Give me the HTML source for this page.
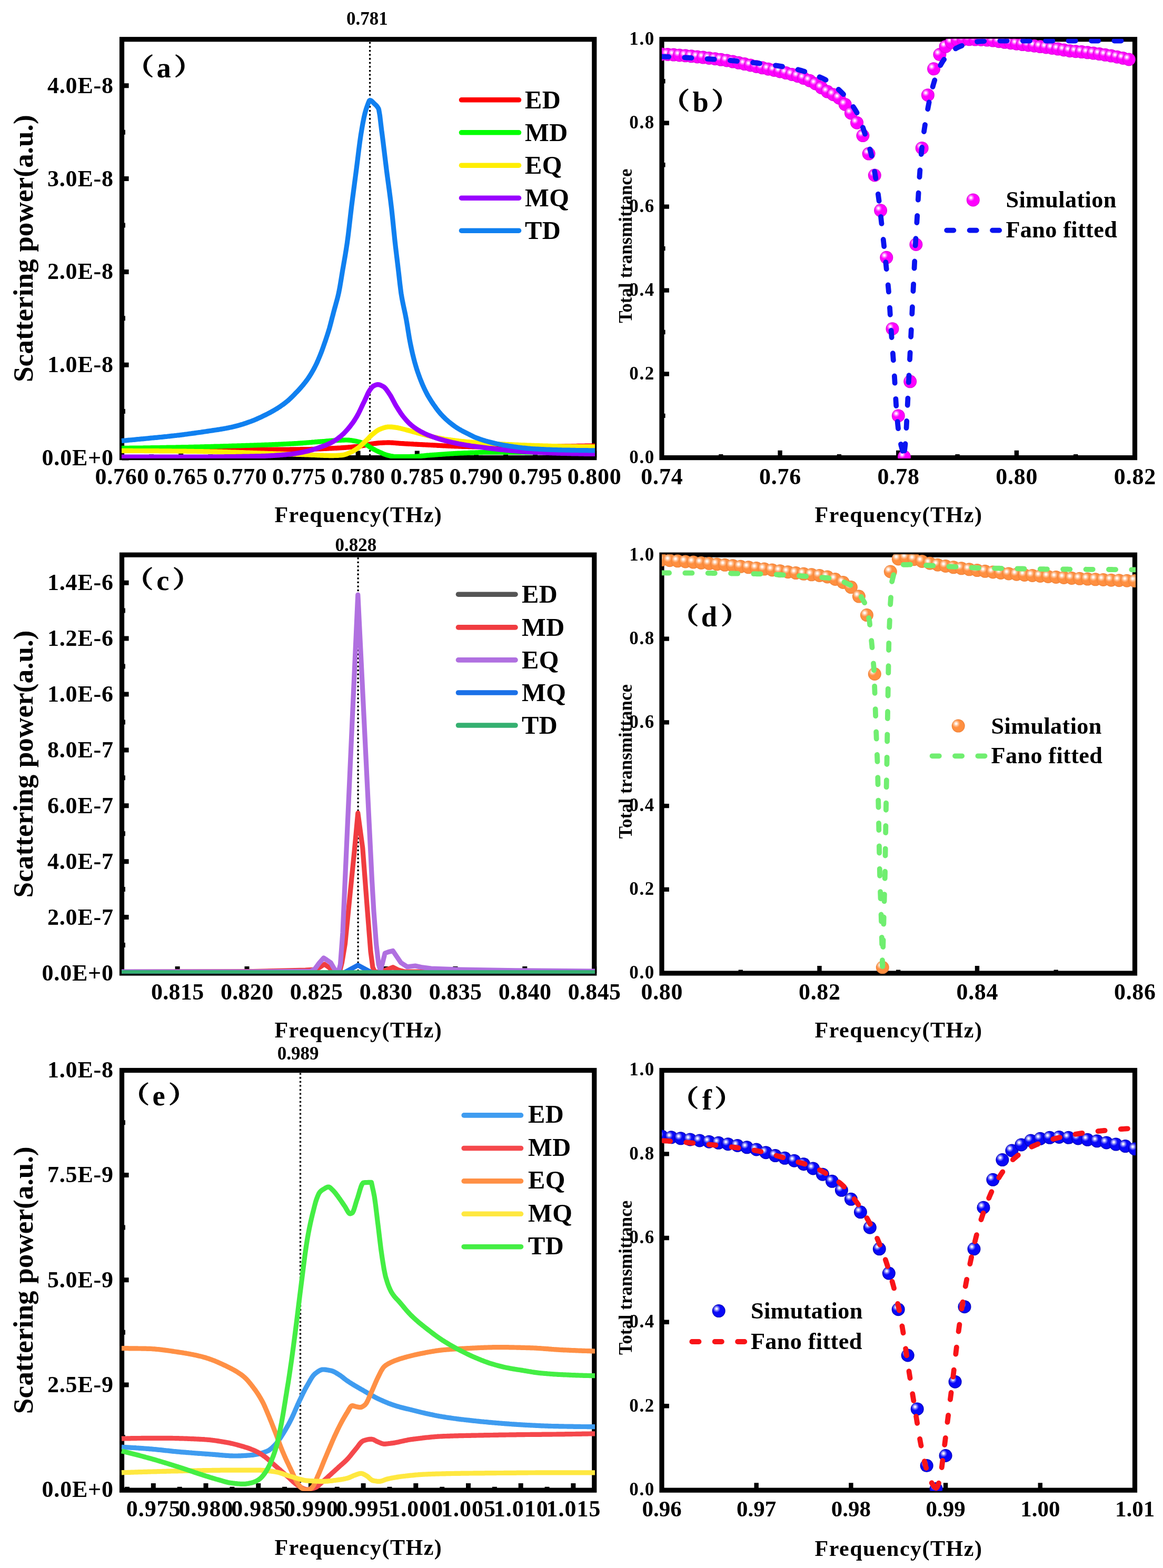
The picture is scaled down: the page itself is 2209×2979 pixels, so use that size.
<!DOCTYPE html>
<html lang="en"><head><meta charset="utf-8"><title>Scattering power and total transmittance</title>
<style>html,body{margin:0;padding:0;background:#fff}body{width:2209px;height:2979px;overflow:hidden}svg{display:block}</style>
</head><body>
<svg width="2209" height="2979" viewBox="0 0 2209 2979" font-family='"Liberation Serif", "Noto Serif CJK SC", serif' font-weight="bold" fill="#000">
<defs><clipPath id="c1"><rect x="230" y="73.2" width="900.3" height="797.9"/></clipPath><clipPath id="c2"><rect x="1257" y="73.8" width="900" height="797.3"/></clipPath><radialGradient id="gbb"><stop offset="0" stop-color="#ff00ff"/><stop offset="0.82" stop-color="#ff00ff"/><stop offset="1" stop-color="#d808d8"/></radialGradient><radialGradient id="gbh"><stop offset="0" stop-color="#fff" stop-opacity="1"/><stop offset="0.22" stop-color="#fff" stop-opacity="0.92"/><stop offset="0.55" stop-color="#fff" stop-opacity="0.45"/><stop offset="1" stop-color="#fff" stop-opacity="0"/></radialGradient><g id="gb"><circle r="12.5" fill="url(#gbb)"/><circle cx="-4.1" cy="-4.2" r="6.8" fill="url(#gbh)"/></g><clipPath id="c3"><rect x="230" y="1052.7" width="900.3" height="797"/></clipPath><clipPath id="c4"><rect x="1257" y="1053.3" width="900" height="797.2"/></clipPath><radialGradient id="gdb"><stop offset="0" stop-color="#ff8f40"/><stop offset="0.82" stop-color="#ff8f40"/><stop offset="1" stop-color="#ec8038"/></radialGradient><radialGradient id="gdh"><stop offset="0" stop-color="#fff" stop-opacity="1"/><stop offset="0.22" stop-color="#fff" stop-opacity="0.92"/><stop offset="0.55" stop-color="#fff" stop-opacity="0.45"/><stop offset="1" stop-color="#fff" stop-opacity="0"/></radialGradient><g id="gd"><circle r="12.5" fill="url(#gdb)"/><circle cx="-4.1" cy="-4.2" r="7.4" fill="url(#gdh)"/></g><clipPath id="c5"><rect x="230" y="2032" width="900.3" height="800.7"/></clipPath><clipPath id="c6"><rect x="1257" y="2032.6" width="900" height="800.1"/></clipPath><radialGradient id="gfb"><stop offset="0" stop-color="#0808f8"/><stop offset="0.82" stop-color="#0808f8"/><stop offset="1" stop-color="#0000b0"/></radialGradient><radialGradient id="gfh"><stop offset="0" stop-color="#fff" stop-opacity="1"/><stop offset="0.22" stop-color="#fff" stop-opacity="0.9"/><stop offset="0.55" stop-color="#fff" stop-opacity="0.45"/><stop offset="1" stop-color="#fff" stop-opacity="0"/></radialGradient><g id="gf"><circle r="12.5" fill="url(#gfb)"/><circle cx="-4.1" cy="-4.2" r="7.2" fill="url(#gfh)"/></g></defs>
<rect x="231.5" y="74.7" width="897.3" height="794.9" fill="none" stroke="#000" stroke-width="9.2"/>
<path d="M231.5 870h13.1M231.5 693.2h13.1M231.5 516.4h13.1M231.5 339.6h13.1M231.5 162.8h13.1" stroke="#000" stroke-width="9" fill="none"/>
<path d="M231.5 781.6h6.4M231.5 604.8h6.4M231.5 428h6.4M231.5 251.2h6.4" stroke="#000" stroke-width="9" fill="none"/>
<path d="M231.5 869.6v-13.1M343.7 869.6v-13.1M455.8 869.6v-13.1M568 869.6v-13.1M680.1 869.6v-13.1M792.3 869.6v-13.1M904.5 869.6v-13.1M1016.6 869.6v-13.1M1128.8 869.6v-13.1" stroke="#000" stroke-width="9" fill="none"/>
<path d="M287.6 869.6v-6.4M399.7 869.6v-6.4M511.9 869.6v-6.4M624.1 869.6v-6.4M736.2 869.6v-6.4M848.4 869.6v-6.4M960.6 869.6v-6.4M1072.7 869.6v-6.4" stroke="#000" stroke-width="9" fill="none"/>
<path d="M702.6 79.7V869.6" stroke="#000" stroke-width="3.3" stroke-dasharray="3.3 4.3" fill="none"/>
<g clip-path="url(#c1)">
<path d="M231 853.6 L233 853.6 L235 853.6 L237 853.6 L239 853.6 L241 853.6 L243 853.6 L245 853.6 L247 853.6 L249 853.6 L251 853.6 L253 853.6 L255 853.6 L257 853.6 L259 853.7 L261 853.7 L263 853.7 L265 853.7 L267 853.7 L269 853.7 L271 853.7 L273 853.7 L275 853.7 L277.1 853.7 L279.1 853.7 L281.1 853.7 L283.1 853.7 L285.1 853.7 L287.1 853.7 L289.1 853.7 L291.1 853.7 L293.1 853.7 L295.1 853.7 L297.1 853.7 L299.1 853.7 L301.1 853.7 L303.1 853.7 L305.1 853.7 L307.1 853.7 L309.1 853.8 L311.1 853.8 L313.1 853.8 L315.1 853.8 L317.1 853.8 L319.1 853.8 L321.1 853.8 L323.1 853.8 L325.1 853.8 L327.1 853.8 L329.1 853.8 L331 853.8 L331.1 853.8 L333.1 853.8 L335.1 853.8 L337.1 853.8 L339.1 853.8 L341.1 853.8 L343.1 853.8 L345.1 853.8 L347.1 853.8 L349.1 853.8 L351.1 853.8 L353.1 853.9 L355.1 853.9 L357.1 853.9 L359.1 853.9 L361.1 853.9 L363.1 853.9 L365.1 853.9 L367.2 853.9 L369.2 853.9 L371.2 853.9 L373.2 853.9 L375.2 853.9 L377.2 853.9 L379.2 853.9 L381.2 853.9 L383.2 853.9 L385.2 853.9 L387.2 853.9 L389.2 853.9 L391.2 853.9 L393.2 853.9 L395.2 854 L397.2 854 L399.2 854 L401.2 854 L403.2 854 L405.2 854 L407.2 854 L409.2 854 L411.2 854 L413.2 854 L415 854 L415.2 854 L417.2 854 L419.2 854 L421.2 854 L423.2 854 L425.2 854 L427.2 854 L429.2 854 L431.2 854 L433.2 854.1 L435.2 854.1 L437.2 854.1 L439.2 854.1 L441.2 854.1 L443.2 854.1 L445.2 854.1 L447.2 854.1 L449.2 854.1 L451.2 854.1 L453.2 854.1 L455.2 854.1 L457.3 854.1 L459.3 854.1 L461.3 854.1 L463.3 854.1 L465.3 854.1 L467.3 854.2 L469.3 854.2 L471.3 854.2 L473.3 854.2 L475.3 854.2 L477.3 854.2 L479.3 854.2 L481.3 854.2 L483.3 854.2 L485.3 854.2 L487.3 854.2 L489.3 854.2 L491.3 854.2 L493.3 854.2 L495.3 854.2 L497.3 854.2 L498.5 854.2 L499.3 854.2 L501.3 854.2 L503.3 854.2 L505.3 854.2 L507.3 854.2 L509.3 854.2 L511.3 854.2 L513.3 854.2 L515.3 854.2 L517.3 854.2 L519.3 854.2 L521.3 854.1 L523.3 854.1 L525.3 854.1 L527.3 854.1 L529.3 854.1 L531.3 854.1 L533.3 854.1 L535.3 854.1 L537.3 854.1 L539.3 854 L541.3 854 L543.3 854 L545.3 854 L547.4 854 L549.4 854 L551.4 853.9 L553.4 853.9 L555.4 853.9 L557.4 853.9 L559.4 853.9 L561.4 853.8 L563.4 853.8 L565.4 853.8 L567.4 853.8 L569.4 853.8 L571.4 853.7 L573.4 853.7 L575.4 853.7 L577.4 853.7 L579.4 853.6 L581.4 853.6 L582 853.6 L583.4 853.6 L585.4 853.5 L587.4 853.5 L589.4 853.5 L591.4 853.4 L593.4 853.4 L595.4 853.3 L597.4 853.3 L599.4 853.2 L601.4 853.1 L603.4 853 L605.4 853 L607.4 852.9 L609.4 852.8 L611.4 852.7 L613.4 852.6 L615.4 852.5 L617.4 852.4 L619.4 852.3 L621.4 852.2 L623.4 852.1 L625.4 852 L627.4 851.9 L629.4 851.8 L631.4 851.7 L633.4 851.6 L635.4 851.5 L637.5 851.4 L637.7 851.4 L639.5 851.3 L641.5 851.2 L643.5 851.1 L645.5 851 L647.5 850.8 L649.5 850.7 L651.5 850.6 L653.5 850.4 L655.5 850.3 L657.5 850.1 L659.5 850 L661.5 849.8 L663.5 849.6 L665.5 849.5 L667.5 849.3 L669.5 849.1 L671.5 848.9 L673.5 848.7 L675.5 848.5 L677.5 848.3 L679.5 848.1 L680 848 L681.5 847.8 L683.5 847.5 L685.5 847.2 L687.5 846.9 L689.5 846.6 L691.5 846.2 L693.5 845.9 L693.9 845.8 L695.5 845.5 L697.5 845.1 L699.5 844.6 L701.5 844.2 L703.5 843.7 L705.5 843.4 L707.5 843 L707.8 843 L709.5 842.8 L711.5 842.5 L713.5 842.3 L715.5 842.1 L717.5 841.9 L719.5 841.7 L721.5 841.5 L723.5 841.4 L725.6 841.3 L727.3 841.2 L727.6 841.2 L729.6 841.1 L731.6 841 L733.6 841 L735.6 840.9 L737.3 840.9 L737.6 840.9 L739.6 840.9 L741.6 841 L743.6 841.1 L745.6 841.2 L747.6 841.3 L749.6 841.5 L751.6 841.7 L753.6 841.8 L755.6 842 L757.6 842.2 L759.6 842.3 L761.6 842.5 L763.5 842.6 L763.6 842.6 L765.6 842.7 L767.6 842.8 L769.6 843 L771.6 843.1 L773.6 843.2 L775.6 843.3 L777.6 843.4 L779.6 843.5 L781.6 843.6 L783.6 843.7 L785.6 843.9 L787.6 844 L789.6 844.1 L791.6 844.2 L793.6 844.3 L795.6 844.4 L797.6 844.5 L799.6 844.6 L801.6 844.7 L803.6 844.8 L805.6 844.9 L807.6 845 L809.6 845.1 L811.6 845.2 L813.6 845.3 L815.7 845.4 L817.7 845.5 L819.2 845.6 L819.7 845.6 L821.7 845.7 L823.7 845.8 L825.7 845.9 L827.7 846 L829.7 846.1 L831.7 846.3 L833.7 846.4 L835.7 846.5 L837.7 846.6 L839.7 846.7 L841.7 846.8 L843.7 846.9 L845.7 847 L847.7 847.1 L849.7 847.2 L851.7 847.3 L853.7 847.4 L855.7 847.5 L857.7 847.6 L859.7 847.7 L861.7 847.7 L863.7 847.8 L865.7 847.9 L867.7 848 L869.7 848 L871.7 848.1 L873.7 848.2 L875 848.2 L875.7 848.2 L877.7 848.3 L879.7 848.3 L881.7 848.4 L883.7 848.4 L885.7 848.5 L887.7 848.5 L889.7 848.6 L891.7 848.6 L893.7 848.7 L895.7 848.7 L897.7 848.8 L899.7 848.8 L901.7 848.9 L903.7 848.9 L905.8 848.9 L907.8 849 L909.8 849 L911.8 849 L913.8 849.1 L915.8 849.1 L917.8 849.1 L919.8 849.1 L921.8 849.2 L923.8 849.2 L925.8 849.2 L927.8 849.2 L929.8 849.2 L930 849.2 L931.8 849.2 L933.8 849.2 L935.8 849.2 L937.8 849.2 L939.8 849.2 L941.8 849.2 L943.8 849.2 L945.8 849.2 L947.8 849.2 L949.8 849.2 L951.8 849.1 L953.8 849.1 L955.8 849.1 L957.8 849.1 L959.8 849.1 L961.8 849.1 L963.8 849.1 L965.8 849.1 L967.8 849 L969.8 849 L971.8 849 L973.8 849 L975.8 849 L977.8 849 L979.8 848.9 L981.8 848.9 L983.8 848.9 L985.8 848.9 L987.8 848.9 L989.8 848.8 L991.8 848.8 L993.8 848.8 L995.9 848.8 L997.9 848.8 L999.9 848.7 L1001.9 848.7 L1003.9 848.7 L1005.9 848.7 L1007.9 848.7 L1009.9 848.6 L1011.9 848.6 L1013.9 848.6 L1014 848.6 L1015.9 848.6 L1017.9 848.6 L1019.9 848.5 L1021.9 848.5 L1023.9 848.5 L1025.9 848.5 L1027.9 848.4 L1029.9 848.4 L1031.9 848.4 L1033.9 848.4 L1035.9 848.3 L1037.9 848.3 L1039.9 848.3 L1041.9 848.2 L1043.9 848.2 L1045.9 848.2 L1047.9 848.1 L1049.9 848.1 L1051.9 848.1 L1053.9 848 L1055.9 848 L1057.9 848 L1059.9 847.9 L1061.9 847.9 L1063.9 847.9 L1065.9 847.9 L1067.9 847.8 L1069.9 847.8 L1070 847.8 L1071.9 847.8 L1073.9 847.7 L1075.9 847.7 L1077.9 847.7 L1079.9 847.7 L1081.9 847.6 L1083.9 847.6 L1086 847.6 L1088 847.6 L1090 847.5 L1092 847.5 L1094 847.5 L1096 847.4 L1098 847.4 L1100 847.4 L1102 847.4 L1104 847.3 L1106 847.3 L1108 847.3 L1110 847.3 L1112 847.2 L1114 847.2 L1116 847.2 L1118 847.2 L1120 847.1 L1122 847.1 L1124 847.1 L1126 847.1 L1128 847 L1130 847" stroke="#ff0000" stroke-width="9.2" fill="none" stroke-linejoin="round"/>
<path d="M231 851.4 L233 851.4 L235 851.4 L237 851.3 L239 851.3 L241 851.3 L243 851.3 L245 851.3 L247 851.2 L249 851.2 L251 851.2 L253 851.2 L255 851.2 L257 851.1 L259 851.1 L261 851.1 L263 851.1 L265 851 L267 851 L269 851 L271 851 L273 850.9 L275 850.9 L277.1 850.9 L279.1 850.8 L281.1 850.8 L283.1 850.8 L285.1 850.8 L287.1 850.7 L289.1 850.7 L291.1 850.7 L293.1 850.6 L295.1 850.6 L297.1 850.6 L299.1 850.5 L301.1 850.5 L303.1 850.5 L305.1 850.4 L307.1 850.4 L309.1 850.4 L311.1 850.4 L313.1 850.3 L315.1 850.3 L317.1 850.2 L319.1 850.2 L321.1 850.2 L323.1 850.1 L325.1 850.1 L327.1 850.1 L329.1 850 L331.1 850 L331.4 850 L333.1 850 L335.1 849.9 L337.1 849.9 L339.1 849.9 L341.1 849.8 L343.1 849.8 L345.1 849.7 L347.1 849.7 L349.1 849.7 L351.1 849.6 L353.1 849.6 L355.1 849.5 L357.1 849.5 L359.1 849.4 L361.1 849.4 L363.1 849.4 L365.1 849.3 L367.2 849.3 L369.2 849.2 L371.2 849.2 L373.2 849.1 L375.2 849.1 L377.2 849 L379.2 849 L381.2 848.9 L383.2 848.9 L385.2 848.8 L387.2 848.8 L389.2 848.7 L391.2 848.7 L393.2 848.6 L395.2 848.6 L397.2 848.5 L399.2 848.5 L401.2 848.4 L403.2 848.3 L405.2 848.3 L407.2 848.2 L409.2 848.2 L411.2 848.1 L413.2 848.1 L415.2 848 L417.2 848 L419.2 847.9 L421.2 847.8 L423.2 847.8 L425.2 847.7 L427.2 847.7 L429.2 847.6 L431.2 847.5 L433.2 847.5 L435.2 847.4 L437.2 847.4 L439.2 847.3 L441.2 847.2 L442.8 847.2 L443.2 847.2 L445.2 847.1 L447.2 847.1 L449.2 847 L451.2 846.9 L453.2 846.9 L455.2 846.8 L457.3 846.8 L459.3 846.7 L461.3 846.6 L463.3 846.6 L465.3 846.5 L467.3 846.4 L469.3 846.4 L471.3 846.3 L473.3 846.3 L475.3 846.2 L477.3 846.1 L479.3 846.1 L481.3 846 L483.3 845.9 L485.3 845.9 L487.3 845.8 L489.3 845.7 L491.3 845.7 L493.3 845.6 L495.3 845.5 L497.3 845.4 L499.3 845.4 L501.3 845.3 L503.3 845.2 L505.3 845.1 L507.3 845.1 L509.3 845 L511.3 844.9 L513.3 844.8 L515.3 844.8 L517.3 844.7 L519.3 844.6 L521.3 844.5 L523.3 844.4 L525.3 844.4 L527.3 844.3 L529.3 844.2 L531.3 844.1 L533.3 844 L535.3 843.9 L537.3 843.8 L539.3 843.7 L541.3 843.6 L543.3 843.5 L545.3 843.4 L547.4 843.3 L549.4 843.2 L551.4 843.1 L553.4 843 L554.2 843 L555.4 842.9 L557.4 842.8 L559.4 842.7 L561.4 842.6 L563.4 842.5 L565.4 842.3 L567.4 842.2 L569.4 842.1 L571.4 841.9 L573.4 841.8 L575.4 841.6 L577.4 841.5 L579.4 841.3 L581.4 841.2 L583.4 841 L585.4 840.8 L587.4 840.7 L589.4 840.5 L591.4 840.4 L593.4 840.2 L595.4 840 L597.4 839.9 L599.4 839.7 L601.4 839.6 L603.4 839.4 L605.4 839.2 L607.4 839.1 L609.4 838.9 L609.9 838.9 L611.4 838.8 L613.4 838.6 L615.4 838.5 L617.4 838.3 L619.4 838.1 L621.4 837.9 L623.4 837.8 L625.4 837.6 L627.4 837.4 L629.4 837.3 L631.4 837.1 L633.4 837 L635.4 836.8 L637.5 836.7 L639.5 836.6 L640 836.6 L641.5 836.5 L643.5 836.4 L645.5 836.4 L647.5 836.3 L649.5 836.2 L651.5 836.1 L653.5 836.1 L655.5 836 L657.5 836 L658.6 836 L659.5 836 L661.5 836.1 L663.5 836.2 L665.5 836.5 L667.5 836.7 L669.5 837 L671.5 837.4 L673.5 837.7 L675.5 838.1 L676.7 838.3 L677.5 838.5 L679.5 838.9 L681.5 839.4 L683.5 839.9 L685.5 840.6 L687.5 841.2 L689.5 842 L691.5 842.7 L691.9 842.9 L693.5 843.6 L695.5 844.7 L697.5 845.9 L699.5 847.2 L701.5 848.6 L703.5 849.9 L705.5 851.2 L707 852 L707.5 852.3 L709.5 853.4 L711.5 854.4 L713.5 855.5 L715.5 856.5 L717.5 857.4 L719.5 858.4 L721.5 859.3 L722.1 859.5 L723.5 860.1 L725.6 861 L727.6 861.9 L729.6 862.7 L731.6 863.5 L733.6 864.2 L735.6 864.8 L737.3 865.2 L737.6 865.3 L739.6 865.7 L741.6 866.2 L743.6 866.6 L745.6 866.9 L747.6 867.3 L749.6 867.5 L751.6 867.6 L752.4 867.6 L753.6 867.6 L755.6 867.6 L757.6 867.6 L759.6 867.6 L761.6 867.6 L763.6 867.6 L765.6 867.6 L767.6 867.5 L769.6 867.5 L771.6 867.5 L773.6 867.5 L775.6 867.5 L777.6 867.5 L779.6 867.4 L781.6 867.4 L782.7 867.4 L783.6 867.4 L785.6 867.3 L787.6 867.3 L789.6 867.2 L791.6 867 L793.6 866.9 L795.6 866.7 L797.6 866.6 L799.6 866.4 L801.6 866.2 L803.6 866 L805.6 865.8 L807.6 865.6 L809.6 865.4 L811.6 865.2 L813.6 865 L815.7 864.9 L817.7 864.7 L819.2 864.6 L819.7 864.6 L821.7 864.4 L823.7 864.3 L825.7 864.1 L827.7 864 L829.7 863.8 L831.7 863.7 L833.7 863.5 L835.7 863.4 L837.7 863.3 L839.7 863.1 L841.7 863 L843.7 862.8 L845.7 862.7 L847.7 862.5 L849.7 862.4 L851.7 862.3 L853.7 862.1 L855.7 862 L857.7 861.9 L859.7 861.8 L861.7 861.6 L863.7 861.5 L865.7 861.4 L867.7 861.3 L869.7 861.2 L871.7 861.1 L873.7 861 L874.9 861 L875.7 861 L877.7 860.9 L879.7 860.8 L881.7 860.7 L883.7 860.6 L885.7 860.6 L887.7 860.5 L889.7 860.4 L891.7 860.3 L893.7 860.2 L895.7 860.2 L897.7 860.1 L899.7 860 L901.7 860 L903.7 859.9 L905.8 859.8 L907.8 859.8 L909.8 859.7 L911.8 859.7 L913.8 859.6 L915.8 859.6 L917.8 859.5 L919.8 859.5 L921.8 859.5 L923.8 859.4 L925.8 859.4 L927.8 859.4 L929.8 859.4 L930.6 859.4 L931.8 859.4 L933.8 859.4 L935.8 859.4 L937.8 859.4 L939.8 859.4 L941.8 859.4 L943.8 859.4 L945.8 859.4 L947.8 859.4 L949.8 859.4 L951.8 859.4 L953.8 859.4 L955.8 859.4 L957.8 859.4 L959.8 859.4 L961.8 859.4 L963.8 859.4 L965.8 859.5 L967.8 859.5 L969.8 859.5 L971.8 859.5 L973.8 859.5 L975.8 859.5 L977.8 859.5 L979.8 859.5 L981.8 859.5 L983.8 859.5 L985.8 859.5 L987.8 859.5 L989.8 859.5 L991.8 859.5 L993.8 859.5 L995.9 859.5 L997.9 859.6 L999.9 859.6 L1001.9 859.6 L1003.9 859.6 L1005.9 859.6 L1007.9 859.6 L1009.9 859.6 L1011.9 859.6 L1013.9 859.6 L1014 859.6 L1015.9 859.6 L1017.9 859.6 L1019.9 859.6 L1021.9 859.6 L1023.9 859.6 L1025.9 859.6 L1027.9 859.6 L1029.9 859.6 L1031.9 859.7 L1033.9 859.7 L1035.9 859.7 L1037.9 859.7 L1039.9 859.7 L1041.9 859.7 L1043.9 859.7 L1045.9 859.7 L1047.9 859.7 L1049.9 859.7 L1051.9 859.7 L1053.9 859.7 L1055.9 859.7 L1057.9 859.7 L1059.9 859.7 L1061.9 859.7 L1063.9 859.8 L1065.9 859.8 L1067.9 859.8 L1069.9 859.8 L1071.9 859.8 L1073.9 859.8 L1075.9 859.8 L1077.9 859.8 L1079.9 859.8 L1081.9 859.8 L1083.9 859.8 L1086 859.8 L1088 859.8 L1090 859.8 L1092 859.9 L1094 859.9 L1096 859.9 L1098 859.9 L1100 859.9 L1102 859.9 L1104 859.9 L1106 859.9 L1108 859.9 L1110 859.9 L1112 859.9 L1114 859.9 L1116 859.9 L1118 860 L1120 860 L1122 860 L1124 860 L1126 860 L1128 860 L1130 860" stroke="#00ff00" stroke-width="9.2" fill="none" stroke-linejoin="round"/>
<path d="M231 856.4 L233 856.4 L235 856.4 L237 856.4 L239 856.4 L241 856.4 L243 856.4 L245 856.4 L247 856.4 L249 856.4 L251 856.4 L253 856.5 L255 856.5 L257 856.5 L259 856.5 L261 856.5 L263 856.5 L265 856.5 L267 856.5 L269 856.5 L271 856.5 L273 856.5 L275 856.6 L277.1 856.6 L279.1 856.6 L281.1 856.6 L283.1 856.6 L285.1 856.6 L287.1 856.6 L289.1 856.7 L291.1 856.7 L293.1 856.7 L295.1 856.7 L297.1 856.7 L299.1 856.7 L301.1 856.7 L303.1 856.8 L305.1 856.8 L307.1 856.8 L309.1 856.8 L311.1 856.8 L313.1 856.8 L315.1 856.9 L317.1 856.9 L319.1 856.9 L321.1 856.9 L323.1 856.9 L325.1 856.9 L327.1 857 L329.1 857 L331.1 857 L331.4 857 L333.1 857 L335.1 857 L337.1 857.1 L339.1 857.1 L341.1 857.1 L343.1 857.1 L345.1 857.1 L347.1 857.2 L349.1 857.2 L351.1 857.2 L353.1 857.2 L355.1 857.3 L357.1 857.3 L359.1 857.3 L361.1 857.3 L363.1 857.4 L365.1 857.4 L367.2 857.4 L369.2 857.5 L371.2 857.5 L373.2 857.5 L375.2 857.6 L377.2 857.6 L379.2 857.6 L381.2 857.7 L383.2 857.7 L385.2 857.7 L387.2 857.8 L389.2 857.8 L391.2 857.8 L393.2 857.9 L395.2 857.9 L397.2 857.9 L399.2 858 L401.2 858 L403.2 858.1 L405.2 858.1 L407.2 858.1 L409.2 858.2 L411.2 858.2 L413.2 858.3 L415 858.3 L415.2 858.3 L417.2 858.3 L419.2 858.4 L421.2 858.4 L423.2 858.5 L425.2 858.5 L427.2 858.6 L429.2 858.7 L431.2 858.7 L433.2 858.8 L435.2 858.8 L437.2 858.9 L439.2 859 L441.2 859 L443.2 859.1 L445.2 859.2 L447.2 859.2 L449.2 859.3 L451.2 859.4 L453.2 859.4 L455.2 859.5 L457.3 859.6 L459.3 859.7 L461.3 859.7 L463.3 859.8 L465.3 859.9 L467.3 860 L469.3 860 L471.3 860.1 L473.3 860.2 L475.3 860.3 L477.3 860.3 L479.3 860.4 L481.3 860.5 L483.3 860.6 L485.3 860.6 L487.3 860.7 L489.3 860.8 L491.3 860.9 L493.3 860.9 L495.3 861 L497.3 861.1 L498.5 861.1 L499.3 861.1 L501.3 861.2 L503.3 861.3 L505.3 861.3 L507.3 861.4 L509.3 861.5 L511.3 861.5 L513.3 861.6 L515.3 861.7 L517.3 861.7 L519.3 861.8 L521.3 861.9 L523.3 861.9 L525.3 862 L527.3 862.1 L529.3 862.1 L531.3 862.2 L533.3 862.3 L535.3 862.3 L537.3 862.4 L539.3 862.5 L541.3 862.5 L543.3 862.6 L545.3 862.7 L547.4 862.7 L549.4 862.8 L551.4 862.9 L553.4 862.9 L555.4 863 L557.4 863.1 L559.4 863.1 L561.4 863.2 L563.4 863.3 L565.4 863.3 L567.4 863.4 L569.4 863.5 L571.4 863.5 L573.4 863.6 L575.4 863.7 L577.4 863.7 L579.4 863.8 L581.4 863.9 L582 863.9 L583.4 863.9 L585.4 864 L587.4 864.1 L589.4 864.2 L591.4 864.3 L593.4 864.4 L595.4 864.5 L597.4 864.5 L599.4 864.6 L601.4 864.7 L603.4 864.8 L605.4 864.9 L607.4 865 L609.4 865.1 L611.4 865.2 L613.4 865.2 L615.4 865.3 L617.4 865.4 L619.4 865.4 L621.4 865.5 L623.4 865.5 L625.4 865.6 L627.4 865.6 L629.4 865.6 L631.3 865.6 L631.4 865.6 L633.4 865.6 L635.4 865.5 L637.5 865.5 L639.5 865.4 L641.5 865.3 L643.5 865.1 L645.5 865 L647.5 864.8 L649.5 864.6 L650 864.6 L651.5 864.4 L653.5 864 L655.5 863.5 L657.5 862.8 L659.5 862.1 L661.5 861.3 L663.5 860.5 L665.5 859.6 L665.6 859.6 L667.5 858.8 L669.5 857.7 L671.5 856.6 L673.5 855.4 L675.5 854.1 L677.5 852.8 L679.5 851.4 L680 851 L681.5 849.9 L683.5 848.2 L685.5 846.5 L687.5 844.6 L689.5 842.7 L691.5 840.8 L693.5 838.9 L693.9 838.5 L695.5 836.9 L697.5 834.9 L699.5 832.9 L701.5 830.8 L703.5 828.8 L705.5 827 L707.5 825.2 L707.8 825 L709.5 823.6 L711.5 822 L713.5 820.4 L715.5 818.9 L717.5 817.6 L719.5 816.4 L721.5 815.5 L721.8 815.4 L723.5 814.7 L725.6 814 L727.6 813.2 L729.6 812.6 L731.6 812 L733.6 811.5 L735.6 811.2 L737.6 811 L738.5 811 L739.6 811 L741.6 811.1 L743.6 811.2 L745.6 811.4 L747.6 811.6 L749.6 811.8 L751.6 812.1 L752.4 812.2 L753.6 812.4 L755.6 812.7 L757.6 813.2 L759.6 813.6 L761.6 814.1 L763.5 814.6 L763.6 814.6 L765.6 815.1 L767.6 815.6 L769.6 816.1 L771.6 816.7 L773.6 817.2 L775.6 817.7 L777.6 818.3 L779.6 818.9 L781.6 819.4 L783.6 820 L785.6 820.5 L787.6 821.1 L789.6 821.6 L791.4 822.1 L791.6 822.2 L793.6 822.7 L795.6 823.2 L797.6 823.8 L799.6 824.3 L801.6 824.8 L803.6 825.3 L805.6 825.9 L807.6 826.4 L809.6 826.9 L811.6 827.4 L813.6 827.9 L815.7 828.4 L817.7 828.9 L819.2 829.2 L819.7 829.3 L821.7 829.7 L823.7 830.2 L825.7 830.6 L827.7 831.1 L829.7 831.5 L831.7 831.9 L833.7 832.3 L835.7 832.7 L837.7 833.1 L839.7 833.5 L841.7 833.8 L843.7 834.2 L845.7 834.5 L847.1 834.7 L847.7 834.8 L849.7 835.1 L851.7 835.4 L853.7 835.6 L855.7 835.9 L857.7 836.2 L859.7 836.4 L861.7 836.7 L863.7 836.9 L865.7 837.2 L867.7 837.4 L869.7 837.6 L871.7 837.9 L873.7 838.1 L875.7 838.3 L877.7 838.5 L879.7 838.7 L881.7 838.9 L883.7 839.1 L885.7 839.3 L887.7 839.5 L889.7 839.7 L891.7 839.9 L893.7 840.1 L895.7 840.2 L897.7 840.4 L899.7 840.6 L901.7 840.7 L902.8 840.8 L903.7 840.9 L905.8 841 L907.8 841.2 L909.8 841.3 L911.8 841.5 L913.8 841.6 L915.8 841.7 L917.8 841.9 L919.8 842 L921.8 842.1 L923.8 842.2 L925.8 842.4 L927.8 842.5 L929.8 842.6 L931.8 842.7 L933.8 842.8 L935.8 842.9 L937.8 843 L939.8 843.2 L941.8 843.3 L943.8 843.4 L945.8 843.5 L947.8 843.6 L949.8 843.7 L951.8 843.8 L953.8 843.9 L955.8 844 L957.8 844.1 L958.5 844.1 L959.8 844.2 L961.8 844.3 L963.8 844.4 L965.8 844.4 L967.8 844.5 L969.8 844.6 L971.8 844.7 L973.8 844.8 L975.8 844.9 L977.8 845 L979.8 845.1 L981.8 845.2 L983.8 845.2 L985.8 845.3 L987.8 845.4 L989.8 845.5 L991.8 845.6 L993.8 845.7 L995.9 845.7 L997.9 845.8 L999.9 845.9 L1001.9 846 L1003.9 846 L1005.9 846.1 L1007.9 846.2 L1009.9 846.3 L1011.9 846.3 L1013.9 846.4 L1014.2 846.4 L1015.9 846.5 L1017.9 846.5 L1019.9 846.6 L1021.9 846.7 L1023.9 846.7 L1025.9 846.8 L1027.9 846.9 L1029.9 846.9 L1031.9 847 L1033.9 847.1 L1035.9 847.1 L1037.9 847.2 L1039.9 847.2 L1041.9 847.3 L1043.9 847.4 L1045.9 847.4 L1047.9 847.5 L1049.9 847.5 L1051.9 847.6 L1053.9 847.6 L1055.9 847.7 L1057.9 847.7 L1059.9 847.8 L1061.9 847.8 L1063.9 847.9 L1065.9 847.9 L1067.9 848 L1069.9 848 L1069.9 848 L1071.9 848 L1073.9 848.1 L1075.9 848.1 L1077.9 848.1 L1079.9 848.2 L1081.9 848.2 L1083.9 848.2 L1086 848.3 L1088 848.3 L1090 848.3 L1092 848.4 L1094 848.4 L1096 848.4 L1098 848.5 L1100 848.5 L1102 848.5 L1104 848.6 L1106 848.6 L1108 848.6 L1110 848.6 L1112 848.6 L1114 848.7 L1116 848.7 L1118 848.7 L1120 848.7 L1122 848.7 L1124 848.8 L1126 848.8 L1128 848.8 L1130 848.8" stroke="#ffee00" stroke-width="9.2" fill="none" stroke-linejoin="round"/>
<path d="M231 868.1 L233 868.1 L235 868.1 L237 868.1 L239 868.1 L241 868.1 L243 868.1 L245 868.1 L247 868.1 L249 868.1 L251 868.1 L253 868.1 L255 868.1 L257 868.1 L259 868.1 L261 868.1 L263 868.1 L265 868.1 L267 868.1 L269 868.1 L271 868.1 L273 868.1 L275 868.1 L277.1 868.1 L279.1 868.1 L281.1 868.1 L283.1 868.1 L285.1 868.1 L287.1 868.1 L289.1 868.1 L291.1 868.1 L293.1 868.1 L295.1 868.1 L297.1 868.1 L299.1 868.1 L301.1 868.1 L303.1 868.1 L305.1 868.1 L307.1 868.1 L309.1 868.1 L311.1 868.1 L313.1 868.1 L315.1 868.1 L317.1 868.1 L319.1 868.1 L321.1 868.1 L323.1 868.1 L325.1 868.1 L327.1 868.1 L329.1 868.1 L331.1 868.1 L333.1 868.1 L335.1 868.1 L337.1 868.1 L339.1 868.1 L341.1 868.1 L343.1 868 L345.1 868 L347.1 868 L349.1 868 L351.1 868 L353.1 868 L355.1 868 L357.1 868 L359.1 868 L361.1 868 L363.1 868 L365.1 868 L367.2 868 L369.2 868 L371.2 868 L373.2 868 L375.2 868 L377.2 868 L379.2 868 L381.2 868 L383.2 868 L385.2 868 L387 868 L387.2 868 L389.2 868 L391.2 868 L393.2 868 L395.2 868 L397.2 868 L399.2 868 L401.2 868 L403.2 867.9 L405.2 867.9 L407.2 867.9 L409.2 867.9 L411.2 867.9 L413.2 867.9 L415.2 867.9 L417.2 867.8 L419.2 867.8 L421.2 867.8 L423.2 867.8 L425.2 867.8 L427.2 867.7 L429.2 867.7 L431.2 867.7 L433.2 867.7 L435.2 867.6 L437.2 867.6 L439.2 867.6 L441.2 867.6 L443.2 867.5 L445.2 867.5 L447.2 867.5 L449.2 867.4 L451.2 867.4 L453.2 867.4 L455.2 867.3 L457.3 867.3 L459.3 867.3 L461.3 867.2 L463.3 867.2 L465.3 867.2 L467.3 867.1 L469.3 867.1 L471.3 867 L473.3 867 L475.3 866.9 L477.3 866.9 L479.3 866.9 L481.3 866.8 L483.3 866.8 L485.3 866.7 L487.3 866.7 L489.3 866.6 L491.3 866.6 L493.3 866.5 L495.3 866.5 L497.3 866.4 L498.5 866.4 L499.3 866.4 L501.3 866.3 L503.3 866.3 L505.3 866.2 L507.3 866.1 L509.3 866 L511.3 865.9 L513.3 865.8 L515.3 865.7 L517.3 865.6 L519.3 865.5 L521.3 865.4 L523.3 865.2 L525.3 865.1 L527.3 864.9 L529.3 864.8 L531.3 864.6 L533.3 864.5 L535.3 864.3 L537.3 864.1 L539.3 864 L541.3 863.8 L543.3 863.6 L545.3 863.4 L547.4 863.2 L549.4 863 L551.4 862.8 L553.4 862.6 L554.2 862.5 L555.4 862.4 L557.4 862.1 L559.4 861.9 L561.4 861.6 L563.4 861.2 L565.4 860.9 L567.4 860.6 L569.4 860.2 L571.4 859.8 L573.4 859.4 L575.4 859 L577.4 858.5 L579.4 858.1 L581.4 857.6 L582 857.5 L583.4 857.2 L585.4 856.7 L587.4 856.2 L589.4 855.6 L591.4 855.1 L593.4 854.5 L595.4 853.9 L597.4 853.3 L599.4 852.6 L601.4 852 L603.4 851.3 L605.4 850.6 L607.4 849.9 L609.4 849.2 L609.9 849 L611.4 848.4 L613.4 847.7 L615.4 847 L617.4 846.2 L619.4 845.4 L621.4 844.5 L623.4 843.6 L625.4 842.7 L627.4 841.8 L629.4 840.8 L631.3 839.8 L631.4 839.7 L633.4 838.6 L635.4 837.4 L637.5 836.1 L639.5 834.7 L641.5 833.3 L643.5 831.7 L645.5 830.1 L646.5 829.3 L647.5 828.5 L649.5 826.7 L651.5 824.9 L653.5 822.9 L655.5 820.8 L657.5 818.7 L659.5 816.5 L661.5 814.1 L661.6 814 L663.5 811.7 L665.5 809.3 L667.5 806.6 L669.5 803.9 L671.5 801.1 L673.5 798.1 L675.5 794.9 L676.7 793 L677.5 791.7 L679.5 788.1 L681.5 784.3 L683.5 780.2 L685.5 776.1 L687.5 771.8 L689.5 767.6 L691.5 763.5 L691.9 762.7 L693.5 759.3 L695.5 754.8 L697.5 750.3 L699.5 746.1 L701.5 742.5 L702.5 741 L703.5 739.6 L705.5 737 L707.5 734.8 L709.5 733.3 L710 733 L711.5 732.3 L713.5 731.4 L715.5 730.8 L717.5 730.6 L717.6 730.6 L719.5 730.8 L721.5 731.3 L723.5 732.1 L725.6 733.1 L727.6 734.1 L728.2 734.5 L729.6 735.4 L731.6 737.3 L733.6 739.7 L735.6 742.5 L737.6 745.4 L739.6 748.4 L740 749 L741.6 751.4 L743.6 754.9 L745.6 758.6 L747.6 762.4 L749.6 766.2 L751.6 769.8 L752.6 771.5 L753.6 773.1 L755.6 776.3 L757.6 779.5 L759.6 782.6 L761.6 785.6 L763.6 788.4 L765.2 790.5 L765.6 791 L767.6 793.5 L769.6 795.9 L771.6 798.2 L773.6 800.4 L775.6 802.5 L777.6 804.5 L779.3 806 L779.6 806.3 L781.6 808 L783.6 809.6 L785.6 811.1 L787.6 812.6 L789.6 814 L791.6 815.3 L793.6 816.6 L795.1 817.5 L795.6 817.8 L797.6 819 L799.6 820.1 L801.6 821.2 L803.6 822.2 L805.6 823.2 L807.6 824.1 L809.6 825 L810.8 825.5 L811.6 825.9 L813.6 826.7 L815.7 827.5 L817.7 828.3 L819.7 829 L821.7 829.8 L823.7 830.5 L825.7 831.2 L827.7 831.9 L829.7 832.5 L831.7 833.2 L833.7 833.8 L834.4 834 L835.7 834.4 L837.7 835 L839.7 835.5 L841.7 836.1 L843.7 836.7 L845.7 837.2 L847.7 837.7 L849.7 838.3 L851.7 838.8 L853.7 839.2 L855.7 839.7 L857.7 840.2 L859.7 840.7 L861.7 841.1 L863.7 841.5 L865.7 842 L865.9 842 L867.7 842.4 L869.7 842.8 L871.7 843.2 L873.7 843.5 L875.7 843.9 L877.7 844.3 L879.7 844.6 L881.7 845 L883.7 845.3 L885.7 845.7 L887.7 846 L889.7 846.3 L891.7 846.6 L893.7 847 L895.7 847.3 L897.4 847.5 L897.7 847.6 L899.7 847.8 L901.7 848.1 L903.7 848.4 L905.8 848.7 L907.8 848.9 L909.8 849.2 L911.8 849.4 L913.8 849.7 L915.8 849.9 L917.8 850.2 L919.8 850.4 L921.8 850.6 L923.8 850.9 L925.8 851.1 L927.8 851.4 L928.9 851.5 L929.8 851.6 L931.8 851.9 L933.8 852.1 L935.8 852.4 L937.8 852.6 L939.8 852.9 L941.8 853.1 L943.8 853.4 L945.8 853.6 L947.8 853.8 L949.8 854.1 L951.8 854.3 L953.8 854.5 L955.8 854.7 L957.8 854.9 L958.5 855 L959.8 855.1 L961.8 855.3 L963.8 855.5 L965.8 855.7 L967.8 855.9 L969.8 856 L971.8 856.2 L973.8 856.4 L975.8 856.5 L977.8 856.7 L979.8 856.9 L981.8 857 L983.8 857.2 L985.8 857.4 L987.8 857.5 L989.8 857.7 L991.8 857.8 L993.8 857.9 L995.9 858.1 L997.9 858.2 L999.9 858.4 L1001.9 858.5 L1003.9 858.6 L1005.9 858.7 L1007.9 858.9 L1009.9 859 L1011.9 859.1 L1013.9 859.2 L1014.2 859.2 L1015.9 859.3 L1017.9 859.4 L1019.9 859.5 L1021.9 859.6 L1023.9 859.7 L1025.9 859.8 L1027.9 859.9 L1029.9 860 L1031.9 860.1 L1033.9 860.1 L1035.9 860.2 L1037.9 860.3 L1039.9 860.4 L1041.9 860.5 L1043.9 860.6 L1045.9 860.6 L1047.9 860.7 L1049.9 860.8 L1051.9 860.9 L1053.9 860.9 L1055.9 861 L1057.9 861.1 L1059.9 861.1 L1061.9 861.2 L1063.9 861.2 L1065.9 861.3 L1067.9 861.3 L1069.9 861.4 L1069.9 861.4 L1071.9 861.5 L1073.9 861.5 L1075.9 861.5 L1077.9 861.6 L1079.9 861.6 L1081.9 861.7 L1083.9 861.7 L1086 861.8 L1088 861.8 L1090 861.9 L1092 861.9 L1094 862 L1096 862 L1098 862 L1100 862.1 L1102 862.1 L1104 862.2 L1106 862.2 L1108 862.2 L1110 862.3 L1112 862.3 L1114 862.3 L1116 862.4 L1118 862.4 L1120 862.4 L1122 862.4 L1124 862.4 L1126 862.5 L1128 862.5 L1130 862.5" stroke="#9900ff" stroke-width="9.2" fill="none" stroke-linejoin="round"/>
<path d="M231 837.5 L233 837.3 L235 837.1 L237 837 L239 836.8 L241 836.6 L243 836.4 L245 836.2 L247 836 L249 835.8 L251 835.7 L253 835.5 L255 835.3 L257 835.1 L259 834.9 L261 834.7 L263 834.5 L265 834.3 L267 834.1 L269 833.9 L271 833.8 L273 833.6 L275 833.4 L275.7 833.3 L277.1 833.2 L279.1 833 L281.1 832.8 L283.1 832.6 L285.1 832.4 L287.1 832.2 L289.1 832 L291.1 831.8 L293.1 831.6 L295.1 831.4 L297.1 831.3 L299.1 831.1 L301.1 830.9 L303.1 830.7 L305.1 830.5 L307.1 830.3 L309.1 830.1 L311.1 829.9 L313.1 829.7 L315.1 829.5 L317.1 829.3 L319.1 829 L321.1 828.8 L323.1 828.6 L325.1 828.4 L327.1 828.2 L329.1 828 L331.1 827.7 L331.4 827.7 L333.1 827.5 L335.1 827.3 L337.1 827 L339.1 826.8 L341.1 826.6 L343.1 826.3 L345.1 826.1 L347.1 825.8 L349.1 825.6 L351.1 825.3 L353.1 825 L355.1 824.8 L357.1 824.5 L359.1 824.2 L361.1 824 L363.1 823.7 L365.1 823.4 L367.2 823.2 L369.2 822.9 L371.2 822.6 L373.2 822.3 L375.2 822 L377.2 821.7 L379.2 821.5 L381.2 821.2 L383.2 820.9 L385.2 820.6 L387.1 820.3 L387.2 820.3 L389.2 820 L391.2 819.7 L393.2 819.4 L395.2 819.1 L397.2 818.8 L399.2 818.5 L401.2 818.2 L403.2 817.9 L405.2 817.6 L407.2 817.3 L409.2 817 L411.2 816.7 L413.2 816.4 L415.2 816.1 L417.2 815.8 L419.2 815.4 L421.2 815.1 L423.2 814.8 L425.2 814.4 L427.2 814 L429.2 813.7 L431.2 813.3 L433.2 812.9 L435.2 812.5 L437.2 812.1 L439.2 811.7 L440 811.5 L441.2 811.2 L443.2 810.8 L445.2 810.3 L447.2 809.8 L449.2 809.3 L451.2 808.7 L453.2 808.2 L455.2 807.6 L457.3 807 L459.3 806.4 L461.3 805.8 L463.3 805.1 L465.3 804.5 L467.3 803.8 L469.3 803.1 L471.3 802.4 L473.3 801.7 L473.9 801.5 L475.3 801 L477.3 800.3 L479.3 799.5 L481.3 798.7 L483.3 797.9 L485.3 797.1 L487.3 796.2 L489.3 795.3 L491.3 794.4 L493.3 793.5 L495.3 792.6 L497.3 791.7 L499.3 790.7 L501.3 789.7 L503.3 788.7 L505.3 787.8 L507.3 786.7 L507.8 786.5 L509.3 785.7 L511.3 784.7 L513.3 783.6 L515.3 782.5 L517.3 781.4 L519.3 780.3 L521.3 779.1 L523.3 777.9 L525.3 776.7 L527.3 775.5 L529.3 774.2 L529.6 774 L531.3 772.9 L533.3 771.5 L535.3 770.1 L537.3 768.7 L539.3 767.2 L541.3 765.7 L543.3 764.1 L545.3 762.5 L545.3 762.5 L547.4 760.8 L549.4 759 L551.4 757.1 L553.4 755.2 L555.4 753.2 L557.4 751.2 L559.4 749.2 L561 747.5 L561.4 747.1 L563.4 745.1 L565.4 743 L567.4 740.8 L569.4 738.6 L571.4 736.4 L573.4 734.1 L575.4 731.7 L576.8 730 L577.4 729.3 L579.4 726.7 L581.4 724.1 L583.4 721.4 L585.4 718.6 L587.4 715.6 L589.4 712.5 L589.4 712.5 L591.4 709.3 L593.4 705.8 L595.4 702.2 L597.4 698.5 L599.4 694.5 L600.4 692.5 L601.4 690.4 L603.4 686 L605.4 681.3 L607.4 676.5 L609.4 671.5 L609.8 670.5 L611.4 666.3 L613.4 660.8 L615.4 655.1 L617.4 649.3 L617.7 648.5 L619.4 643.4 L621.4 637.4 L623.4 631.2 L625.4 624.6 L625.6 624 L627.4 617.3 L629.4 609.5 L631.4 601.7 L631.9 600 L633.4 594.2 L635.4 586.8 L637.5 579.3 L638.2 576.5 L639.5 571.9 L641.5 564.5 L643 558 L643.5 555.9 L645.5 545.4 L647.5 533.5 L649.5 521.3 L651 512 L651.5 509.3 L653.5 497.8 L655.5 486.2 L657.5 474.1 L659.5 460.9 L659.6 460 L661.5 445.6 L663.5 428.5 L665.5 410.9 L667.5 393.9 L667.6 393 L669.5 378.1 L671.5 362.8 L673.5 347.6 L675.5 332.5 L676.7 323.3 L677.5 317.1 L679.5 301 L681.5 284.8 L683.5 269.3 L685.5 255.5 L685.8 253.7 L687.5 243.5 L689.5 232.3 L691.5 222.4 L693.4 214.4 L693.5 214 L695.5 207 L697.5 201.2 L698 200 L699.5 195.8 L701.5 191.2 L702.5 190.5 L703.5 190.7 L705.5 191.7 L707.5 193.5 L709.5 195.5 L711 197 L711.5 197.5 L713.5 199.2 L715.5 201.2 L717.5 203.9 L719.1 206.8 L719.5 208.1 L721.5 219.7 L723.5 236.8 L725.2 250.7 L725.6 253.4 L727.6 269.1 L729.6 285.5 L731.6 302 L733.6 318.2 L734.2 323.3 L735.6 333.8 L737.6 348.6 L739.6 363.4 L741.6 378.8 L743.3 393 L743.6 395.3 L745.6 414 L747.6 433.9 L749.6 453.4 L750.3 460 L751.6 471.2 L753.6 487.9 L755.6 504.4 L756.5 512 L757.6 521.4 L759.6 539.3 L761.6 555.2 L762 558 L763.6 567.5 L765.6 577.7 L767.6 587 L769.6 596.3 L771.5 606 L771.6 606.6 L773.6 618.3 L775.6 630.8 L777.6 642.9 L779.3 652 L779.6 653.5 L781.6 663 L783.6 671.9 L785.6 680.2 L787.6 687.8 L788.8 692 L789.6 694.8 L791.6 701.3 L793.6 707.4 L795.6 713.1 L797.6 718.5 L799.6 723.6 L799.8 724 L801.6 728.5 L803.6 733.2 L805.6 737.6 L807.6 741.8 L809.6 745.8 L810.8 748 L811.6 749.6 L813.6 753.1 L815.7 756.5 L817.7 759.8 L819.7 762.9 L821.7 765.9 L823.4 768.5 L823.7 768.9 L825.7 771.7 L827.7 774.5 L829.7 777.3 L831.7 779.9 L833.7 782.4 L835.7 784.8 L837.6 787 L837.7 787.1 L839.7 789.2 L841.7 791.3 L843.7 793.3 L845.7 795.3 L847.7 797.1 L849.7 798.9 L851.7 800.7 L853.3 802 L853.7 802.3 L855.7 803.9 L857.7 805.5 L859.7 807 L861.7 808.5 L863.7 810 L865.7 811.3 L867.7 812.7 L869.7 813.9 L870.6 814.5 L871.7 815.2 L873.7 816.3 L875.7 817.5 L877.7 818.5 L879.7 819.6 L881.7 820.6 L883.7 821.6 L885.7 822.6 L887.7 823.6 L889.5 824.5 L889.7 824.6 L891.7 825.6 L893.7 826.7 L895.7 827.7 L897.7 828.7 L899.7 829.7 L901.7 830.6 L902.8 831 L903.7 831.4 L905.8 832.2 L907.8 832.9 L909.8 833.6 L911.8 834.3 L913.8 835 L915.8 835.7 L917.8 836.3 L919.8 836.9 L921.8 837.6 L923.8 838.1 L925.8 838.7 L927.8 839.3 L929.8 839.8 L930.6 840 L931.8 840.3 L933.8 840.8 L935.8 841.3 L937.8 841.8 L939.8 842.3 L941.8 842.7 L943.8 843.2 L945.8 843.6 L947.8 844 L949.8 844.4 L951.8 844.8 L953.8 845.2 L955.8 845.6 L957.8 845.9 L958.5 846 L959.8 846.2 L961.8 846.5 L963.8 846.8 L965.8 847.2 L967.8 847.5 L969.8 847.8 L971.8 848.1 L973.8 848.4 L975.8 848.7 L977.8 849 L979.8 849.2 L981.8 849.5 L983.8 849.8 L985.8 850 L987.8 850.3 L989.8 850.5 L991.8 850.8 L993.8 851 L995.9 851.2 L997.9 851.4 L999.9 851.6 L1001.9 851.8 L1003.9 852 L1005.9 852.2 L1007.9 852.4 L1009.9 852.5 L1011.9 852.7 L1013.9 852.8 L1014.2 852.8 L1015.9 852.9 L1017.9 853 L1019.9 853.1 L1021.9 853.2 L1023.9 853.3 L1025.9 853.4 L1027.9 853.5 L1029.9 853.6 L1031.9 853.7 L1033.9 853.8 L1035.9 853.9 L1037.9 854 L1039.9 854.1 L1041.9 854.2 L1043.9 854.2 L1045.9 854.3 L1047.9 854.4 L1049.9 854.5 L1051.9 854.5 L1053.9 854.6 L1055.9 854.7 L1057.9 854.7 L1059.9 854.8 L1061.9 854.8 L1063.9 854.9 L1065.9 854.9 L1067.9 855 L1069.9 855 L1069.9 855 L1071.9 855 L1073.9 855.1 L1075.9 855.1 L1077.9 855.2 L1079.9 855.2 L1081.9 855.2 L1083.9 855.3 L1086 855.3 L1088 855.4 L1090 855.4 L1092 855.4 L1094 855.5 L1096 855.5 L1098 855.5 L1100 855.6 L1102 855.6 L1104 855.6 L1106 855.6 L1108 855.7 L1110 855.7 L1112 855.7 L1114 855.7 L1116 855.7 L1118 855.8 L1120 855.8 L1122 855.8 L1124 855.8 L1126 855.8 L1128 855.8 L1130 855.8" stroke="#1080f0" stroke-width="9.2" fill="none" stroke-linejoin="round"/>
</g>
<path d="M876.5 189.8H985.5" stroke="#ff0000" stroke-width="9.6" stroke-linecap="round" fill="none"/>
<text font-size="48.5" text-anchor="start" letter-spacing="0.5" x="997" y="205.6">ED</text>
<path d="M876.5 251.8H985.5" stroke="#00ff00" stroke-width="9.6" stroke-linecap="round" fill="none"/>
<text font-size="48.5" text-anchor="start" letter-spacing="0.5" x="997" y="267.6">MD</text>
<path d="M876.5 314.2H985.5" stroke="#ffee00" stroke-width="9.6" stroke-linecap="round" fill="none"/>
<text font-size="48.5" text-anchor="start" letter-spacing="0.5" x="997" y="330">EQ</text>
<path d="M876.5 376.2H985.5" stroke="#9900ff" stroke-width="9.6" stroke-linecap="round" fill="none"/>
<text font-size="48.5" text-anchor="start" letter-spacing="0.5" x="997" y="392">MQ</text>
<path d="M876.5 438.2H985.5" stroke="#1080f0" stroke-width="9.6" stroke-linecap="round" fill="none"/>
<text font-size="48.5" text-anchor="start" letter-spacing="0.5" x="997" y="454">TD</text>
<text font-size="44" text-anchor="end" letter-spacing="0.8" x="215.8" y="884">0.0E+0</text>
<text font-size="44" text-anchor="end" letter-spacing="0.8" x="215.8" y="707.2">1.0E-8</text>
<text font-size="44" text-anchor="end" letter-spacing="0.8" x="215.8" y="530.4">2.0E-8</text>
<text font-size="44" text-anchor="end" letter-spacing="0.8" x="215.8" y="353.6">3.0E-8</text>
<text font-size="44" text-anchor="end" letter-spacing="0.8" x="215.8" y="176.8">4.0E-8</text>
<text font-size="44" text-anchor="middle" letter-spacing="0.7" x="231.8" y="920.2">0.760</text>
<text font-size="44" text-anchor="middle" letter-spacing="0.7" x="344" y="920.2">0.765</text>
<text font-size="44" text-anchor="middle" letter-spacing="0.7" x="456.2" y="920.2">0.770</text>
<text font-size="44" text-anchor="middle" letter-spacing="0.7" x="568.3" y="920.2">0.775</text>
<text font-size="44" text-anchor="middle" letter-spacing="0.7" x="680.5" y="920.2">0.780</text>
<text font-size="44" text-anchor="middle" letter-spacing="0.7" x="792.7" y="920.2">0.785</text>
<text font-size="44" text-anchor="middle" letter-spacing="0.7" x="904.8" y="920.2">0.790</text>
<text font-size="44" text-anchor="middle" letter-spacing="0.7" x="1017" y="920.2">0.795</text>
<text font-size="44" text-anchor="middle" letter-spacing="0.7" x="1129.1" y="920.2">0.800</text>
<text font-size="42" text-anchor="middle" letter-spacing="1.5" x="680.9" y="992.1">Frequency(THz)</text>
<text font-size="53.3" text-anchor="middle" transform="translate(61.5 472.2) rotate(-90)">Scattering power(a.u.)</text>
<text font-size="35" text-anchor="middle" x="697.4" y="47.2">0.781</text>
<text transform="translate(238.1 142.8) scale(1.15 0.95)" font-size="47.4" stroke="#000" stroke-width="1.1" text-anchor="start">（</text>
<text transform="translate(330.6 142.8) scale(1.15 0.95)" font-size="47.4" stroke="#000" stroke-width="1.1" text-anchor="start">）</text>
<text font-size="54.5" text-anchor="start" x="297.6" y="147">a</text>
<rect x="1257" y="74.7" width="898.5" height="794.9" fill="none" stroke="#000" stroke-width="9.2"/>
<path d="M1257 710.5h13.9M1257 551.6h13.9M1257 392.6h13.9M1257 233.7h13.9" stroke="#000" stroke-width="8.4" fill="none"/>
<path d="M1257 789.9h6.6M1257 631h6.6M1257 472.1h6.6M1257 313.2h6.6M1257 154.3h6.6" stroke="#000" stroke-width="8.4" fill="none"/>
<path d="M1481.6 869.6v-13.9M1706.3 869.6v-13.9M1930.9 869.6v-13.9" stroke="#000" stroke-width="8.4" fill="none"/>
<path d="M1369.3 869.6v-6.6M1593.9 869.6v-6.6M1818.6 869.6v-6.6M2043.2 869.6v-6.6" stroke="#000" stroke-width="8.4" fill="none"/>
<g clip-path="url(#c2)">
<use href="#gb" x="1257" y="103"/><use href="#gb" x="1268.2" y="103.5"/><use href="#gb" x="1279.5" y="104.1"/><use href="#gb" x="1290.7" y="104.9"/><use href="#gb" x="1301.9" y="105.8"/><use href="#gb" x="1313.2" y="106.8"/><use href="#gb" x="1324.4" y="107.9"/><use href="#gb" x="1335.6" y="109.1"/><use href="#gb" x="1346.9" y="110.4"/><use href="#gb" x="1358.1" y="111.7"/><use href="#gb" x="1369.3" y="113.3"/><use href="#gb" x="1380.5" y="115"/><use href="#gb" x="1391.8" y="117.1"/><use href="#gb" x="1403" y="119.3"/><use href="#gb" x="1414.2" y="121.6"/><use href="#gb" x="1425.5" y="124"/><use href="#gb" x="1436.7" y="126.4"/><use href="#gb" x="1447.9" y="128.8"/><use href="#gb" x="1459.2" y="131.2"/><use href="#gb" x="1470.4" y="133.5"/><use href="#gb" x="1481.6" y="136"/><use href="#gb" x="1492.9" y="138.6"/><use href="#gb" x="1504.1" y="141.5"/><use href="#gb" x="1515.3" y="144.7"/><use href="#gb" x="1526.6" y="148.6"/><use href="#gb" x="1537.8" y="153.2"/><use href="#gb" x="1549" y="159"/><use href="#gb" x="1560.2" y="166.6"/><use href="#gb" x="1571.5" y="174.1"/><use href="#gb" x="1582.7" y="179.7"/><use href="#gb" x="1593.9" y="186.2"/><use href="#gb" x="1605.2" y="198.4"/><use href="#gb" x="1616.4" y="215"/><use href="#gb" x="1627.6" y="233.2"/><use href="#gb" x="1638.9" y="257.6"/><use href="#gb" x="1650.1" y="292.1"/><use href="#gb" x="1661.3" y="333"/><use href="#gb" x="1672.6" y="399.8"/><use href="#gb" x="1683.8" y="489.3"/><use href="#gb" x="1695" y="624.7"/><use href="#gb" x="1706.3" y="789.9"/><use href="#gb" x="1717.5" y="867.8"/><use href="#gb" x="1728.7" y="724.8"/><use href="#gb" x="1739.9" y="464.5"/><use href="#gb" x="1751.2" y="281.4"/><use href="#gb" x="1762.4" y="180.7"/><use href="#gb" x="1773.6" y="130.8"/><use href="#gb" x="1784.9" y="103.6"/><use href="#gb" x="1796.1" y="88.4"/><use href="#gb" x="1807.3" y="80.4"/><use href="#gb" x="1818.6" y="76.4"/><use href="#gb" x="1829.8" y="75"/><use href="#gb" x="1841" y="74.8"/><use href="#gb" x="1852.3" y="75.1"/><use href="#gb" x="1863.5" y="75.5"/><use href="#gb" x="1874.7" y="76.1"/><use href="#gb" x="1886" y="77.1"/><use href="#gb" x="1897.2" y="78.7"/><use href="#gb" x="1908.4" y="80.3"/><use href="#gb" x="1919.6" y="81.7"/><use href="#gb" x="1930.9" y="83.2"/><use href="#gb" x="1942.1" y="84.6"/><use href="#gb" x="1953.3" y="85.9"/><use href="#gb" x="1964.6" y="87.2"/><use href="#gb" x="1975.8" y="88.6"/><use href="#gb" x="1987" y="90"/><use href="#gb" x="1998.3" y="91.5"/><use href="#gb" x="2009.5" y="93.1"/><use href="#gb" x="2020.7" y="95"/><use href="#gb" x="2032" y="96.7"/><use href="#gb" x="2043.2" y="97.7"/><use href="#gb" x="2054.4" y="98.6"/><use href="#gb" x="2065.7" y="99.8"/><use href="#gb" x="2076.9" y="101.1"/><use href="#gb" x="2088.1" y="102.6"/><use href="#gb" x="2099.3" y="104.3"/><use href="#gb" x="2110.6" y="106.1"/><use href="#gb" x="2121.8" y="108.2"/><use href="#gb" x="2133" y="110.5"/><use href="#gb" x="2144.3" y="112.9"/>
<path d="M1257 107.5 L1258 107.5 L1259 107.6 L1260 107.6 L1261 107.6 L1262 107.7 L1263 107.7 L1264 107.7 L1265 107.8 L1266 107.8 L1267 107.8 L1268 107.9 L1269 107.9 L1270 108 L1271 108 L1272 108 L1273 108.1 L1274 108.1 L1275 108.1 L1276 108.2 L1277 108.2 L1278 108.3 L1279 108.3 L1280 108.4 L1281 108.4 L1282 108.4 L1283 108.5 L1284 108.5 L1285 108.6 L1286 108.6 L1287 108.7 L1288 108.7 L1289 108.8 L1290 108.8 L1291 108.9 L1292 108.9 L1293 108.9 L1294 109 L1295 109 L1296 109.1 L1297 109.1 L1298 109.2 L1299 109.2 L1300 109.3 L1301 109.3 L1302 109.4 L1303 109.5 L1304 109.5 L1305 109.6 L1306 109.6 L1307 109.7 L1308 109.7 L1309 109.8 L1310 109.8 L1311 109.9 L1312 109.9 L1313 110 L1314 110.1 L1315 110.1 L1316 110.2 L1317 110.2 L1318 110.3 L1319 110.3 L1320 110.4 L1321 110.5 L1322 110.5 L1323 110.6 L1324 110.6 L1325 110.7 L1326 110.7 L1327 110.8 L1328 110.9 L1329 110.9 L1330 111 L1331 111.1 L1332 111.1 L1333 111.2 L1334 111.2 L1335 111.3 L1336 111.4 L1337 111.4 L1338 111.5 L1339 111.6 L1340 111.6 L1341 111.7 L1342 111.7 L1343 111.8 L1344 111.9 L1345 111.9 L1346 112 L1347.1 112.1 L1348.1 112.1 L1349.1 112.2 L1350.1 112.3 L1351.1 112.3 L1352.1 112.4 L1353.1 112.5 L1354.1 112.5 L1355.1 112.6 L1356.1 112.7 L1357.1 112.7 L1358.1 112.8 L1359.1 112.9 L1360.1 112.9 L1361 113 L1361.1 113 L1362.1 113.1 L1363.1 113.1 L1364.1 113.2 L1365.1 113.3 L1366.1 113.4 L1367.1 113.4 L1368.1 113.5 L1369.1 113.6 L1370.1 113.6 L1371.1 113.7 L1372.1 113.8 L1373.1 113.9 L1374.1 113.9 L1375.1 114 L1376.1 114.1 L1377.1 114.2 L1378.1 114.2 L1379.1 114.3 L1380.1 114.4 L1381.1 114.5 L1382.1 114.5 L1383.1 114.6 L1384.1 114.7 L1385.1 114.8 L1386.1 114.9 L1387.1 114.9 L1388.1 115 L1389.1 115.1 L1390.1 115.2 L1391.1 115.3 L1392.1 115.4 L1393.1 115.4 L1394.1 115.5 L1395.1 115.6 L1396.1 115.7 L1397.1 115.8 L1398.1 115.9 L1399.1 116 L1400.1 116.1 L1401.1 116.1 L1402.1 116.2 L1403.1 116.3 L1404.1 116.4 L1405.1 116.5 L1406.1 116.6 L1407.1 116.7 L1408.1 116.8 L1409.1 116.9 L1410.1 117 L1411.1 117.1 L1412.1 117.2 L1413.1 117.3 L1414.1 117.4 L1415.1 117.5 L1416.1 117.6 L1417.1 117.7 L1418.1 117.8 L1419.1 117.9 L1420.1 118 L1421.1 118.1 L1422.1 118.2 L1423.1 118.3 L1424.1 118.4 L1425.1 118.5 L1426.1 118.6 L1427.1 118.7 L1428.1 118.8 L1429.1 118.9 L1430.1 119 L1431.1 119.1 L1432.1 119.2 L1433.1 119.3 L1434.1 119.4 L1435.1 119.5 L1436.1 119.7 L1437.1 119.8 L1438.1 119.9 L1439.1 120 L1440.1 120.1 L1441.1 120.2 L1442.1 120.3 L1443.1 120.5 L1444.1 120.6 L1445.1 120.7 L1446.1 120.8 L1447.1 120.9 L1448.1 121 L1449.1 121.2 L1450.1 121.3 L1451.1 121.4 L1451.9 121.5 L1452.1 121.5 L1453.1 121.6 L1454.1 121.8 L1455.1 121.9 L1456.1 122 L1457.1 122.1 L1458.1 122.3 L1459.1 122.4 L1460.1 122.5 L1461.1 122.7 L1462.1 122.8 L1463.1 122.9 L1464.1 123.1 L1465.1 123.2 L1466.1 123.3 L1467.1 123.5 L1468.1 123.6 L1469.1 123.8 L1470.1 123.9 L1471.1 124 L1472.1 124.2 L1473.1 124.3 L1474.1 124.5 L1475.1 124.6 L1476.1 124.8 L1477.1 124.9 L1478.1 125.1 L1479.1 125.3 L1480.1 125.4 L1481.1 125.6 L1482.1 125.7 L1483.1 125.9 L1484.1 126.1 L1485.1 126.2 L1486.1 126.4 L1487.1 126.6 L1488.1 126.7 L1489.1 126.9 L1490.1 127.1 L1491.1 127.3 L1492.1 127.4 L1493.1 127.6 L1494.1 127.8 L1495.1 128 L1496.1 128.2 L1497.1 128.4 L1498.1 128.6 L1499.1 128.7 L1500.1 128.9 L1501.1 129.1 L1502.1 129.3 L1503.1 129.5 L1504.1 129.7 L1505.1 129.9 L1506.1 130.2 L1507.1 130.4 L1508.1 130.6 L1509.1 130.8 L1510.1 131 L1511.1 131.2 L1512.1 131.4 L1512.4 131.5 L1513.1 131.7 L1514.1 131.9 L1515.1 132.1 L1516.1 132.4 L1517.1 132.6 L1518.1 132.9 L1519.1 133.2 L1520.1 133.4 L1521.1 133.7 L1522.1 134 L1523.1 134.3 L1524.1 134.6 L1525.1 134.9 L1526.1 135.2 L1527.2 135.5 L1528.2 135.8 L1529.2 136.1 L1530.2 136.4 L1531.2 136.8 L1532.2 137.1 L1533.2 137.4 L1534.2 137.8 L1535.2 138.1 L1536.2 138.5 L1537.2 138.8 L1538.2 139.2 L1539.2 139.5 L1540.2 139.9 L1541.2 140.2 L1542.2 140.6 L1542.7 140.8 L1543.2 141 L1544.2 141.3 L1545.2 141.7 L1546.2 142.1 L1547.2 142.5 L1548.2 142.8 L1549.2 143.2 L1550.2 143.6 L1551.2 144 L1552.2 144.4 L1553.2 144.8 L1554.2 145.2 L1555.2 145.6 L1556.2 146 L1557.2 146.5 L1558.2 146.9 L1559.2 147.3 L1560.2 147.8 L1561.2 148.2 L1562.2 148.7 L1563.2 149.2 L1564.2 149.7 L1565.2 150.2 L1566.2 150.7 L1567.2 151.2 L1568.2 151.7 L1569.2 152.2 L1570.2 152.8 L1571.2 153.4 L1572.2 153.9 L1573 154.4 L1573.2 154.5 L1574.2 155.1 L1575.2 155.7 L1576.2 156.4 L1577.2 157.1 L1578.2 157.8 L1579.2 158.5 L1580.2 159.2 L1581.2 160 L1582.2 160.8 L1583.2 161.6 L1584.2 162.4 L1585.2 163.2 L1586.2 164.1 L1587.2 164.9 L1588.2 165.8 L1589.2 166.7 L1590.2 167.6 L1591.2 168.5 L1592.2 169.4 L1593.2 170.4 L1594.2 171.3 L1595.2 172.3 L1596.2 173.2 L1597.1 174.1 L1597.2 174.2 L1598.2 175.2 L1599.2 176.2 L1600.2 177.2 L1601.2 178.2 L1602.2 179.3 L1603.2 180.4 L1604.2 181.5 L1605.2 182.7 L1606.2 183.8 L1607.2 185 L1608.2 186.2 L1609.2 187.4 L1610.2 188.6 L1611.2 189.9 L1612.2 191.2 L1613.2 192.5 L1614.2 193.8 L1615.2 195.2 L1615.3 195.3 L1616.2 196.5 L1617.2 197.9 L1618.2 199.3 L1619.2 200.7 L1620.2 202.1 L1621.2 203.6 L1622.2 205.1 L1623.2 206.7 L1624.2 208.2 L1625.2 209.9 L1626.2 211.6 L1627.2 213.4 L1628.2 215.2 L1629.2 217.1 L1630.2 219.1 L1630.4 219.5 L1631.2 221.2 L1632.2 223.5 L1633.2 225.9 L1634.2 228.5 L1635.2 231.2 L1636.2 234.1 L1637.2 236.9 L1638.2 239.9 L1639.2 242.9 L1640.2 245.9 L1641.2 248.9 L1642.2 251.9 L1642.5 252.8 L1643.2 254.9 L1644.2 257.9 L1645.2 260.8 L1646.2 263.7 L1647.2 266.7 L1648.2 269.8 L1649.2 272.9 L1650.2 276.1 L1651.2 279.5 L1652.2 283 L1653.2 286.7 L1654.2 290.6 L1654.6 292.1 L1655.2 294.7 L1656.2 299.2 L1657.2 304 L1658.2 309.1 L1659.2 314.5 L1660.2 320 L1661.2 325.8 L1662.2 331.7 L1663.2 337.7 L1663.7 340.6 L1664.2 343.8 L1665.2 350.2 L1666.2 356.9 L1667.2 363.8 L1668.2 371 L1669.2 378.6 L1669.8 383 L1670.2 386.5 L1671.2 395 L1672.2 404 L1673.2 413.3 L1674.2 422.6 L1674.5 425 L1675.2 431.7 L1676.2 440.8 L1677.2 449.9 L1678.2 459.2 L1679.2 468.4 L1680.2 477.8 L1681.2 487.3 L1681.6 490.8 L1682.2 496.8 L1683.2 506.1 L1684.2 515.3 L1685.2 524.9 L1686.2 535 L1687.2 545.9 L1687.7 551.3 L1688.2 558.1 L1689.2 572.2 L1690.2 587.7 L1691.2 603.8 L1692.2 620 L1693.2 635.4 L1693.7 642.1 L1694.2 649.7 L1695.2 662.9 L1696.2 675.9 L1697.2 689.2 L1698.2 702.7 L1698.2 703.4 L1699.2 719.6 L1700.2 737.3 L1701.2 754.9 L1702.2 770.8 L1702.8 778.3 L1703.2 783.8 L1704.2 795.5 L1705.2 806.2 L1706.2 815.6 L1707.3 823.4 L1707.3 823.7 L1708.3 829.9 L1709.3 835.6 L1710.3 840.7 L1711.3 845.1 L1712 848 L1712.3 848.9 L1713.3 852.8 L1714.3 856.4 L1715.3 859.3 L1716.3 860.9 L1716.6 861" stroke="#0a14f0" stroke-width="9.8" fill="none" stroke-linejoin="round" stroke-linecap="round" stroke-dasharray="13.2 30.2" stroke-dashoffset="0"/>
<path d="M2129.6 77.5 L2129.5 77.5 L2128.5 77.5 L2127.5 77.5 L2126.5 77.5 L2125.5 77.5 L2124.5 77.5 L2123.5 77.5 L2122.5 77.5 L2121.5 77.5 L2120.5 77.5 L2119.5 77.5 L2118.5 77.5 L2117.5 77.5 L2116.5 77.5 L2115.5 77.5 L2114.5 77.5 L2113.5 77.5 L2112.5 77.5 L2111.5 77.5 L2110.5 77.5 L2109.5 77.5 L2108.5 77.5 L2107.5 77.5 L2106.5 77.5 L2105.5 77.5 L2104.5 77.5 L2103.5 77.5 L2102.5 77.5 L2101.5 77.5 L2100.5 77.5 L2099.5 77.5 L2098.5 77.5 L2097.5 77.5 L2096.5 77.5 L2095.5 77.5 L2094.5 77.5 L2093.5 77.5 L2092.5 77.5 L2091.5 77.5 L2090.5 77.5 L2089.5 77.5 L2088.5 77.5 L2087.5 77.5 L2086.5 77.5 L2085.5 77.5 L2084.5 77.5 L2083.5 77.5 L2082.5 77.5 L2081.5 77.5 L2080.5 77.5 L2079.5 77.5 L2078.5 77.5 L2077.5 77.5 L2076.5 77.5 L2075.5 77.5 L2074.5 77.5 L2073.5 77.5 L2072.5 77.5 L2071.5 77.5 L2070.5 77.5 L2069.5 77.5 L2068.5 77.5 L2067.5 77.5 L2066.5 77.5 L2065.4 77.5 L2064.4 77.5 L2063.4 77.5 L2062.4 77.5 L2061.4 77.5 L2060.4 77.5 L2059.4 77.5 L2058.4 77.5 L2057.4 77.5 L2056.4 77.5 L2055.4 77.5 L2054.4 77.5 L2053.4 77.5 L2052.4 77.5 L2051.4 77.5 L2050.4 77.5 L2049.4 77.5 L2048.4 77.5 L2047.4 77.5 L2046.4 77.5 L2045.4 77.5 L2044.4 77.5 L2043.4 77.5 L2042.4 77.5 L2041.4 77.5 L2040.4 77.5 L2039.4 77.5 L2038.4 77.5 L2037.4 77.5 L2036.4 77.5 L2035.4 77.5 L2034.4 77.5 L2033.4 77.5 L2032.4 77.5 L2031.4 77.5 L2030.4 77.5 L2029.4 77.5 L2028.4 77.5 L2027.4 77.5 L2026.4 77.5 L2025.4 77.5 L2024.4 77.5 L2023.4 77.5 L2022.4 77.5 L2021.4 77.5 L2020.4 77.5 L2019.4 77.5 L2018.4 77.5 L2017.4 77.5 L2016.4 77.5 L2015.4 77.5 L2014.4 77.5 L2013.4 77.5 L2012.4 77.5 L2011.4 77.5 L2010.4 77.5 L2009.4 77.5 L2008.4 77.5 L2007.4 77.5 L2006.4 77.5 L2005.4 77.5 L2004.4 77.5 L2003.4 77.5 L2002.4 77.5 L2001.4 77.5 L2000.4 77.5 L1999.4 77.5 L1998.4 77.5 L1997.4 77.5 L1996.4 77.5 L1995.4 77.5 L1994.4 77.5 L1993.4 77.5 L1992.4 77.5 L1991.4 77.5 L1990.4 77.5 L1989.4 77.5 L1988.4 77.5 L1987.4 77.5 L1986.4 77.5 L1985.4 77.5 L1984.4 77.5 L1983.4 77.5 L1982.4 77.5 L1981.4 77.5 L1980.4 77.5 L1979.4 77.5 L1978.4 77.5 L1977.4 77.5 L1976.4 77.5 L1975.4 77.5 L1974.4 77.5 L1973.4 77.5 L1972.4 77.5 L1971.4 77.5 L1970.4 77.5 L1969.4 77.5 L1968.4 77.5 L1967.4 77.5 L1966.4 77.5 L1965.4 77.5 L1964.4 77.5 L1963.4 77.5 L1962.4 77.5 L1961.4 77.5 L1960.4 77.6 L1959.4 77.6 L1958.4 77.6 L1957.4 77.6 L1956.4 77.6 L1955.4 77.6 L1954.4 77.6 L1953.4 77.6 L1952.4 77.6 L1951.4 77.6 L1950.4 77.6 L1949.4 77.6 L1948.4 77.6 L1947.4 77.6 L1946.4 77.6 L1945.4 77.6 L1944.4 77.6 L1943.4 77.6 L1942.4 77.6 L1941.4 77.6 L1940.4 77.6 L1939.4 77.6 L1938.4 77.6 L1937.4 77.6 L1936.4 77.6 L1935.4 77.6 L1934.4 77.6 L1933.4 77.6 L1932.4 77.6 L1931.4 77.6 L1930.4 77.6 L1929.4 77.6 L1928.4 77.6 L1927.4 77.6 L1926.4 77.6 L1925.4 77.6 L1924.4 77.6 L1923.4 77.6 L1922.4 77.6 L1921.4 77.6 L1920.4 77.6 L1919.4 77.6 L1918.4 77.6 L1917.4 77.6 L1916.4 77.6 L1915.4 77.6 L1914.4 77.6 L1913.4 77.6 L1912.4 77.6 L1911.4 77.6 L1910.4 77.6 L1909.4 77.6 L1908.4 77.6 L1907.4 77.6 L1906.4 77.6 L1905.4 77.6 L1904.4 77.6 L1903.4 77.6 L1902.4 77.6 L1901.4 77.6 L1900.4 77.6 L1900 77.6 L1899.4 77.6 L1898.4 77.6 L1897.4 77.6 L1896.4 77.6 L1895.4 77.6 L1894.4 77.6 L1893.4 77.6 L1892.4 77.6 L1891.4 77.7 L1890.4 77.7 L1889.4 77.7 L1888.4 77.7 L1887.4 77.7 L1886.4 77.7 L1885.3 77.8 L1884.3 77.8 L1883.3 77.8 L1882.3 77.8 L1881.3 77.9 L1880.3 77.9 L1879.3 77.9 L1878.3 77.9 L1877.3 78 L1876.3 78 L1875.3 78 L1874.3 78.1 L1873.3 78.1 L1872.3 78.1 L1871.3 78.2 L1870.3 78.2 L1869.3 78.2 L1868.3 78.3 L1867.3 78.3 L1866.3 78.3 L1865.3 78.4 L1865 78.4 L1864.3 78.4 L1863.3 78.5 L1862.3 78.5 L1861.3 78.6 L1860.3 78.7 L1859.3 78.8 L1858.3 78.9 L1857.3 79 L1856.3 79.1 L1855.3 79.2 L1854.3 79.4 L1853.3 79.5 L1852.3 79.7 L1851.3 79.8 L1850.3 79.9 L1850 80 L1849.3 80.1 L1848.3 80.3 L1847.3 80.5 L1846.3 80.7 L1845.3 80.9 L1844.3 81.2 L1843.3 81.5 L1842.3 81.7 L1841.3 82 L1840.3 82.3 L1839.3 82.6 L1838.3 82.9 L1837.3 83.3 L1836.3 83.6 L1835.3 83.9 L1835 84 L1834.3 84.2 L1833.3 84.5 L1832.3 84.9 L1831.3 85.2 L1830.3 85.6 L1829.3 85.9 L1828.3 86.3 L1827.3 86.7 L1826.3 87.1 L1825.3 87.5 L1824.3 87.9 L1823.3 88.3 L1822.3 88.8 L1821.3 89.2 L1820.3 89.7 L1819.3 90.2 L1818.6 90.5 L1818.3 90.6 L1817.3 91.2 L1816.3 91.7 L1815.3 92.3 L1814.3 92.9 L1813.3 93.5 L1812.3 94.1 L1811.3 94.8 L1810.3 95.5 L1809.3 96.2 L1808.3 97 L1807.6 97.5 L1807.3 97.7 L1806.3 98.5 L1805.3 99.4 L1804.3 100.3 L1803.3 101.2 L1802.3 102.2 L1801.3 103.2 L1800.3 104.3 L1799.3 105.4 L1798.3 106.5 L1797.3 107.6 L1797 108 L1796.3 108.8 L1795.3 110.1 L1794.3 111.4 L1793.3 112.7 L1792.3 114.1 L1791.3 115.6 L1790.3 117.1 L1789.3 118.7 L1788.3 120.4 L1787.6 121.6 L1787.3 122.1 L1786.3 124 L1785.3 126 L1784.3 128.1 L1783.3 130.4 L1782.3 132.7 L1781.3 135.1 L1780.3 137.6 L1779.3 140.2 L1779 141 L1778.3 142.9 L1777.3 145.9 L1776.3 148.9 L1775.3 152.2 L1774.3 155.5 L1773.3 158.9 L1772.3 162.4 L1772.3 162.4 L1771.3 166 L1770.3 169.7 L1769.3 173.5 L1768.3 177.6 L1767.3 181.8 L1767 183 L1766.3 186.2 L1765.3 191 L1764.3 196.1 L1763.3 201.3 L1762.5 205.5 L1762.3 206.7 L1761.3 212.1 L1760.3 217.6 L1759.3 223.2 L1758.3 229 L1757.3 235.1 L1756.3 241.4 L1755.3 248.1 L1755 250 L1754.3 255.1 L1753.3 262.5 L1752.3 270.3 L1751.3 278.8 L1750.3 288.2 L1749.9 292 L1749.3 298.8 L1748.3 311.1 L1747.3 324.7 L1746.3 339.4 L1745.4 352.7 L1745.3 354.7 L1744.3 371.8 L1743.3 390.3 L1742.3 408.4 L1742 413 L1741.3 424.7 L1740.3 439.9 L1739.3 455.8 L1739 460.5 L1738.3 474.2 L1737.3 494.7 L1736.3 515.6 L1736 521 L1735.3 535.8 L1734.3 556 L1733.3 576.3 L1733 581.6 L1732.3 596.4 L1731.3 616.5 L1730.3 636.7 L1730 642 L1729.3 656.9 L1728.3 677.1 L1727.3 697.4 L1726.3 717.6 L1725.5 733 L1725.3 737.9 L1724.3 758.4 L1723.3 778.7 L1722.5 793.5 L1722.3 798.2 L1721.3 818.4 L1720.3 835 L1720 838 L1719.3 845.4 L1718.3 854.1 L1717.3 859.8 L1716.6 861" stroke="#0a14f0" stroke-width="9.8" fill="none" stroke-linejoin="round" stroke-linecap="round" stroke-dasharray="13.2 30.2" stroke-dashoffset="0"/>
</g>
<use href="#gb" x="1848.3" y="379.9"/>
<path d="M1798.2 437.6H1898.5" stroke="#0a14f0" stroke-width="9.8" stroke-dasharray="13.2 30.2" stroke-linecap="round" fill="none"/>
<text font-size="44.3" text-anchor="start" letter-spacing="0.35" x="1910.4" y="393.5">Simulation</text>
<text font-size="44.3" text-anchor="start" letter-spacing="0.35" x="1910.4" y="451">Fano fitted</text>
<text font-size="35" text-anchor="end" letter-spacing="1.6" x="1243.9" y="879.6">0.0</text>
<text font-size="35" text-anchor="end" letter-spacing="1.6" x="1243.9" y="720.7">0.2</text>
<text font-size="35" text-anchor="end" letter-spacing="1.6" x="1243.9" y="561.8">0.4</text>
<text font-size="35" text-anchor="end" letter-spacing="1.6" x="1243.9" y="402.8">0.6</text>
<text font-size="35" text-anchor="end" letter-spacing="1.6" x="1243.9" y="243.9">0.8</text>
<text font-size="35" text-anchor="end" letter-spacing="1.6" x="1243.9" y="85">1.0</text>
<text font-size="44" text-anchor="middle" letter-spacing="0.8" x="1257.4" y="920.2">0.74</text>
<text font-size="44" text-anchor="middle" letter-spacing="0.8" x="1482" y="920.2">0.76</text>
<text font-size="44" text-anchor="middle" letter-spacing="0.8" x="1706.7" y="920.2">0.78</text>
<text font-size="44" text-anchor="middle" letter-spacing="0.8" x="1931.3" y="920.2">0.80</text>
<text font-size="44" text-anchor="middle" letter-spacing="0.8" x="2155.9" y="920.2">0.82</text>
<text font-size="42" text-anchor="middle" letter-spacing="1.5" x="1707" y="992.1">Frequency(THz)</text>
<text font-size="35" text-anchor="middle" transform="translate(1199.8 467.2) rotate(-90)">Total transmittance</text>
<text transform="translate(1255.8 207.8) scale(1.15 0.95)" font-size="47.4" stroke="#000" stroke-width="1.1" text-anchor="start">（</text>
<text transform="translate(1351.1 207.8) scale(1.15 0.95)" font-size="47.4" stroke="#000" stroke-width="1.1" text-anchor="start">）</text>
<text font-size="54.5" text-anchor="start" x="1315.5" y="212">b</text>
<rect x="231.5" y="1054.2" width="897.3" height="794.8" fill="none" stroke="#000" stroke-width="9.2"/>
<path d="M231.5 1742.6h13.1M231.5 1636.7h13.1M231.5 1530.8h13.1M231.5 1424.9h13.1M231.5 1319h13.1M231.5 1213.1h13.1M231.5 1107.2h13.1" stroke="#000" stroke-width="9" fill="none"/>
<path d="M231.5 1795.5h6.4M231.5 1689.6h6.4M231.5 1583.7h6.4M231.5 1477.8h6.4M231.5 1371.9h6.4M231.5 1266h6.4M231.5 1160.1h6.4" stroke="#000" stroke-width="9" fill="none"/>
<path d="M337.1 1849v-13.1M469 1849v-13.1M601 1849v-13.1M732.9 1849v-13.1M864.9 1849v-13.1M996.8 1849v-13.1M1128.8 1849v-13.1" stroke="#000" stroke-width="9" fill="none"/>
<path d="M271.1 1849v-6.4M403 1849v-6.4M535 1849v-6.4M667 1849v-6.4M798.9 1849v-6.4M930.9 1849v-6.4M1062.8 1849v-6.4" stroke="#000" stroke-width="9" fill="none"/>
<path d="M680.1 1059.2V1849" stroke="#000" stroke-width="3.3" stroke-dasharray="3.3 4.3" fill="none"/>
<g clip-path="url(#c3)">
<path d="M231 1848.5 L1130 1848.5" stroke="#555555" stroke-width="9.2" fill="none" stroke-linejoin="round"/>
<path d="M231 1846.5 L480 1845.5 L540 1844 L580 1843 L598 1842 L607 1838 L616.2 1832 L625 1838 L633 1845 L640 1846.5 L646 1843 L649.5 1829 L655.5 1793 L661.6 1732 L673.7 1611 L679.8 1544.7 L688.8 1611 L698 1732 L704 1808 L708 1838 L712 1846.5 L725 1846.5 L735 1842 L746.3 1837.7 L757 1843 L768 1846 L800 1846 L900 1846.5 L1130 1847" stroke="#f03c40" stroke-width="9.2" fill="none" stroke-linejoin="round"/>
<path d="M231 1846 L480 1846 L590 1845 L598 1841 L606 1830 L614.7 1820 L621 1824 L628.3 1829 L634 1839 L638.5 1845.5 L643 1846 L646.5 1832 L651 1772 L653.8 1708 L679.8 1130 L706.5 1672 L710 1732 L714.6 1793 L719.1 1832 L722.5 1843.5 L726 1832 L731.2 1811 L738 1808.5 L746.3 1806.5 L752 1815 L761.5 1829 L773.6 1836.8 L788.7 1835 L800 1837.5 L819 1840 L873.5 1842 L980 1843.8 L1130 1845" stroke="#b070e0" stroke-width="9.2" fill="none" stroke-linejoin="round"/>
<path d="M231 1848 L645 1848 L654.5 1847.5 L679.9 1833.7 L705.5 1847.5 L715 1848 L1130 1848" stroke="#1a70e8" stroke-width="9.2" fill="none" stroke-linejoin="round"/>
<path d="M231 1847.8 L1130 1847.8" stroke="#35b070" stroke-width="9.2" fill="none" stroke-linejoin="round"/>
</g>
<path d="M870.5 1129.2H979" stroke="#555555" stroke-width="9.6" stroke-linecap="round" fill="none"/>
<text font-size="48.5" text-anchor="start" letter-spacing="0.5" x="991" y="1145">ED</text>
<path d="M870.5 1191.9H979" stroke="#f03c40" stroke-width="9.6" stroke-linecap="round" fill="none"/>
<text font-size="48.5" text-anchor="start" letter-spacing="0.5" x="991" y="1207.7">MD</text>
<path d="M870.5 1253.9H979" stroke="#b070e0" stroke-width="9.6" stroke-linecap="round" fill="none"/>
<text font-size="48.5" text-anchor="start" letter-spacing="0.5" x="991" y="1269.7">EQ</text>
<path d="M870.5 1316H979" stroke="#1a70e8" stroke-width="9.6" stroke-linecap="round" fill="none"/>
<text font-size="48.5" text-anchor="start" letter-spacing="0.5" x="991" y="1331.8">MQ</text>
<path d="M870.5 1378H979" stroke="#35b070" stroke-width="9.6" stroke-linecap="round" fill="none"/>
<text font-size="48.5" text-anchor="start" letter-spacing="0.5" x="991" y="1393.8">TD</text>
<text font-size="44" text-anchor="end" letter-spacing="0.8" x="215.8" y="1862.5">0.0E+0</text>
<text font-size="44" text-anchor="end" letter-spacing="0.8" x="215.8" y="1756.6">2.0E-7</text>
<text font-size="44" text-anchor="end" letter-spacing="0.8" x="215.8" y="1650.7">4.0E-7</text>
<text font-size="44" text-anchor="end" letter-spacing="0.8" x="215.8" y="1544.8">6.0E-7</text>
<text font-size="44" text-anchor="end" letter-spacing="0.8" x="215.8" y="1438.9">8.0E-7</text>
<text font-size="44" text-anchor="end" letter-spacing="0.8" x="215.8" y="1333">1.0E-6</text>
<text font-size="44" text-anchor="end" letter-spacing="0.8" x="215.8" y="1227.1">1.2E-6</text>
<text font-size="44" text-anchor="end" letter-spacing="0.8" x="215.8" y="1121.2">1.4E-6</text>
<text font-size="44" text-anchor="middle" letter-spacing="0.3" x="337.2" y="1899.3">0.815</text>
<text font-size="44" text-anchor="middle" letter-spacing="0.3" x="469.2" y="1899.3">0.820</text>
<text font-size="44" text-anchor="middle" letter-spacing="0.3" x="601.1" y="1899.3">0.825</text>
<text font-size="44" text-anchor="middle" letter-spacing="0.3" x="733.1" y="1899.3">0.830</text>
<text font-size="44" text-anchor="middle" letter-spacing="0.3" x="865" y="1899.3">0.835</text>
<text font-size="44" text-anchor="middle" letter-spacing="0.3" x="997" y="1899.3">0.840</text>
<text font-size="44" text-anchor="middle" letter-spacing="0.3" x="1129" y="1899.3">0.845</text>
<text font-size="42" text-anchor="middle" letter-spacing="1.5" x="680.9" y="1971.4">Frequency(THz)</text>
<text font-size="53.3" text-anchor="middle" transform="translate(61.5 1451.6) rotate(-90)">Scattering power(a.u.)</text>
<text font-size="35" text-anchor="middle" x="675.8" y="1046.5">0.828</text>
<text transform="translate(237 1117.1) scale(1.15 0.95)" font-size="47.4" stroke="#000" stroke-width="1.1" text-anchor="start">（</text>
<text transform="translate(327.4 1117.1) scale(1.15 0.95)" font-size="47.4" stroke="#000" stroke-width="1.1" text-anchor="start">）</text>
<text font-size="54.5" text-anchor="start" x="297.2" y="1121.3">c</text>
<rect x="1257" y="1054.2" width="898.5" height="794.8" fill="none" stroke="#000" stroke-width="9.2"/>
<path d="M1257 1689.9h13.9M1257 1531.1h13.9M1257 1372.4h13.9M1257 1213.6h13.9" stroke="#000" stroke-width="8.4" fill="none"/>
<path d="M1556.5 1849v-13.9M1856 1849v-13.9" stroke="#000" stroke-width="8.4" fill="none"/>
<path d="M1406.8 1849v-6.6M1706.2 1849v-6.6M2005.7 1849v-6.6" stroke="#000" stroke-width="8.4" fill="none"/>
<g clip-path="url(#c4)">
<use href="#gd" x="1257" y="1063.6"/><use href="#gd" x="1272" y="1064.7"/><use href="#gd" x="1287" y="1065.8"/><use href="#gd" x="1301.9" y="1066.9"/><use href="#gd" x="1316.9" y="1068.1"/><use href="#gd" x="1331.9" y="1069.4"/><use href="#gd" x="1346.9" y="1070.6"/><use href="#gd" x="1361.8" y="1072"/><use href="#gd" x="1376.8" y="1073.3"/><use href="#gd" x="1391.8" y="1074.8"/><use href="#gd" x="1406.8" y="1076.3"/><use href="#gd" x="1421.7" y="1077.8"/><use href="#gd" x="1436.7" y="1079.4"/><use href="#gd" x="1451.7" y="1081.1"/><use href="#gd" x="1466.7" y="1082.9"/><use href="#gd" x="1481.6" y="1084.8"/><use href="#gd" x="1496.6" y="1086.7"/><use href="#gd" x="1511.6" y="1088.6"/><use href="#gd" x="1526.6" y="1090.3"/><use href="#gd" x="1541.5" y="1091.8"/><use href="#gd" x="1556.5" y="1093.5"/><use href="#gd" x="1571.5" y="1095.9"/><use href="#gd" x="1586.5" y="1100.5"/><use href="#gd" x="1601.4" y="1106.5"/><use href="#gd" x="1616.4" y="1115.6"/><use href="#gd" x="1631.4" y="1133.1"/><use href="#gd" x="1646.4" y="1168.6"/><use href="#gd" x="1661.3" y="1280.5"/><use href="#gd" x="1676.3" y="1838"/><use href="#gd" x="1691.3" y="1086"/><use href="#gd" x="1706.3" y="1061.9"/><use href="#gd" x="1721.2" y="1059.7"/><use href="#gd" x="1736.2" y="1062.7"/><use href="#gd" x="1751.2" y="1066.4"/><use href="#gd" x="1766.2" y="1070.2"/><use href="#gd" x="1781.1" y="1073.2"/><use href="#gd" x="1796.1" y="1075.5"/><use href="#gd" x="1811.1" y="1077.8"/><use href="#gd" x="1826.1" y="1079.8"/><use href="#gd" x="1841" y="1081.8"/><use href="#gd" x="1856" y="1083.6"/><use href="#gd" x="1871" y="1085.3"/><use href="#gd" x="1886" y="1087"/><use href="#gd" x="1900.9" y="1088.5"/><use href="#gd" x="1915.9" y="1090"/><use href="#gd" x="1930.9" y="1091.2"/><use href="#gd" x="1945.9" y="1092.4"/><use href="#gd" x="1960.8" y="1093.4"/><use href="#gd" x="1975.8" y="1094.4"/><use href="#gd" x="1990.8" y="1095.4"/><use href="#gd" x="2005.8" y="1096.4"/><use href="#gd" x="2020.7" y="1097.5"/><use href="#gd" x="2035.7" y="1098.5"/><use href="#gd" x="2050.7" y="1099.3"/><use href="#gd" x="2065.7" y="1100.1"/><use href="#gd" x="2080.6" y="1100.8"/><use href="#gd" x="2095.6" y="1101.5"/><use href="#gd" x="2110.6" y="1102.2"/><use href="#gd" x="2125.6" y="1102.7"/><use href="#gd" x="2140.5" y="1103.2"/><use href="#gd" x="2155.5" y="1103.6"/>
<path d="M1257 1088.4 L1258 1088.4 L1259 1088.4 L1260 1088.4 L1261 1088.4 L1262 1088.4 L1263 1088.4 L1264 1088.4 L1265 1088.4 L1266 1088.5 L1267 1088.5 L1268 1088.5 L1269 1088.5 L1270 1088.5 L1271 1088.5 L1272 1088.5 L1273 1088.5 L1274 1088.5 L1275 1088.5 L1276 1088.5 L1277 1088.5 L1278 1088.5 L1279 1088.5 L1280 1088.5 L1281 1088.5 L1282 1088.5 L1283 1088.6 L1284 1088.6 L1285 1088.6 L1286 1088.6 L1287 1088.6 L1288 1088.6 L1289 1088.6 L1290 1088.6 L1291 1088.6 L1292 1088.6 L1293 1088.6 L1294 1088.6 L1295 1088.6 L1296 1088.6 L1297 1088.6 L1298 1088.6 L1299 1088.6 L1300 1088.6 L1301 1088.7 L1302 1088.7 L1303 1088.7 L1304 1088.7 L1305 1088.7 L1306 1088.7 L1307 1088.7 L1308 1088.7 L1309 1088.7 L1310 1088.7 L1311 1088.7 L1312 1088.7 L1313 1088.7 L1314 1088.7 L1315 1088.7 L1316 1088.7 L1317 1088.7 L1318 1088.8 L1319 1088.8 L1320 1088.8 L1321 1088.8 L1322 1088.8 L1323 1088.8 L1324 1088.8 L1325 1088.8 L1326 1088.8 L1327 1088.8 L1328 1088.8 L1329 1088.8 L1330 1088.8 L1331 1088.8 L1332 1088.8 L1333 1088.8 L1334 1088.8 L1335 1088.9 L1336 1088.9 L1337 1088.9 L1338 1088.9 L1339 1088.9 L1340 1088.9 L1341 1088.9 L1342 1088.9 L1343 1088.9 L1344 1088.9 L1345 1088.9 L1346 1088.9 L1347.1 1088.9 L1348.1 1088.9 L1349.1 1088.9 L1350.1 1088.9 L1351.1 1088.9 L1352.1 1088.9 L1353.1 1089 L1354.1 1089 L1355.1 1089 L1356.1 1089 L1357.1 1089 L1358.1 1089 L1359.1 1089 L1360.1 1089 L1361 1089 L1361.1 1089 L1362.1 1089 L1363.1 1089 L1364.1 1089.1 L1365.1 1089.1 L1366.1 1089.1 L1367.1 1089.1 L1368.1 1089.1 L1369.1 1089.1 L1370.1 1089.1 L1371.1 1089.2 L1372.1 1089.2 L1373.1 1089.2 L1374.1 1089.2 L1375.1 1089.2 L1376.1 1089.2 L1377.1 1089.3 L1378.1 1089.3 L1379.1 1089.3 L1380.1 1089.3 L1381.1 1089.3 L1382.1 1089.3 L1383.1 1089.4 L1384.1 1089.4 L1385.1 1089.4 L1386.1 1089.4 L1387.1 1089.4 L1388.1 1089.4 L1389.1 1089.5 L1390.1 1089.5 L1391.1 1089.5 L1392.1 1089.5 L1393.1 1089.5 L1394.1 1089.5 L1395.1 1089.6 L1396.1 1089.6 L1397.1 1089.6 L1398.1 1089.6 L1399.1 1089.6 L1400.1 1089.6 L1401.1 1089.7 L1402.1 1089.7 L1403.1 1089.7 L1404.1 1089.7 L1405.1 1089.7 L1406.1 1089.7 L1407.1 1089.8 L1408.1 1089.8 L1409.1 1089.8 L1410.1 1089.8 L1411.1 1089.8 L1412.1 1089.8 L1413.1 1089.9 L1414.1 1089.9 L1415.1 1089.9 L1416.1 1089.9 L1417.1 1089.9 L1418.1 1089.9 L1419.1 1090 L1420.1 1090 L1421.1 1090 L1422.1 1090 L1423.1 1090 L1424.1 1090 L1425.1 1090.1 L1426.1 1090.1 L1427.1 1090.1 L1428.1 1090.1 L1429.1 1090.1 L1430.1 1090.1 L1431.1 1090.2 L1432.1 1090.2 L1433.1 1090.2 L1434.1 1090.2 L1435.1 1090.2 L1436.1 1090.2 L1437.1 1090.3 L1438.1 1090.3 L1439.1 1090.3 L1440.1 1090.3 L1441.1 1090.3 L1442.1 1090.3 L1443.1 1090.4 L1444.1 1090.4 L1445.1 1090.4 L1446.1 1090.4 L1447.1 1090.4 L1448.1 1090.4 L1449.1 1090.5 L1450.1 1090.5 L1451.1 1090.5 L1451.9 1090.5 L1452.1 1090.5 L1453.1 1090.6 L1454.1 1090.6 L1455.1 1090.7 L1456.1 1090.7 L1457.1 1090.8 L1458.1 1090.8 L1459.1 1090.9 L1460.1 1090.9 L1461.1 1091 L1462.1 1091 L1463.1 1091.1 L1464.1 1091.1 L1465.1 1091.2 L1466.1 1091.2 L1467.1 1091.3 L1468.1 1091.3 L1469.1 1091.4 L1470.1 1091.4 L1471.1 1091.5 L1472.1 1091.5 L1473.1 1091.6 L1474.1 1091.6 L1475.1 1091.7 L1476.1 1091.7 L1477.1 1091.8 L1478.1 1091.8 L1479.1 1091.9 L1480.1 1091.9 L1481.1 1092 L1482.1 1092 L1483.1 1092.1 L1484.1 1092.2 L1485.1 1092.2 L1486.1 1092.3 L1487.1 1092.3 L1488.1 1092.4 L1489.1 1092.4 L1490.1 1092.5 L1491.1 1092.5 L1492.1 1092.6 L1493.1 1092.6 L1494.1 1092.7 L1495.1 1092.7 L1496.1 1092.8 L1497.1 1092.8 L1498.1 1092.9 L1499.1 1092.9 L1500.1 1093 L1501.1 1093 L1502.1 1093.1 L1503.1 1093.1 L1504.1 1093.2 L1505.1 1093.2 L1506.1 1093.3 L1507.1 1093.3 L1508.1 1093.4 L1509.1 1093.4 L1510.1 1093.5 L1511.1 1093.5 L1512.1 1093.6 L1512.4 1093.6 L1513.1 1093.7 L1514.1 1093.7 L1515.1 1093.8 L1516.1 1093.9 L1517.1 1093.9 L1518.1 1094 L1519.1 1094.1 L1520.1 1094.2 L1521.1 1094.2 L1522.1 1094.3 L1523.1 1094.4 L1524.1 1094.5 L1525.1 1094.5 L1526.1 1094.6 L1527.2 1094.7 L1528.2 1094.7 L1529.2 1094.8 L1530.2 1094.9 L1531.2 1095 L1532.2 1095 L1533.2 1095.1 L1534.2 1095.2 L1535.2 1095.3 L1536.2 1095.3 L1537.2 1095.4 L1538.2 1095.5 L1539.2 1095.5 L1540.2 1095.6 L1541.2 1095.7 L1542.2 1095.8 L1543.2 1095.8 L1544.2 1095.9 L1545.2 1096 L1546.2 1096.1 L1547.2 1096.1 L1548.2 1096.2 L1549.2 1096.3 L1550.2 1096.3 L1551.2 1096.4 L1552.2 1096.5 L1553.2 1096.6 L1554.2 1096.6 L1555.2 1096.7 L1556.2 1096.8 L1557.2 1096.9 L1558.2 1096.9 L1559.2 1097 L1560.2 1097.1 L1561.2 1097.1 L1562.2 1097.2 L1563.2 1097.3 L1564.2 1097.4 L1565.2 1097.4 L1566.2 1097.5 L1567.2 1097.6 L1568.2 1097.6 L1569.2 1097.7 L1570.2 1097.8 L1571.2 1097.9 L1572.2 1097.9 L1573 1098 L1573.2 1098 L1574.2 1098.3 L1575.2 1098.6 L1576.2 1098.8 L1577.2 1099.1 L1578.2 1099.3 L1579.2 1099.6 L1580.2 1099.8 L1581.2 1100.1 L1582.2 1100.4 L1583.2 1100.6 L1584.2 1100.9 L1585.2 1101.1 L1586.2 1101.4 L1587.2 1101.6 L1588.2 1101.9 L1589.2 1102.2 L1590.2 1102.4 L1591.2 1102.7 L1592.2 1102.9 L1593.2 1103.2 L1594.2 1103.4 L1595.2 1103.7 L1596.2 1104 L1597.2 1104.2 L1598.2 1104.5 L1599.2 1104.7 L1600.2 1105 L1601.2 1105.2 L1602.2 1105.5 L1603 1105.7 L1603.2 1105.8 L1604.2 1106.3 L1605.2 1106.8 L1606.2 1107.3 L1607.2 1107.8 L1608.2 1108.2 L1609.2 1108.7 L1610.2 1109.2 L1611.2 1109.7 L1612.2 1110.2 L1613.2 1110.7 L1614.2 1111.2 L1615.2 1111.7 L1616.2 1112.2 L1617.2 1112.7 L1618.2 1113.2 L1618.3 1113.2 L1619.2 1114.2 L1620.2 1115.3 L1621.2 1116.4 L1622.2 1117.5 L1623.2 1118.6 L1624.2 1119.7 L1625.2 1120.8 L1626.2 1121.9 L1627.2 1123 L1628.2 1124.2 L1629.2 1125.3 L1630.2 1126.4 L1631.2 1127.5 L1632.2 1128.6 L1633.2 1129.7 L1633.4 1129.9 L1634.2 1131.3 L1635.2 1133 L1636.2 1134.8 L1637.2 1136.5 L1638.2 1138.2 L1639.2 1140 L1640.2 1141.7 L1641.2 1143.4 L1642.2 1145.1 L1643.2 1146.9 L1644.2 1148.6 L1645.2 1150.3 L1645.6 1151 L1646.2 1154.1 L1647.2 1159.2 L1648.2 1164.2 L1649.2 1169.3 L1650.2 1174.3 L1651.2 1179.4 L1651.6 1181.3 L1652.2 1187.4 L1653.2 1197.3 L1654.2 1207.2 L1655.2 1217 L1656.2 1226.7 L1656.2 1227 L1657.2 1238.9 L1658.2 1250.8 L1659.2 1262.7 L1660 1272 L1660.2 1278.2 L1661.2 1305.8 L1662.2 1332.7 L1662.2 1333.4 L1663.2 1362.3 L1664.2 1391.1 L1664.3 1393.2 L1665.2 1415.6 L1666.2 1439.9 L1666.8 1453.7 L1667.2 1473.7 L1668.2 1520.4 L1668.5 1533 L1669.2 1570.1 L1670.2 1620.9 L1671 1660 L1671.2 1666.8 L1672.2 1696.1 L1673.2 1725.5 L1674 1748 L1674.2 1756.9 L1675.2 1795.2 L1676.2 1833.4 L1676.3 1836" stroke="#70ee70" stroke-width="9.8" fill="none" stroke-linejoin="round" stroke-linecap="round" stroke-dasharray="13.2 30.2" stroke-dashoffset="-0.9"/>
<path d="M2155.5 1082.3 L2154.5 1082.3 L2153.5 1082.3 L2152.5 1082.3 L2151.5 1082.3 L2150.5 1082.3 L2149.5 1082.3 L2148.5 1082.3 L2147.5 1082.3 L2146.5 1082.2 L2145.5 1082.2 L2144.5 1082.2 L2143.5 1082.2 L2142.5 1082.2 L2141.5 1082.2 L2140.5 1082.2 L2139.5 1082.2 L2138.5 1082.2 L2137.5 1082.2 L2136.5 1082.2 L2135.5 1082.2 L2134.5 1082.2 L2133.5 1082.2 L2132.5 1082.2 L2131.5 1082.2 L2130.5 1082.2 L2129.5 1082.1 L2128.5 1082.1 L2127.5 1082.1 L2126.5 1082.1 L2125.5 1082.1 L2124.5 1082.1 L2123.5 1082.1 L2122.5 1082.1 L2121.5 1082.1 L2120.5 1082.1 L2119.5 1082.1 L2118.5 1082.1 L2117.5 1082.1 L2116.5 1082.1 L2115.5 1082.1 L2114.5 1082.1 L2113.5 1082.1 L2112.5 1082 L2111.5 1082 L2110.5 1082 L2109.5 1082 L2108.5 1082 L2107.5 1082 L2106.5 1082 L2105.5 1082 L2104.5 1082 L2103.5 1082 L2102.5 1082 L2101.5 1082 L2100.5 1082 L2099.5 1082 L2098.5 1082 L2097.5 1082 L2096.5 1081.9 L2095.5 1081.9 L2094.5 1081.9 L2093.5 1081.9 L2092.5 1081.9 L2091.5 1081.9 L2090.5 1081.9 L2089.5 1081.9 L2088.5 1081.9 L2087.5 1081.9 L2086.5 1081.9 L2085.5 1081.9 L2084.5 1081.9 L2083.5 1081.9 L2082.5 1081.9 L2081.5 1081.9 L2080.5 1081.9 L2079.5 1081.8 L2078.5 1081.8 L2077.5 1081.8 L2076.5 1081.8 L2075.5 1081.8 L2074.5 1081.8 L2073.5 1081.8 L2072.5 1081.8 L2071.5 1081.8 L2070.5 1081.8 L2069.5 1081.8 L2068.5 1081.8 L2067.5 1081.8 L2066.5 1081.8 L2065.4 1081.8 L2064.4 1081.8 L2063.4 1081.8 L2062.4 1081.7 L2061.4 1081.7 L2060.4 1081.7 L2059.4 1081.7 L2058.4 1081.7 L2057.4 1081.7 L2056.4 1081.7 L2055.4 1081.7 L2054.4 1081.7 L2053.4 1081.7 L2052.4 1081.7 L2051.4 1081.7 L2050.4 1081.7 L2049.4 1081.7 L2048.4 1081.7 L2047.4 1081.7 L2046.4 1081.7 L2045.4 1081.6 L2044.4 1081.6 L2043.4 1081.6 L2042.4 1081.6 L2041.4 1081.6 L2040.4 1081.6 L2039.4 1081.6 L2038.4 1081.6 L2037.4 1081.6 L2036.4 1081.6 L2035.4 1081.6 L2034.4 1081.6 L2033.4 1081.6 L2032.4 1081.6 L2031.4 1081.6 L2030.4 1081.6 L2029.4 1081.6 L2028.4 1081.5 L2027.4 1081.5 L2026.4 1081.5 L2025.4 1081.5 L2024.4 1081.5 L2023.4 1081.5 L2022.4 1081.5 L2021.4 1081.5 L2020.4 1081.5 L2019.4 1081.5 L2018.4 1081.5 L2017.4 1081.5 L2016.4 1081.5 L2015.4 1081.5 L2014.4 1081.5 L2013.4 1081.5 L2012.4 1081.5 L2011.4 1081.4 L2010.4 1081.4 L2009.4 1081.4 L2008.4 1081.4 L2007.4 1081.4 L2006.4 1081.4 L2005.4 1081.4 L2004.4 1081.4 L2003.4 1081.4 L2002.4 1081.4 L2001.4 1081.4 L2000.4 1081.4 L1999.4 1081.4 L1998.4 1081.4 L1997.4 1081.4 L1996.4 1081.4 L1995.4 1081.3 L1994.4 1081.3 L1993.4 1081.3 L1992.4 1081.3 L1991.4 1081.3 L1990.4 1081.3 L1989.4 1081.3 L1988.4 1081.3 L1987.4 1081.3 L1987 1081.3 L1986.4 1081.3 L1985.4 1081.3 L1984.4 1081.3 L1983.4 1081.2 L1982.4 1081.2 L1981.4 1081.2 L1980.4 1081.2 L1979.4 1081.2 L1978.4 1081.1 L1977.4 1081.1 L1976.4 1081.1 L1975.4 1081.1 L1974.4 1081.1 L1973.4 1081.1 L1972.4 1081 L1971.4 1081 L1970.4 1081 L1969.4 1081 L1968.4 1081 L1967.4 1081 L1966.4 1080.9 L1965.4 1080.9 L1964.4 1080.9 L1963.4 1080.9 L1962.4 1080.9 L1961.4 1080.9 L1960.4 1080.8 L1959.4 1080.8 L1958.4 1080.8 L1957.4 1080.8 L1956.4 1080.8 L1955.4 1080.7 L1954.4 1080.7 L1953.4 1080.7 L1952.4 1080.7 L1951.4 1080.7 L1950.4 1080.7 L1949.4 1080.6 L1948.4 1080.6 L1947.4 1080.6 L1946.4 1080.6 L1945.4 1080.6 L1944.4 1080.6 L1943.4 1080.5 L1942.4 1080.5 L1941.4 1080.5 L1940.4 1080.5 L1939.4 1080.5 L1938.4 1080.4 L1937.4 1080.4 L1936.4 1080.4 L1935.4 1080.4 L1934.4 1080.4 L1933.4 1080.4 L1932.4 1080.3 L1931.4 1080.3 L1930.4 1080.3 L1929.4 1080.3 L1928.4 1080.3 L1927.4 1080.3 L1926.4 1080.2 L1925.4 1080.2 L1924.4 1080.2 L1923.4 1080.2 L1922.4 1080.2 L1921.4 1080.1 L1920.4 1080.1 L1919.4 1080.1 L1918.4 1080.1 L1917.4 1080.1 L1916.4 1080.1 L1915.4 1080 L1914.4 1080 L1913.4 1080 L1912.4 1080 L1911.4 1080 L1910.4 1080 L1909.4 1079.9 L1908.4 1079.9 L1907.4 1079.9 L1906.4 1079.9 L1905.4 1079.9 L1904.4 1079.8 L1903.4 1079.8 L1902.4 1079.8 L1901.4 1079.8 L1900.4 1079.8 L1899.4 1079.8 L1898.4 1079.7 L1897.4 1079.7 L1896.4 1079.7 L1895.4 1079.7 L1894.4 1079.7 L1893.4 1079.7 L1892.4 1079.6 L1891.4 1079.6 L1890.4 1079.6 L1889.4 1079.6 L1888.4 1079.6 L1887.4 1079.6 L1886.4 1079.5 L1885.3 1079.5 L1884.3 1079.5 L1883.3 1079.5 L1882.3 1079.5 L1881.3 1079.4 L1880.3 1079.4 L1879.3 1079.4 L1878.3 1079.4 L1877.3 1079.4 L1876.3 1079.4 L1875.3 1079.3 L1874.3 1079.3 L1873.3 1079.3 L1872.3 1079.3 L1871.3 1079.3 L1870.3 1079.3 L1869.3 1079.2 L1868.3 1079.2 L1867.3 1079.2 L1866.3 1079.2 L1865.3 1079.2 L1864.3 1079.1 L1863.3 1079.1 L1862.3 1079.1 L1861.3 1079.1 L1860.3 1079.1 L1859.3 1079.1 L1858.3 1079 L1857.3 1079 L1856.3 1079 L1856 1079 L1855.3 1079 L1854.3 1078.9 L1853.3 1078.9 L1852.3 1078.8 L1851.3 1078.8 L1850.3 1078.7 L1849.3 1078.7 L1848.3 1078.6 L1847.3 1078.6 L1846.3 1078.5 L1845.3 1078.5 L1844.3 1078.4 L1843.3 1078.4 L1842.3 1078.3 L1841.3 1078.3 L1840.3 1078.2 L1839.3 1078.1 L1838.3 1078.1 L1837.3 1078 L1836.3 1078 L1835.3 1077.9 L1834.3 1077.9 L1833.3 1077.8 L1832.3 1077.8 L1831.3 1077.7 L1830.3 1077.7 L1829.3 1077.6 L1828.3 1077.6 L1827.3 1077.5 L1826.3 1077.5 L1825.3 1077.4 L1824.3 1077.4 L1823.3 1077.3 L1822.3 1077.3 L1821.3 1077.2 L1820.3 1077.2 L1819.3 1077.1 L1818.3 1077.1 L1817.3 1077 L1816.3 1077 L1815.3 1076.9 L1814.3 1076.9 L1813.3 1076.8 L1812.3 1076.8 L1811.3 1076.7 L1810.3 1076.7 L1809.3 1076.6 L1808.3 1076.6 L1807.3 1076.5 L1806.3 1076.5 L1805.3 1076.4 L1804.3 1076.4 L1803.3 1076.3 L1802.3 1076.3 L1801.3 1076.2 L1800.3 1076.2 L1799.3 1076.1 L1798.3 1076.1 L1797.3 1076 L1796.3 1076 L1795.3 1075.9 L1794.3 1075.9 L1793.3 1075.8 L1792.3 1075.7 L1791.3 1075.7 L1790.3 1075.6 L1789.3 1075.6 L1788.3 1075.5 L1787.3 1075.5 L1786.3 1075.4 L1785.3 1075.4 L1784.3 1075.3 L1783.3 1075.3 L1782.3 1075.2 L1781.3 1075.2 L1780.3 1075.1 L1779.3 1075.1 L1778.3 1075 L1777.3 1075 L1776.3 1074.9 L1775.3 1074.9 L1774.3 1074.8 L1773.3 1074.8 L1772.3 1074.7 L1771.3 1074.7 L1770.3 1074.6 L1769.3 1074.6 L1768.3 1074.5 L1767.3 1074.5 L1766.3 1074.4 L1765.3 1074.4 L1764.3 1074.3 L1763.3 1074.3 L1762.3 1074.2 L1761.3 1074.2 L1760.3 1074.1 L1759.3 1074.1 L1758.3 1074 L1758 1074 L1757.3 1073.9 L1756.3 1073.9 L1755.3 1073.8 L1754.3 1073.7 L1753.3 1073.6 L1752.3 1073.5 L1751.3 1073.4 L1750.3 1073.4 L1749.3 1073.3 L1748.3 1073.2 L1747.3 1073.1 L1746.3 1073 L1745.3 1072.9 L1744.3 1072.9 L1743.3 1072.8 L1742.3 1072.7 L1741.3 1072.6 L1740.3 1072.5 L1740 1072.5 L1739.3 1072.5 L1738.3 1072.5 L1737.3 1072.5 L1736.3 1072.6 L1735.3 1072.6 L1734.3 1072.6 L1733.3 1072.6 L1732.3 1072.6 L1731.3 1072.6 L1730.3 1072.7 L1729.3 1072.7 L1728.3 1072.7 L1727.3 1072.7 L1726.3 1072.7 L1725.3 1072.7 L1724.3 1072.8 L1723.3 1072.8 L1722.3 1072.8 L1721.3 1072.8 L1720.3 1072.8 L1719.3 1072.8 L1718.3 1072.9 L1717.3 1072.9 L1716.3 1072.9 L1715.3 1072.9 L1714.3 1072.9 L1713.3 1072.9 L1712.3 1072.9 L1711.3 1073 L1710.3 1073 L1709.3 1073 L1709 1073 L1708.3 1073.7 L1707.3 1074.7 L1706.2 1075.6 L1705.2 1076.5 L1704.2 1077.5 L1703.2 1078.4 L1702.2 1079.4 L1701.2 1080.3 L1700.2 1081.3 L1700 1081.5 L1699.2 1084.5 L1698.2 1088.6 L1697.2 1092.6 L1696.2 1096.6 L1695.2 1100.7 L1694.2 1104.7 L1694 1105.7 L1693.2 1117.1 L1692.2 1132.2 L1691.2 1147.4 L1691 1151 L1690.2 1169.4 L1689.2 1193.6 L1688.5 1211.6 L1688.2 1226.6 L1687.2 1284.3 L1686.4 1332.7 L1686.2 1342.8 L1685.2 1405.4 L1684.6 1445.4 L1684.2 1465.2 L1683.2 1520 L1683 1533 L1682.2 1581.5 L1681.2 1645 L1681 1660 L1680.2 1688 L1679.2 1724.7 L1678.6 1748 L1678.2 1762 L1677.2 1800.3 L1676.3 1836" stroke="#70ee70" stroke-width="9.8" fill="none" stroke-linejoin="round" stroke-linecap="round" stroke-dasharray="13.2 30.2" stroke-dashoffset="7"/>
</g>
<use href="#gd" x="1820.2" y="1379.1"/>
<path d="M1770.6 1436.3H1871.5" stroke="#70ee70" stroke-width="9.8" stroke-dasharray="13.2 30.2" stroke-linecap="round" fill="none"/>
<text font-size="44.3" text-anchor="start" letter-spacing="0.35" x="1882.5" y="1393.5">Simulation</text>
<text font-size="44.3" text-anchor="start" letter-spacing="0.35" x="1882.5" y="1450">Fano fitted</text>
<text font-size="35" text-anchor="end" letter-spacing="1.6" x="1243.9" y="1858.8">0.0</text>
<text font-size="35" text-anchor="end" letter-spacing="1.6" x="1243.9" y="1700.1">0.2</text>
<text font-size="35" text-anchor="end" letter-spacing="1.6" x="1243.9" y="1541.3">0.4</text>
<text font-size="35" text-anchor="end" letter-spacing="1.6" x="1243.9" y="1382.6">0.6</text>
<text font-size="35" text-anchor="end" letter-spacing="1.6" x="1243.9" y="1223.8">0.8</text>
<text font-size="35" text-anchor="end" letter-spacing="1.6" x="1243.9" y="1065.1">1.0</text>
<text font-size="44" text-anchor="middle" letter-spacing="0.6" x="1257.3" y="1899.3">0.80</text>
<text font-size="44" text-anchor="middle" letter-spacing="0.6" x="1556.8" y="1899.3">0.82</text>
<text font-size="44" text-anchor="middle" letter-spacing="0.6" x="1856.3" y="1899.3">0.84</text>
<text font-size="44" text-anchor="middle" letter-spacing="0.6" x="2155.8" y="1899.3">0.86</text>
<text font-size="42" text-anchor="middle" letter-spacing="1.5" x="1707" y="1971.4">Frequency(THz)</text>
<text font-size="35" text-anchor="middle" transform="translate(1199.8 1446.6) rotate(-90)">Total transmittance</text>
<text transform="translate(1273 1185.6) scale(1.15 0.95)" font-size="47.4" stroke="#000" stroke-width="1.1" text-anchor="start">（</text>
<text transform="translate(1368.7 1185.6) scale(1.15 0.95)" font-size="47.4" stroke="#000" stroke-width="1.1" text-anchor="start">）</text>
<text font-size="54.5" text-anchor="start" x="1331.7" y="1189.8">d</text>
<rect x="231.5" y="2033.5" width="897.3" height="797.7" fill="none" stroke="#000" stroke-width="9.2"/>
<path d="M231.5 2631h13.1M231.5 2431.7h13.1M231.5 2232.4h13.1" stroke="#000" stroke-width="9" fill="none"/>
<path d="M231.5 2730.7h6.4M231.5 2531.3h6.4M231.5 2332.1h6.4M231.5 2132.8h6.4" stroke="#000" stroke-width="9" fill="none"/>
<path d="M291.3 2831.2v-13.1M391 2831.2v-13.1M490.7 2831.2v-13.1M590.4 2831.2v-13.1M690.1 2831.2v-13.1M789.8 2831.2v-13.1M889.5 2831.2v-13.1M989.2 2831.2v-13.1M1088.9 2831.2v-13.1" stroke="#000" stroke-width="9" fill="none"/>
<path d="M241.5 2831.2v-6.4M341.2 2831.2v-6.4M440.9 2831.2v-6.4M540.6 2831.2v-6.4M640.3 2831.2v-6.4M740 2831.2v-6.4M839.7 2831.2v-6.4M939.4 2831.2v-6.4M1039.1 2831.2v-6.4" stroke="#000" stroke-width="9" fill="none"/>
<path d="M570.5 2038.5V2831.2" stroke="#000" stroke-width="3.3" stroke-dasharray="3.3 4.3" fill="none"/>
<g clip-path="url(#c5)">
<path d="M231 2749.3 L233 2749.4 L235 2749.5 L237 2749.6 L239 2749.7 L241 2749.8 L243 2749.9 L245 2750 L247 2750.1 L249 2750.3 L251 2750.4 L253 2750.5 L255 2750.6 L257 2750.7 L259 2750.9 L261 2751 L263 2751.1 L265 2751.3 L267 2751.4 L269 2751.6 L271 2751.7 L273 2751.8 L275 2752 L277.1 2752.1 L279.1 2752.3 L280.5 2752.4 L281.1 2752.4 L283.1 2752.6 L285.1 2752.8 L287.1 2752.9 L289.1 2753.1 L291.1 2753.3 L293.1 2753.5 L295.1 2753.7 L297.1 2753.9 L299.1 2754.1 L301.1 2754.3 L303.1 2754.5 L305.1 2754.7 L307.1 2754.9 L309.1 2755.1 L311.1 2755.4 L313.1 2755.6 L315.1 2755.8 L317.1 2756 L319.1 2756.2 L321.1 2756.4 L323.1 2756.7 L325.1 2756.9 L327.1 2757.1 L329.1 2757.3 L331.1 2757.5 L333.1 2757.7 L335.1 2757.9 L337.1 2758.1 L339.1 2758.2 L341 2758.4 L341.1 2758.4 L343.1 2758.6 L345.1 2758.8 L347.1 2758.9 L349.1 2759.1 L351.1 2759.2 L353.1 2759.4 L355.1 2759.6 L357.1 2759.7 L359.1 2759.9 L361.1 2760 L363.1 2760.2 L365.1 2760.4 L367.2 2760.5 L369.2 2760.7 L371.2 2760.8 L373.2 2761 L375.2 2761.1 L377.2 2761.3 L379.2 2761.4 L381.2 2761.5 L383.2 2761.7 L385.2 2761.8 L387.2 2762 L389.2 2762.1 L391.2 2762.3 L393.2 2762.4 L395.2 2762.5 L397.2 2762.7 L399.2 2762.8 L401.2 2763 L401.6 2763 L403.2 2763.1 L405.2 2763.3 L407.2 2763.4 L409.2 2763.6 L411.2 2763.8 L413.2 2763.9 L415.2 2764.1 L417.2 2764.3 L419.2 2764.5 L421.2 2764.6 L423.2 2764.8 L425.2 2765 L427.2 2765.1 L429.2 2765.3 L431.2 2765.4 L433.2 2765.5 L435.2 2765.7 L437.2 2765.8 L439.2 2765.8 L441.2 2765.9 L443.2 2766 L445.2 2766 L447 2766 L447.2 2766 L449.2 2766 L451.2 2766 L453.2 2765.9 L455.2 2765.9 L457.3 2765.8 L459.3 2765.7 L461.3 2765.6 L463.3 2765.5 L465.3 2765.4 L467.3 2765.3 L469.3 2765.1 L471.3 2765 L473.3 2764.8 L475.3 2764.7 L477.3 2764.5 L477.3 2764.5 L479.3 2764.3 L481.3 2764.1 L483.3 2763.8 L485.3 2763.5 L487.3 2763.1 L489.3 2762.7 L491.3 2762.2 L493.3 2761.7 L495.3 2761.2 L497.3 2760.6 L499.3 2760 L501.3 2759.3 L503.3 2758.6 L505.3 2757.9 L507.3 2757.1 L507.5 2757 L509.3 2756.2 L511.3 2755 L513.3 2753.5 L515.3 2751.9 L517.3 2750.1 L519.3 2748.2 L521.3 2746.2 L522.7 2744.8 L523.3 2744.1 L525.3 2741.9 L527.3 2739.3 L529.3 2736.6 L531.3 2733.6 L533.3 2730.6 L535.3 2727.5 L537.3 2724.3 L537.8 2723.6 L539.3 2721.1 L541.3 2717.8 L543.3 2714.4 L545.3 2710.9 L547.4 2707.2 L549.4 2703.5 L551.4 2699.6 L553 2696.4 L553.4 2695.7 L555.4 2691.5 L557.4 2687.1 L559.4 2682.5 L561.4 2677.9 L563.4 2673.3 L565.4 2668.7 L567.4 2664.3 L568 2663 L569.4 2660.1 L571.4 2655.9 L573.4 2651.7 L575.4 2647.6 L577.4 2643.6 L579.4 2639.7 L581.4 2636 L583.2 2632.8 L583.4 2632.5 L585.4 2629 L587.4 2625.4 L589.4 2621.9 L591.4 2618.6 L593.4 2615.5 L595.4 2612.9 L597.4 2610.8 L598.3 2610 L599.4 2609.1 L601.4 2607.6 L603.4 2606.1 L605.4 2604.8 L607.4 2603.7 L609.4 2602.8 L611.4 2602.2 L613.4 2602 L613.5 2602 L615.4 2602 L617.4 2602.2 L619.4 2602.4 L621.4 2602.7 L623.4 2603 L625.4 2603.4 L627.4 2603.8 L628.6 2604 L629.4 2604.2 L631.4 2604.8 L633.4 2605.7 L635.4 2606.7 L637.5 2607.8 L639.5 2609 L641.5 2610.2 L643.5 2611.5 L643.7 2611.6 L645.5 2612.7 L647.5 2614.1 L649.5 2615.6 L651.5 2617.2 L653.5 2618.8 L655.5 2620.4 L657.5 2621.9 L659.5 2623.3 L660 2623.7 L661.5 2624.7 L663.5 2626 L665.5 2627.3 L667.5 2628.5 L669.5 2629.8 L671.5 2631 L673.5 2632.2 L675.5 2633.4 L677.5 2634.5 L679.5 2635.7 L681.5 2636.9 L683.5 2638 L685.5 2639.2 L687.5 2640.3 L689.5 2641.4 L690.3 2641.9 L691.5 2642.6 L693.5 2643.8 L695.5 2644.9 L697.5 2646.1 L699.5 2647.2 L701.5 2648.4 L703.5 2649.6 L705.5 2650.7 L707.5 2651.8 L709.5 2652.9 L711.5 2654 L713.5 2655.1 L715.5 2656.1 L717.5 2657.1 L719.5 2658.1 L720.5 2658.5 L721.5 2659 L723.5 2659.9 L725.6 2660.8 L727.6 2661.7 L729.6 2662.6 L731.6 2663.4 L733.6 2664.3 L735.6 2665.1 L737.6 2665.9 L739.6 2666.7 L741.6 2667.4 L743.6 2668.1 L745.6 2668.9 L747.6 2669.5 L749.6 2670.2 L750.8 2670.6 L751.6 2670.8 L753.6 2671.5 L755.6 2672 L757.6 2672.6 L759.6 2673.2 L761.6 2673.7 L763.6 2674.2 L765.6 2674.7 L767.6 2675.2 L769.6 2675.7 L771.6 2676.2 L773.6 2676.7 L775.6 2677.1 L777.6 2677.6 L779.6 2678.1 L781.1 2678.5 L781.6 2678.6 L783.6 2679.1 L785.6 2679.6 L787.6 2680.1 L789.6 2680.6 L791.6 2681.1 L793.6 2681.6 L795.6 2682.1 L797.6 2682.6 L799.6 2683.1 L801.6 2683.6 L803.6 2684.1 L805.6 2684.5 L807.6 2685 L809.6 2685.4 L811.3 2685.8 L811.6 2685.9 L813.6 2686.3 L815.7 2686.7 L817.7 2687.2 L819.7 2687.6 L821.7 2688 L823.7 2688.4 L825.7 2688.9 L827.7 2689.3 L829.7 2689.7 L831.7 2690 L833.7 2690.4 L835.7 2690.8 L837.7 2691.1 L839.7 2691.5 L841.6 2691.8 L841.7 2691.8 L843.7 2692.1 L845.7 2692.4 L847.7 2692.8 L849.7 2693.1 L851.7 2693.4 L853.7 2693.7 L855.7 2693.9 L857.7 2694.2 L859.7 2694.5 L861.7 2694.8 L863.7 2695 L865.7 2695.3 L867.7 2695.6 L869.7 2695.8 L871.7 2696.1 L873.7 2696.3 L875.7 2696.6 L877.7 2696.8 L879.7 2697 L881.7 2697.3 L883.7 2697.5 L885.7 2697.8 L887 2697.9 L887.7 2698 L889.7 2698.2 L891.7 2698.4 L893.7 2698.7 L895.7 2698.9 L897.7 2699.1 L899.7 2699.3 L901.7 2699.5 L903.7 2699.7 L905.8 2700 L907.8 2700.2 L909.8 2700.4 L911.8 2700.6 L913.8 2700.8 L915.8 2701 L917.8 2701.2 L919.8 2701.4 L921.8 2701.5 L923.8 2701.7 L925.8 2701.9 L927.8 2702.1 L929.8 2702.3 L931.8 2702.4 L932.4 2702.5 L933.8 2702.6 L935.8 2702.8 L937.8 2703 L939.8 2703.1 L941.8 2703.3 L943.8 2703.5 L945.8 2703.6 L947.8 2703.8 L949.8 2704 L951.8 2704.1 L953.8 2704.3 L955.8 2704.5 L957.8 2704.6 L959.8 2704.8 L961.8 2704.9 L963.8 2705.1 L965.8 2705.2 L967.8 2705.4 L969.8 2705.5 L971.8 2705.7 L973.8 2705.8 L975.8 2705.9 L977.8 2706.1 L979.8 2706.2 L981.8 2706.3 L983.8 2706.5 L985.8 2706.6 L987.8 2706.7 L989.8 2706.8 L991.8 2706.9 L992.9 2707 L993.8 2707.1 L995.9 2707.2 L997.9 2707.3 L999.9 2707.4 L1001.9 2707.5 L1003.9 2707.6 L1005.9 2707.7 L1007.9 2707.8 L1009.9 2707.9 L1011.9 2708 L1013.9 2708.1 L1015.9 2708.2 L1017.9 2708.3 L1019.9 2708.4 L1021.9 2708.5 L1023.9 2708.6 L1025.9 2708.7 L1027.9 2708.8 L1029.9 2708.8 L1031.9 2708.9 L1033.9 2709 L1035.9 2709.1 L1037.9 2709.2 L1039.9 2709.2 L1041.9 2709.3 L1043.9 2709.4 L1045.9 2709.4 L1047.9 2709.5 L1049.9 2709.5 L1051.9 2709.6 L1053.5 2709.6 L1053.9 2709.6 L1055.9 2709.6 L1057.9 2709.7 L1059.9 2709.7 L1061.9 2709.8 L1063.9 2709.8 L1065.9 2709.8 L1067.9 2709.9 L1069.9 2709.9 L1071.9 2710 L1073.9 2710 L1075.9 2710 L1077.9 2710.1 L1079.9 2710.1 L1081.9 2710.1 L1083.9 2710.2 L1086 2710.2 L1088 2710.2 L1090 2710.3 L1092 2710.3 L1094 2710.3 L1096 2710.4 L1098 2710.4 L1100 2710.4 L1102 2710.4 L1104 2710.5 L1106 2710.5 L1108 2710.5 L1110 2710.5 L1112 2710.5 L1114 2710.5 L1116 2710.6 L1118 2710.6 L1120 2710.6 L1122 2710.6 L1124 2710.6 L1126 2710.6 L1128 2710.6 L1130 2710.6" stroke="#3f9cf0" stroke-width="9.2" fill="none" stroke-linejoin="round"/>
<path d="M231 2733.2 L233 2733.1 L235 2733.1 L237 2733 L239 2733 L241 2732.9 L243 2732.9 L245 2732.8 L247 2732.8 L249 2732.7 L251 2732.7 L253 2732.6 L255 2732.6 L257 2732.6 L259 2732.6 L261 2732.5 L263 2732.5 L265 2732.5 L267 2732.5 L269 2732.4 L271 2732.4 L273 2732.4 L275 2732.4 L277.1 2732.4 L279.1 2732.4 L281.1 2732.4 L283.1 2732.3 L285.1 2732.3 L287.1 2732.3 L289.1 2732.3 L291.1 2732.3 L293.1 2732.3 L295.1 2732.3 L297.1 2732.3 L299.1 2732.3 L301.1 2732.3 L303.1 2732.3 L305.1 2732.3 L307.1 2732.3 L309.1 2732.3 L310.8 2732.3 L311.1 2732.3 L313.1 2732.3 L315.1 2732.3 L317.1 2732.3 L319.1 2732.3 L321.1 2732.4 L323.1 2732.4 L325.1 2732.4 L327.1 2732.4 L329.1 2732.5 L331.1 2732.5 L333.1 2732.6 L335.1 2732.6 L337.1 2732.6 L339.1 2732.7 L341.1 2732.8 L343.1 2732.8 L345.1 2732.9 L347.1 2732.9 L349.1 2733 L351.1 2733.1 L353.1 2733.1 L355.1 2733.2 L357.1 2733.3 L359.1 2733.4 L361.1 2733.5 L363.1 2733.6 L365.1 2733.6 L367.2 2733.7 L369.2 2733.8 L371.2 2733.9 L373.2 2734 L375.2 2734.1 L377.2 2734.2 L379.2 2734.3 L381.2 2734.4 L383.2 2734.5 L385.2 2734.6 L386.5 2734.7 L387.2 2734.7 L389.2 2734.9 L391.2 2735 L393.2 2735.2 L395.2 2735.3 L397.2 2735.5 L399.2 2735.7 L401.2 2736 L403.2 2736.2 L405.2 2736.5 L407.2 2736.7 L409.2 2737 L411.2 2737.3 L413.2 2737.6 L415.2 2737.9 L417.2 2738.2 L419.2 2738.5 L421.2 2738.9 L423.2 2739.2 L425.2 2739.5 L427.2 2739.9 L429.2 2740.2 L431.2 2740.6 L431.9 2740.7 L433.2 2740.9 L435.2 2741.3 L437.2 2741.7 L439.2 2742.2 L441.2 2742.6 L443.2 2743.1 L445.2 2743.6 L447.2 2744.1 L449.2 2744.6 L451.2 2745.2 L453.2 2745.7 L455.2 2746.3 L457.3 2746.9 L459.3 2747.5 L461.3 2748 L462.1 2748.3 L463.3 2748.6 L465.3 2749.3 L467.3 2749.9 L469.3 2750.5 L471.3 2751.2 L473.3 2751.9 L475.3 2752.6 L477.3 2753.4 L479.3 2754.2 L481.3 2755 L483.3 2755.9 L483.3 2755.9 L485.3 2756.8 L487.3 2757.8 L489.3 2758.9 L491.3 2760 L493.3 2761.2 L495.3 2762.4 L497.3 2763.7 L499.3 2765 L501.3 2766.4 L501.5 2766.5 L503.3 2767.8 L505.3 2769.3 L507.3 2770.9 L509.3 2772.6 L511.3 2774.4 L513.3 2776.2 L515.3 2778 L517.3 2779.8 L519.3 2781.6 L521.3 2783.4 L522.7 2784.6 L523.3 2785.1 L525.3 2786.9 L527.3 2788.6 L529.3 2790.4 L531.3 2792.1 L533.3 2793.8 L535.3 2795.6 L537.3 2797.4 L539.3 2799.1 L541.3 2800.9 L543.3 2802.6 L545.3 2804.4 L546.9 2805.8 L547.4 2806.2 L549.4 2808 L551.4 2809.9 L553.4 2811.9 L555.4 2813.7 L557.4 2815.6 L559.4 2817.3 L561.4 2818.9 L562 2819.4 L563.4 2820.4 L565.4 2821.8 L567.4 2823.2 L569.4 2824.5 L571.4 2825.7 L573.4 2826.7 L574.1 2827 L575.4 2827.6 L577.4 2828.5 L579.4 2829.3 L581.4 2829.8 L583.2 2830 L583.4 2830 L585.4 2829.9 L587.4 2829.6 L589.4 2829.3 L591.4 2828.8 L593.4 2828.2 L595.4 2827.5 L597.4 2826.8 L598.3 2826.5 L599.4 2826 L601.4 2824.9 L603.4 2823.5 L605.4 2821.8 L607.4 2820 L609.4 2818.1 L611.4 2816.2 L613.4 2814.5 L613.5 2814.4 L615.4 2812.7 L617.4 2811 L619.4 2809.2 L621.4 2807.4 L623.4 2805.5 L625.4 2803.7 L627.4 2801.9 L628.6 2800.8 L629.4 2800 L631.4 2798.2 L633.4 2796.4 L635.4 2794.6 L637.5 2792.7 L639.5 2790.9 L641.5 2789.1 L643.5 2787.2 L643.7 2787 L645.5 2785.4 L647.5 2783.6 L649.5 2781.9 L651.5 2780.1 L653.5 2778.3 L655.5 2776.5 L657.5 2774.6 L659.5 2772.5 L660 2772 L661.5 2770.4 L663.5 2768.1 L665.5 2765.7 L667.5 2763.2 L669.5 2760.6 L671.5 2758.1 L673.5 2755.7 L675 2753.9 L675.5 2753.3 L677.5 2750.8 L679.5 2748.2 L681.5 2745.5 L683.5 2742.9 L685.5 2740.7 L687.5 2738.8 L689.5 2737.5 L690.3 2737.2 L691.5 2736.8 L693.5 2736.2 L695.5 2735.6 L697.5 2735.1 L699.5 2734.7 L701.5 2734.4 L703.5 2734.3 L705.4 2734.2 L705.5 2734.2 L707.5 2734.5 L709.5 2735.2 L711.5 2736.2 L713.5 2737.3 L715.5 2738.4 L717 2739 L717.5 2739.2 L719.5 2740.1 L721.5 2741 L723.5 2741.8 L725.6 2742.6 L727.6 2743.1 L729.6 2743.3 L729.6 2743.3 L731.6 2743.3 L733.6 2743.1 L735.6 2743 L737.6 2742.7 L739.6 2742.5 L741.6 2742.2 L743.6 2741.9 L744.7 2741.8 L745.6 2741.7 L747.6 2741.4 L749.6 2741.1 L751.6 2740.7 L753.6 2740.3 L755.6 2739.9 L757.6 2739.5 L759.6 2739 L761.6 2738.6 L763.6 2738.1 L765.6 2737.7 L767.6 2737.2 L769.6 2736.8 L771.6 2736.4 L773.6 2736 L775.6 2735.6 L777.6 2735.2 L779.6 2734.9 L781.1 2734.7 L781.6 2734.6 L783.6 2734.4 L785.6 2734.1 L787.6 2733.8 L789.6 2733.6 L791.6 2733.3 L793.6 2733.1 L795.6 2732.8 L797.6 2732.6 L799.6 2732.3 L801.6 2732.1 L803.6 2731.8 L805.6 2731.6 L807.6 2731.4 L809.6 2731.2 L811.6 2731 L813.6 2730.8 L815.7 2730.6 L817.7 2730.4 L819.7 2730.2 L821.7 2730 L823.7 2729.8 L825.7 2729.7 L827.7 2729.5 L829.7 2729.4 L831.7 2729.2 L833.7 2729.1 L835.7 2729 L837.7 2728.9 L839.7 2728.8 L841.6 2728.7 L841.7 2728.7 L843.7 2728.6 L845.7 2728.5 L847.7 2728.5 L849.7 2728.4 L851.7 2728.3 L853.7 2728.3 L855.7 2728.2 L857.7 2728.1 L859.7 2728.1 L861.7 2728 L863.7 2727.9 L865.7 2727.9 L867.7 2727.8 L869.7 2727.8 L871.7 2727.7 L873.7 2727.7 L875.7 2727.6 L877.7 2727.6 L879.7 2727.6 L881.7 2727.5 L883.7 2727.5 L885.7 2727.4 L887.7 2727.4 L889.7 2727.4 L891.7 2727.3 L893.7 2727.3 L895.7 2727.2 L897.7 2727.2 L899.7 2727.1 L901.7 2727.1 L902.1 2727.1 L903.7 2727.1 L905.8 2727 L907.8 2727 L909.8 2726.9 L911.8 2726.9 L913.8 2726.9 L915.8 2726.8 L917.8 2726.8 L919.8 2726.7 L921.8 2726.7 L923.8 2726.7 L925.8 2726.6 L927.8 2726.6 L929.8 2726.6 L931.8 2726.5 L933.8 2726.5 L935.8 2726.5 L937.8 2726.4 L939.8 2726.4 L941.8 2726.3 L943.8 2726.3 L945.8 2726.3 L947.8 2726.2 L949.8 2726.2 L951.8 2726.2 L953.8 2726.2 L955.8 2726.1 L957.8 2726.1 L959.8 2726.1 L961.8 2726 L963.8 2726 L965.8 2726 L967.8 2725.9 L969.8 2725.9 L971.8 2725.9 L973.8 2725.9 L975.8 2725.8 L977.8 2725.8 L979.8 2725.8 L981.8 2725.7 L983.8 2725.7 L985.8 2725.7 L987.8 2725.7 L989.8 2725.6 L991.8 2725.6 L992.9 2725.6 L993.8 2725.6 L995.9 2725.6 L997.9 2725.5 L999.9 2725.5 L1001.9 2725.5 L1003.9 2725.5 L1005.9 2725.5 L1007.9 2725.4 L1009.9 2725.4 L1011.9 2725.4 L1013.9 2725.4 L1015.9 2725.4 L1017.9 2725.3 L1019.9 2725.3 L1021.9 2725.3 L1023.9 2725.3 L1025.9 2725.3 L1027.9 2725.3 L1029.9 2725.2 L1031.9 2725.2 L1033.9 2725.2 L1035.9 2725.2 L1037.9 2725.2 L1039.9 2725.1 L1041.9 2725.1 L1043.9 2725.1 L1045.9 2725.1 L1047.9 2725.1 L1049.9 2725 L1051.9 2725 L1053.5 2725 L1053.9 2725 L1055.9 2725 L1057.9 2724.9 L1059.9 2724.9 L1061.9 2724.9 L1063.9 2724.9 L1065.9 2724.8 L1067.9 2724.8 L1069.9 2724.8 L1071.9 2724.8 L1073.9 2724.7 L1075.9 2724.7 L1077.9 2724.7 L1079.9 2724.6 L1081.9 2724.6 L1083.9 2724.6 L1086 2724.6 L1088 2724.5 L1090 2724.5 L1092 2724.5 L1094 2724.4 L1096 2724.4 L1098 2724.4 L1100 2724.3 L1102 2724.3 L1104 2724.3 L1106 2724.2 L1108 2724.2 L1110 2724.2 L1112 2724.1 L1114 2724.1 L1116 2724.1 L1118 2724 L1120 2724 L1122 2723.9 L1124 2723.9 L1126 2723.9 L1128 2723.8 L1130 2723.8" stroke="#f5484c" stroke-width="9.2" fill="none" stroke-linejoin="round"/>
<path d="M231 2561.7 L233 2561.7 L235 2561.7 L237 2561.7 L239 2561.7 L241 2561.7 L243 2561.7 L245 2561.8 L247 2561.8 L249 2561.8 L251 2561.8 L253 2561.8 L255 2561.9 L257 2561.9 L259 2561.9 L261 2561.9 L263 2562 L265 2562 L267 2562 L269 2562.1 L271 2562.1 L273 2562.1 L275 2562.2 L277.1 2562.2 L279.1 2562.3 L280.5 2562.3 L281.1 2562.3 L283.1 2562.4 L285.1 2562.4 L287.1 2562.5 L289.1 2562.7 L291.1 2562.8 L293.1 2562.9 L295.1 2563.1 L297.1 2563.3 L299.1 2563.5 L301.1 2563.7 L303.1 2563.9 L305.1 2564.1 L307.1 2564.3 L309.1 2564.6 L311.1 2564.8 L313.1 2565.1 L315.1 2565.4 L317.1 2565.7 L319.1 2565.9 L321.1 2566.2 L323.1 2566.5 L325.1 2566.8 L327.1 2567.1 L329.1 2567.4 L331.1 2567.7 L333.1 2568 L335.1 2568.3 L337.1 2568.6 L339.1 2568.9 L341 2569.2 L341.1 2569.2 L343.1 2569.5 L345.1 2569.8 L347.1 2570.1 L349.1 2570.5 L351.1 2570.8 L353.1 2571.1 L355.1 2571.5 L357.1 2571.8 L359.1 2572.2 L361.1 2572.6 L363.1 2573 L365.1 2573.3 L367.2 2573.8 L369.2 2574.2 L371.2 2574.6 L373.2 2575 L375.2 2575.5 L377.2 2576 L379.2 2576.4 L381.2 2576.9 L383.2 2577.4 L385.2 2577.9 L386.5 2578.3 L387.2 2578.5 L389.2 2579 L391.2 2579.6 L393.2 2580.3 L395.2 2580.9 L397.2 2581.6 L399.2 2582.3 L401.2 2583 L403.2 2583.8 L405.2 2584.5 L407.2 2585.3 L409.2 2586.1 L411.2 2587 L413.2 2587.8 L415.2 2588.7 L417.2 2589.6 L419.2 2590.5 L421.2 2591.4 L423.2 2592.3 L425.2 2593.3 L427.2 2594.2 L429.2 2595.2 L431.2 2596.2 L431.9 2596.5 L433.2 2597.1 L435.2 2598.1 L437.2 2599.1 L439.2 2600.2 L441.2 2601.2 L443.2 2602.3 L445.2 2603.4 L447.2 2604.5 L449.2 2605.7 L451.2 2607 L453.2 2608.3 L455.2 2609.6 L457.3 2611 L459.3 2612.5 L461.3 2614 L462.1 2614.7 L463.3 2615.7 L465.3 2617.5 L467.3 2619.4 L469.3 2621.5 L471.3 2623.7 L473.3 2626.1 L475.3 2628.5 L477.3 2631 L479.3 2633.6 L481.3 2636.2 L483.3 2638.9 L483.3 2638.9 L485.3 2641.6 L487.3 2644.5 L489.3 2647.4 L491.3 2650.5 L493.3 2653.8 L495.3 2657.2 L497.3 2660.8 L498.5 2663 L499.3 2664.5 L501.3 2668.6 L503.3 2673 L505.3 2677.7 L507.3 2682.4 L509.3 2687.2 L510.6 2690.3 L511.3 2692 L513.3 2696.9 L515.3 2701.8 L517.3 2706.9 L519.3 2712 L521.3 2717.1 L522.7 2720.6 L523.3 2722.2 L525.3 2727.4 L527.3 2732.8 L529.3 2738.2 L531.3 2743.5 L533.3 2748.8 L535.3 2754 L537.3 2758.9 L537.8 2760 L539.3 2763.6 L541.3 2768.2 L543.3 2772.7 L545.3 2777 L547.4 2781.3 L549.4 2785.6 L551.4 2789.8 L553 2793.2 L553.4 2794 L555.4 2798.3 L557.4 2802.7 L559.4 2807 L561.4 2811.1 L563.4 2814.8 L565 2817.4 L565.4 2817.9 L567.4 2820.8 L569.4 2823.6 L571.4 2825.9 L573.4 2827.6 L574.1 2828 L575.4 2828.6 L577.4 2829.6 L579.4 2830.3 L581.4 2830.8 L583.2 2831 L583.4 2831 L585.4 2830.7 L587.4 2829.8 L589.4 2828.6 L591.4 2827.2 L592.3 2826.5 L593.4 2825.4 L595.4 2822.5 L597.4 2818.6 L599.4 2814.1 L601.4 2809.3 L603.4 2804.5 L604.4 2802.3 L605.4 2800.1 L607.4 2795.4 L609.4 2790.7 L611.4 2785.7 L613.4 2780.8 L615.4 2775.8 L617.4 2770.9 L619.4 2766.2 L619.5 2766 L621.4 2761.5 L623.4 2756.8 L625.4 2752.1 L627.4 2747.4 L629.4 2742.7 L631.4 2738 L633.4 2733.5 L635.4 2728.9 L637.5 2724.5 L639.5 2720.2 L641.5 2716 L643.5 2712 L643.7 2711.5 L645.5 2708 L647.5 2704.2 L649.5 2700.4 L651.5 2696.7 L653.5 2693.2 L655.5 2689.8 L657.5 2686.5 L658.9 2684.3 L659.5 2683.4 L661.5 2679.9 L663.5 2676.3 L665.5 2673.2 L667.5 2671.1 L669 2670.6 L669.5 2670.6 L671.5 2671 L673.5 2671.6 L675.5 2672.2 L677 2672.6 L677.5 2672.7 L679.5 2673.1 L681.5 2673.5 L683.5 2673.7 L684.2 2673.7 L685.5 2673.6 L687.5 2672.9 L689.5 2671.8 L691.5 2670.4 L693.3 2669 L693.5 2668.8 L695.5 2666.4 L697.5 2662.9 L699.5 2658.6 L701.5 2653.9 L703.5 2649.2 L705.4 2645 L705.5 2644.7 L707.5 2640.3 L709.5 2635.7 L711.5 2630.9 L713.5 2626.3 L715.5 2621.8 L717.5 2617.7 L717.5 2617.6 L719.5 2613.6 L721.5 2609.5 L723.5 2605.5 L725.6 2601.9 L727.6 2598.8 L729.6 2596.5 L729.6 2596.5 L731.6 2594.8 L733.6 2593.3 L735.6 2592 L737.6 2590.9 L739.6 2589.8 L741.6 2588.8 L743.6 2587.9 L744.7 2587.4 L745.6 2587 L747.6 2586.1 L749.6 2585.3 L751.6 2584.5 L753.6 2583.8 L755.6 2583.1 L757.6 2582.4 L759.6 2581.7 L761.6 2581.1 L763.6 2580.5 L765.6 2579.9 L765.9 2579.8 L767.6 2579.3 L769.6 2578.7 L771.6 2578.2 L773.6 2577.6 L775.6 2577.1 L777.6 2576.6 L779.6 2576.1 L781.6 2575.6 L783.6 2575.1 L785.6 2574.6 L787.6 2574.1 L789.6 2573.7 L791.6 2573.3 L793.6 2572.8 L795.6 2572.4 L796.2 2572.3 L797.6 2572 L799.6 2571.6 L801.6 2571.2 L803.6 2570.8 L805.6 2570.4 L807.6 2570 L809.6 2569.6 L811.6 2569.2 L813.6 2568.8 L815.7 2568.5 L817.7 2568.1 L819.7 2567.8 L821.7 2567.4 L823.7 2567.1 L825.7 2566.8 L827.7 2566.4 L829.7 2566.1 L831.7 2565.9 L833.7 2565.6 L835.7 2565.3 L837.7 2565.1 L839.7 2564.9 L841.6 2564.7 L841.7 2564.7 L843.7 2564.5 L845.7 2564.3 L847.7 2564.2 L849.7 2564 L851.7 2563.8 L853.7 2563.7 L855.7 2563.5 L857.7 2563.4 L859.7 2563.2 L861.7 2563.1 L863.7 2563 L865.7 2562.8 L867.7 2562.7 L869.7 2562.6 L871.7 2562.5 L873.7 2562.4 L875.7 2562.3 L877.7 2562.2 L879.7 2562.1 L881.7 2562 L883.7 2561.9 L885.7 2561.8 L887 2561.7 L887.7 2561.7 L889.7 2561.6 L891.7 2561.5 L893.7 2561.4 L895.7 2561.3 L897.7 2561.2 L899.7 2561.1 L901.7 2561 L903.7 2560.9 L905.8 2560.8 L907.8 2560.7 L909.8 2560.6 L911.8 2560.5 L913.8 2560.4 L915.8 2560.4 L917.8 2560.3 L919.8 2560.2 L921.8 2560.1 L923.8 2560.1 L925.8 2560 L927.8 2559.9 L929.8 2559.9 L931.8 2559.8 L933.8 2559.8 L935.8 2559.7 L937.8 2559.7 L939.8 2559.7 L941.8 2559.6 L943.8 2559.6 L945.8 2559.6 L947.5 2559.6 L947.8 2559.6 L949.8 2559.6 L951.8 2559.6 L953.8 2559.6 L955.8 2559.6 L957.8 2559.6 L959.8 2559.7 L961.8 2559.7 L963.8 2559.7 L965.8 2559.7 L967.8 2559.8 L969.8 2559.8 L971.8 2559.8 L973.8 2559.9 L975.8 2559.9 L977.8 2560 L979.8 2560 L981.8 2560.1 L983.8 2560.1 L985.8 2560.2 L987.8 2560.2 L989.8 2560.3 L991.8 2560.3 L993.8 2560.4 L995.9 2560.4 L997.9 2560.5 L999.9 2560.6 L1001.9 2560.6 L1003.9 2560.7 L1005.9 2560.7 L1007.9 2560.8 L1008 2560.8 L1009.9 2560.9 L1011.9 2560.9 L1013.9 2561 L1015.9 2561.1 L1017.9 2561.2 L1019.9 2561.3 L1021.9 2561.5 L1023.9 2561.6 L1025.9 2561.7 L1027.9 2561.8 L1029.9 2562 L1031.9 2562.1 L1033.9 2562.3 L1035.9 2562.4 L1037.9 2562.6 L1039.9 2562.7 L1041.9 2562.9 L1043.9 2563.1 L1045.9 2563.2 L1047.9 2563.4 L1049.9 2563.5 L1051.9 2563.7 L1053.9 2563.8 L1055.9 2563.9 L1057.9 2564.1 L1059.9 2564.2 L1061.9 2564.3 L1063.9 2564.5 L1065.9 2564.6 L1067.9 2564.7 L1068.6 2564.7 L1069.9 2564.8 L1071.9 2564.9 L1073.9 2564.9 L1075.9 2565 L1077.9 2565.1 L1079.9 2565.2 L1081.9 2565.3 L1083.9 2565.4 L1086 2565.5 L1088 2565.6 L1090 2565.7 L1092 2565.7 L1094 2565.8 L1096 2565.9 L1098 2566 L1100 2566.1 L1102 2566.1 L1104 2566.2 L1106 2566.3 L1108 2566.3 L1110 2566.4 L1112 2566.5 L1114 2566.5 L1116 2566.6 L1118 2566.7 L1120 2566.7 L1122 2566.8 L1124 2566.8 L1126 2566.9 L1128 2567 L1130 2567" stroke="#ff9045" stroke-width="9.2" fill="none" stroke-linejoin="round"/>
<path d="M231 2797.8 L233 2797.7 L235 2797.7 L237 2797.6 L239 2797.5 L241 2797.5 L243 2797.4 L245 2797.3 L247 2797.3 L249 2797.2 L251 2797.1 L253 2797.1 L255 2797 L257 2796.9 L259 2796.9 L261 2796.8 L263 2796.7 L265 2796.7 L267 2796.6 L269 2796.6 L271 2796.5 L273 2796.4 L275 2796.4 L277.1 2796.3 L279.1 2796.3 L281.1 2796.2 L283.1 2796.1 L285.1 2796.1 L287.1 2796 L289.1 2796 L291.1 2795.9 L293.1 2795.9 L295.1 2795.8 L297.1 2795.8 L299.1 2795.7 L301.1 2795.6 L303.1 2795.6 L305.1 2795.5 L307.1 2795.5 L309.1 2795.4 L311.1 2795.4 L313.1 2795.3 L315.1 2795.3 L317.1 2795.2 L319.1 2795.2 L321.1 2795.1 L323.1 2795.1 L325.1 2795 L327.1 2795 L329.1 2795 L331.1 2794.9 L333.1 2794.9 L335.1 2794.8 L337.1 2794.8 L339.1 2794.7 L341 2794.7 L341.1 2794.7 L343.1 2794.7 L345.1 2794.6 L347.1 2794.6 L349.1 2794.5 L351.1 2794.5 L353.1 2794.4 L355.1 2794.4 L357.1 2794.3 L359.1 2794.3 L361.1 2794.3 L363.1 2794.2 L365.1 2794.2 L367.2 2794.1 L369.2 2794.1 L371.2 2794 L373.2 2794 L375.2 2793.9 L377.2 2793.9 L379.2 2793.9 L381.2 2793.8 L383.2 2793.8 L385.2 2793.7 L387.2 2793.7 L389.2 2793.7 L391.2 2793.6 L393.2 2793.6 L395.2 2793.6 L397.2 2793.5 L399.2 2793.5 L401.2 2793.5 L403.2 2793.4 L405.2 2793.4 L407.2 2793.4 L409.2 2793.3 L411.2 2793.3 L413.2 2793.3 L415.2 2793.3 L417.2 2793.3 L419.2 2793.2 L421.2 2793.2 L423.2 2793.2 L425.2 2793.2 L427.2 2793.2 L429.2 2793.2 L431.2 2793.2 L431.9 2793.2 L433.2 2793.2 L435.2 2793.2 L437.2 2793.2 L439.2 2793.2 L441.2 2793.2 L443.2 2793.2 L445.2 2793.2 L447.2 2793.2 L449.2 2793.2 L451.2 2793.2 L453.2 2793.2 L455.2 2793.2 L457.3 2793.2 L459.3 2793.2 L461.3 2793.2 L463.3 2793.2 L465.3 2793.2 L467.3 2793.2 L469.3 2793.2 L471.3 2793.2 L473.3 2793.2 L475.3 2793.2 L477.3 2793.2 L479.3 2793.2 L481.3 2793.2 L483.3 2793.2 L485.3 2793.2 L487.3 2793.2 L489.3 2793.2 L491.3 2793.2 L492.4 2793.2 L493.3 2793.2 L495.3 2793.2 L497.3 2793.3 L499.3 2793.4 L501.3 2793.5 L503.3 2793.7 L505.3 2793.9 L507.3 2794.1 L509.3 2794.3 L511.3 2794.6 L513.3 2794.8 L515.3 2795.1 L517.3 2795.4 L519.3 2795.7 L521.3 2796 L522.7 2796.2 L523.3 2796.3 L525.3 2796.7 L527.3 2797.1 L529.3 2797.6 L531.3 2798.2 L533.3 2798.8 L535.3 2799.4 L537.3 2800.1 L539.3 2800.8 L541.3 2801.5 L543.3 2802.2 L545.3 2802.9 L547.4 2803.6 L549.4 2804.2 L551.4 2804.8 L553 2805.3 L553.4 2805.4 L555.4 2806 L557.4 2806.6 L559.4 2807.2 L561.4 2807.8 L563.4 2808.5 L565.4 2809.1 L567.4 2809.7 L569.4 2810.3 L571.4 2810.8 L573.4 2811.3 L575.4 2811.8 L577.4 2812.2 L579.4 2812.6 L581.4 2812.8 L583.2 2813 L583.4 2813 L585.4 2813.2 L587.4 2813.3 L589.4 2813.5 L591.4 2813.6 L593.4 2813.7 L595.4 2813.8 L597.4 2813.9 L599.4 2814 L601.4 2814.1 L603.4 2814.2 L605.4 2814.3 L607.4 2814.3 L609.4 2814.4 L611.4 2814.4 L613.4 2814.4 L613.5 2814.4 L615.4 2814.4 L617.4 2814.3 L619.4 2814.2 L621.4 2814.1 L623.4 2813.9 L625.4 2813.7 L627.4 2813.5 L629.4 2813.3 L631.4 2813.1 L633.4 2812.8 L635.4 2812.5 L637.5 2812.3 L639.5 2812 L641.5 2811.7 L643.5 2811.4 L643.7 2811.4 L645.5 2811.2 L647.5 2810.9 L649.5 2810.5 L651.5 2810.2 L653.5 2809.8 L655.5 2809.4 L657.5 2808.9 L659.5 2808.4 L660 2808.3 L661.5 2807.9 L663.5 2807.2 L665.5 2806.3 L667.5 2805.4 L669.5 2804.5 L671.5 2803.6 L673.5 2802.8 L675 2802.3 L675.5 2802.1 L677.5 2801.4 L679.5 2800.7 L681.5 2800 L683.5 2799.5 L685.5 2799.3 L685.7 2799.3 L687.5 2799.5 L689.5 2800.2 L691.5 2801.1 L693.5 2802.2 L695.5 2803.4 L696.3 2803.8 L697.5 2804.6 L699.5 2806.2 L701.5 2808.1 L703.5 2809.9 L705.5 2811.5 L707.5 2812.6 L708.4 2812.9 L709.5 2813.1 L711.5 2813.5 L713.5 2813.8 L715.5 2814.1 L717.5 2814.3 L719.5 2814.4 L720.5 2814.4 L721.5 2814.4 L723.5 2814 L725.6 2813.5 L727.6 2812.8 L729.6 2812 L731.6 2811.2 L733.6 2810.5 L735.6 2809.9 L735.7 2809.9 L737.6 2809.5 L739.6 2809.1 L741.6 2808.6 L743.6 2808.2 L745.6 2807.8 L747.6 2807.5 L749.6 2807.1 L751.6 2806.8 L753.6 2806.4 L755.6 2806.1 L757.6 2805.8 L759.6 2805.5 L761.6 2805.2 L763.6 2805 L765.6 2804.7 L765.9 2804.7 L767.6 2804.5 L769.6 2804.3 L771.6 2804 L773.6 2803.8 L775.6 2803.6 L777.6 2803.4 L779.6 2803.2 L781.6 2803 L783.6 2802.8 L785.6 2802.6 L787.6 2802.4 L789.6 2802.2 L791.6 2802 L793.6 2801.9 L795.6 2801.7 L797.6 2801.6 L799.6 2801.4 L801.6 2801.3 L803.6 2801.2 L805.6 2801.1 L807.6 2801 L809.6 2800.9 L811.3 2800.8 L811.6 2800.8 L813.6 2800.7 L815.7 2800.6 L817.7 2800.6 L819.7 2800.5 L821.7 2800.4 L823.7 2800.4 L825.7 2800.3 L827.7 2800.2 L829.7 2800.2 L831.7 2800.1 L833.7 2800.1 L835.7 2800 L837.7 2800 L839.7 2799.9 L841.7 2799.9 L843.7 2799.8 L845.7 2799.8 L847.7 2799.7 L849.7 2799.7 L851.7 2799.6 L853.7 2799.6 L855.7 2799.6 L857.7 2799.5 L859.7 2799.5 L861.7 2799.5 L863.7 2799.4 L865.7 2799.4 L867.7 2799.4 L869.7 2799.3 L871.7 2799.3 L871.9 2799.3 L873.7 2799.3 L875.7 2799.2 L877.7 2799.2 L879.7 2799.2 L881.7 2799.2 L883.7 2799.1 L885.7 2799.1 L887.7 2799.1 L889.7 2799.1 L891.7 2799 L893.7 2799 L895.7 2799 L897.7 2799 L899.7 2798.9 L901.7 2798.9 L903.7 2798.9 L905.8 2798.9 L907.8 2798.9 L909.8 2798.8 L911.8 2798.8 L913.8 2798.8 L915.8 2798.8 L917.8 2798.8 L919.8 2798.8 L921.8 2798.7 L923.8 2798.7 L925.8 2798.7 L927.8 2798.7 L929.8 2798.7 L931.8 2798.6 L933.8 2798.6 L935.8 2798.6 L937.8 2798.6 L939.8 2798.6 L941.8 2798.6 L943.8 2798.5 L945.8 2798.5 L947.8 2798.5 L949.8 2798.5 L951.8 2798.5 L953.8 2798.5 L955.8 2798.5 L957.8 2798.4 L959.8 2798.4 L961.8 2798.4 L962.7 2798.4 L963.8 2798.4 L965.8 2798.4 L967.8 2798.4 L969.8 2798.3 L971.8 2798.3 L973.8 2798.3 L975.8 2798.3 L977.8 2798.3 L979.8 2798.3 L981.8 2798.2 L983.8 2798.2 L985.8 2798.2 L987.8 2798.2 L989.8 2798.2 L991.8 2798.1 L993.8 2798.1 L995.9 2798.1 L997.9 2798.1 L999.9 2798.1 L1001.9 2798.1 L1003.9 2798 L1005.9 2798 L1007.9 2798 L1009.9 2798 L1011.9 2798 L1013.9 2798 L1015.9 2798 L1017.9 2797.9 L1019.9 2797.9 L1021.9 2797.9 L1023.9 2797.9 L1025.9 2797.9 L1027.9 2797.9 L1029.9 2797.9 L1031.9 2797.9 L1033.9 2797.8 L1035.9 2797.8 L1037.9 2797.8 L1039.9 2797.8 L1041.9 2797.8 L1043.9 2797.8 L1045.9 2797.8 L1047.9 2797.8 L1049.9 2797.8 L1051.9 2797.8 L1053.5 2797.8 L1053.9 2797.8 L1055.9 2797.8 L1057.9 2797.8 L1059.9 2797.8 L1061.9 2797.8 L1063.9 2797.8 L1065.9 2797.8 L1067.9 2797.8 L1069.9 2797.8 L1071.9 2797.8 L1073.9 2797.8 L1075.9 2797.8 L1077.9 2797.8 L1079.9 2797.8 L1081.9 2797.8 L1083.9 2797.8 L1086 2797.8 L1088 2797.8 L1090 2797.8 L1092 2797.8 L1094 2797.8 L1096 2797.8 L1098 2797.8 L1100 2797.8 L1102 2797.8 L1104 2797.8 L1106 2797.8 L1108 2797.8 L1110 2797.8 L1112 2797.8 L1114 2797.8 L1116 2797.8 L1118 2797.8 L1120 2797.8 L1122 2797.8 L1124 2797.8 L1126 2797.8 L1128 2797.8 L1130 2797.8" stroke="#ffe840" stroke-width="9.2" fill="none" stroke-linejoin="round"/>
<path d="M231 2756.8 L233 2757.3 L235 2757.8 L237 2758.2 L239 2758.7 L241 2759.2 L243 2759.7 L245 2760.2 L247 2760.7 L249 2761.2 L251 2761.7 L253 2762.2 L255 2762.7 L257 2763.2 L259 2763.8 L261 2764.3 L263 2764.8 L265 2765.3 L267 2765.9 L269 2766.4 L271 2766.9 L273 2767.5 L275 2768 L277.1 2768.6 L279.1 2769.1 L280.5 2769.5 L281.1 2769.7 L283.1 2770.2 L285.1 2770.8 L287.1 2771.3 L289.1 2771.9 L291.1 2772.5 L293.1 2773 L295.1 2773.6 L297.1 2774.2 L299.1 2774.8 L301.1 2775.4 L303.1 2776 L305.1 2776.6 L307.1 2777.2 L309.1 2777.8 L311.1 2778.4 L313.1 2779 L315.1 2779.6 L317.1 2780.2 L319.1 2780.8 L321.1 2781.4 L323.1 2782.1 L325.1 2782.7 L327.1 2783.3 L329.1 2783.9 L331.1 2784.6 L333.1 2785.2 L335.1 2785.8 L337.1 2786.4 L339.1 2787.1 L341.1 2787.7 L341.1 2787.7 L343.1 2788.3 L345.1 2789 L347.1 2789.6 L349.1 2790.3 L351.1 2791 L353.1 2791.6 L355.1 2792.3 L357.1 2793 L359.1 2793.7 L361.1 2794.4 L363.1 2795 L365.1 2795.7 L367.2 2796.4 L369.2 2797.1 L371.2 2797.8 L373.2 2798.4 L375.2 2799.1 L377.2 2799.8 L379.2 2800.4 L381.2 2801.1 L383.2 2801.7 L385.2 2802.4 L386.5 2802.8 L387.2 2803 L389.2 2803.6 L391.2 2804.3 L393.2 2804.9 L395.2 2805.5 L397.2 2806.1 L399.2 2806.8 L401.2 2807.4 L403.2 2808 L405.2 2808.6 L407.2 2809.2 L409.2 2809.8 L411.2 2810.4 L413.2 2810.9 L415.2 2811.5 L416.7 2811.9 L417.2 2812 L419.2 2812.6 L421.2 2813.2 L423.2 2813.8 L425.2 2814.4 L427.2 2815 L429.2 2815.5 L431.2 2816 L433.2 2816.5 L435.2 2816.9 L437.2 2817.2 L437.9 2817.3 L439.2 2817.5 L441.2 2817.7 L443.2 2818 L445.2 2818.2 L447.2 2818.5 L449.2 2818.7 L451.2 2818.9 L453.2 2819 L455.2 2819.2 L457.3 2819.3 L459.3 2819.4 L461.3 2819.4 L462.1 2819.4 L463.3 2819.4 L465.3 2819.3 L467.3 2819.1 L469.3 2818.8 L471.3 2818.5 L473.3 2818.1 L475.3 2817.6 L477.3 2817.2 L479.3 2816.7 L480.3 2816.4 L481.3 2816.1 L483.3 2815.4 L485.3 2814.6 L487.3 2813.6 L489.3 2812.4 L491.3 2811.2 L492.4 2810.4 L493.3 2809.7 L495.3 2808 L497.3 2806 L499.3 2803.7 L501.3 2801.1 L503.3 2798.4 L504.5 2796.7 L505.3 2795.5 L507.3 2792.2 L509.3 2788.5 L511.3 2784.5 L513.3 2780.2 L515.3 2775.6 L516.6 2772.5 L517.3 2770.7 L519.3 2765.5 L521.3 2759.8 L523.3 2753.5 L525.3 2746.6 L525.7 2745.3 L527.3 2739 L529.3 2730.2 L531.3 2720.7 L533.3 2710.5 L534.8 2702.9 L535.3 2700 L537.3 2688.8 L539.3 2676.8 L541.3 2664.4 L543.3 2651.8 L543.9 2648.4 L545.3 2639.3 L547.4 2626.7 L549.4 2613.7 L551.4 2600.3 L551.4 2600 L553.4 2586.4 L555.4 2572 L557.4 2557.3 L559 2545 L559.4 2542.2 L561.4 2526.6 L563.4 2510.6 L565.4 2494.2 L567.4 2477.9 L569.4 2461.8 L571.1 2448.2 L571.4 2446 L573.4 2430.2 L575.4 2414.2 L577.4 2398.4 L579.4 2383.2 L581.4 2369 L583.2 2357.4 L583.4 2356.2 L585.4 2344.8 L587.4 2334.4 L589.4 2324.8 L590 2322 L591.4 2315.8 L593.4 2307.4 L595.3 2299.9 L595.4 2299.5 L597.4 2291.5 L599.4 2284 L601 2279 L601.4 2277.9 L603.4 2272.6 L605.4 2268.1 L607.4 2265 L607.4 2265 L609.4 2262.9 L611.4 2261.3 L613.4 2259.9 L615 2259 L615.4 2258.8 L617.4 2257.5 L619.4 2256.4 L621.4 2255.5 L623.4 2255 L624 2255 L625.4 2255.3 L627.4 2256.6 L629.4 2258.5 L631.4 2260.5 L632 2261 L633.4 2262.4 L635.4 2264.7 L637.5 2267.2 L639.5 2269.9 L641.5 2272.6 L643.5 2275.4 L643.7 2275.7 L645.5 2278.1 L647.5 2281 L649.5 2283.9 L651.5 2286.9 L653.5 2289.8 L655 2292 L655.5 2292.7 L657.5 2296.2 L659.5 2299.9 L661.5 2303.2 L663.5 2305.4 L664.9 2305.9 L665.5 2305.9 L667.5 2305.2 L669 2304.4 L669.5 2304 L671.5 2300.3 L673.5 2294.3 L675.5 2287.4 L677.5 2280.7 L678.2 2278.7 L679.5 2274.9 L681.5 2268.2 L683.5 2261.4 L685.5 2255 L687.5 2250.1 L689.5 2247.3 L690.3 2247 L691.5 2246.9 L693.5 2246.7 L695.5 2246.6 L697.5 2246.5 L699.5 2246.4 L701.5 2246.3 L703.5 2246.3 L705.4 2246.3 L705.5 2246.4 L707.5 2256 L707.5 2256.1 L709.5 2265.1 L711 2272.6 L711.5 2275.8 L713.5 2290.2 L715.5 2306.6 L717.5 2323.3 L718 2327 L719.5 2339.5 L721.5 2356.4 L723.5 2372.7 L725.6 2387.3 L725.6 2387.6 L727.6 2400.4 L729.6 2412.4 L731.6 2422.2 L732 2424 L733.6 2429.7 L735.6 2436.2 L737.6 2442 L739.6 2447 L741.6 2451.4 L743.5 2455 L743.6 2455.1 L745.6 2458.3 L747.6 2461.1 L749.6 2463.7 L751.6 2466 L753.6 2468.1 L755.6 2470.2 L757.6 2472.4 L759.6 2474.6 L759.9 2475 L761.6 2477 L763.6 2479.4 L765.6 2481.8 L767.6 2484.2 L769.6 2486.6 L771.6 2488.9 L773.6 2491.2 L775.6 2493.4 L777.6 2495.6 L779.6 2497.7 L781.1 2499.2 L781.6 2499.7 L783.6 2501.6 L785.6 2503.5 L787.6 2505.4 L789.6 2507.2 L791.6 2508.9 L793.6 2510.7 L795.6 2512.4 L797.6 2514.1 L799.6 2515.7 L801.6 2517.3 L803.6 2518.9 L805.6 2520.5 L807.6 2522.1 L809.6 2523.7 L811.3 2525 L811.6 2525.3 L813.6 2526.8 L815.7 2528.4 L817.7 2529.9 L819.7 2531.5 L821.7 2533 L823.7 2534.5 L825.7 2536 L827.7 2537.4 L829.7 2538.9 L831.7 2540.3 L833.7 2541.7 L835.7 2543.1 L837.7 2544.4 L839.7 2545.8 L841.6 2547 L841.7 2547.1 L843.7 2548.3 L845.7 2549.6 L847.7 2550.8 L849.7 2552 L851.7 2553.2 L853.7 2554.4 L855.7 2555.6 L857.7 2556.7 L859.7 2557.9 L861.7 2559 L863.7 2560.1 L865.7 2561.2 L867.7 2562.3 L869.7 2563.3 L871.7 2564.4 L871.9 2564.5 L873.7 2565.4 L875.7 2566.5 L877.7 2567.5 L879.7 2568.5 L881.7 2569.5 L883.7 2570.5 L885.7 2571.5 L887.7 2572.5 L889.7 2573.4 L891.7 2574.4 L893.7 2575.3 L895.7 2576.2 L897.7 2577.1 L899.7 2578 L901.7 2578.8 L902.1 2579 L903.7 2579.7 L905.8 2580.5 L907.8 2581.4 L909.8 2582.2 L911.8 2583 L913.8 2583.9 L915.8 2584.7 L917.8 2585.4 L919.8 2586.2 L921.8 2587 L923.8 2587.7 L925.8 2588.4 L927.8 2589.1 L929.8 2589.8 L931.8 2590.4 L932.4 2590.6 L933.8 2591 L935.8 2591.6 L937.8 2592.2 L939.8 2592.8 L941.8 2593.4 L943.8 2593.9 L945.8 2594.5 L947.8 2595 L949.8 2595.5 L951.8 2596 L953.8 2596.5 L955.8 2597 L957.8 2597.4 L959.8 2597.9 L961.8 2598.3 L962.7 2598.5 L963.8 2598.7 L965.8 2599.1 L967.8 2599.5 L969.8 2599.9 L971.8 2600.2 L973.8 2600.6 L975.8 2600.9 L977.8 2601.2 L979.8 2601.5 L981.8 2601.9 L983.8 2602.2 L985.8 2602.5 L987.8 2602.8 L989.8 2603.1 L991.8 2603.4 L992.9 2603.6 L993.8 2603.8 L995.9 2604.1 L997.9 2604.4 L999.9 2604.8 L1001.9 2605.1 L1003.9 2605.5 L1005.9 2605.8 L1007.9 2606.1 L1009.9 2606.5 L1011.9 2606.8 L1013.9 2607.1 L1015.9 2607.4 L1017.9 2607.7 L1019.9 2607.9 L1021.9 2608.2 L1023.2 2608.3 L1023.9 2608.4 L1025.9 2608.6 L1027.9 2608.8 L1029.9 2609 L1031.9 2609.2 L1033.9 2609.3 L1035.9 2609.5 L1037.9 2609.7 L1039.9 2609.9 L1041.9 2610 L1043.9 2610.2 L1045.9 2610.3 L1047.9 2610.5 L1049.9 2610.6 L1051.9 2610.8 L1053.9 2610.9 L1055.9 2611 L1057.9 2611.1 L1059.9 2611.3 L1061.9 2611.4 L1063.9 2611.5 L1065.9 2611.6 L1067.9 2611.7 L1068.6 2611.7 L1069.9 2611.8 L1071.9 2611.9 L1073.9 2611.9 L1075.9 2612 L1077.9 2612.1 L1079.9 2612.2 L1081.9 2612.3 L1083.9 2612.4 L1086 2612.5 L1088 2612.6 L1090 2612.6 L1092 2612.7 L1094 2612.8 L1096 2612.9 L1098 2612.9 L1100 2613 L1102 2613.1 L1104 2613.1 L1106 2613.2 L1108 2613.3 L1110 2613.3 L1112 2613.4 L1114 2613.4 L1116 2613.5 L1118 2613.5 L1120 2613.6 L1122 2613.6 L1124 2613.6 L1126 2613.7 L1128 2613.7 L1130 2613.7" stroke="#44ee44" stroke-width="9.2" fill="none" stroke-linejoin="round"/>
</g>
<path d="M881.2 2118.9H989.5" stroke="#3f9cf0" stroke-width="9.6" stroke-linecap="round" fill="none"/>
<text font-size="48.5" text-anchor="start" letter-spacing="0.5" x="1003" y="2133.4">ED</text>
<path d="M881.2 2181.5H989.5" stroke="#f5484c" stroke-width="9.6" stroke-linecap="round" fill="none"/>
<text font-size="48.5" text-anchor="start" letter-spacing="0.5" x="1003" y="2196">MD</text>
<path d="M881.2 2243.9H989.5" stroke="#ff9045" stroke-width="9.6" stroke-linecap="round" fill="none"/>
<text font-size="48.5" text-anchor="start" letter-spacing="0.5" x="1003" y="2258.4">EQ</text>
<path d="M881.2 2306.3H989.5" stroke="#ffe840" stroke-width="9.6" stroke-linecap="round" fill="none"/>
<text font-size="48.5" text-anchor="start" letter-spacing="0.5" x="1003" y="2320.8">MQ</text>
<path d="M881.2 2368.7H989.5" stroke="#44ee44" stroke-width="9.6" stroke-linecap="round" fill="none"/>
<text font-size="48.5" text-anchor="start" letter-spacing="0.5" x="1003" y="2383.2">TD</text>
<text font-size="44" text-anchor="end" letter-spacing="0.8" x="215.8" y="2844.3">0.0E+0</text>
<text font-size="44" text-anchor="end" letter-spacing="0.8" x="215.8" y="2645">2.5E-9</text>
<text font-size="44" text-anchor="end" letter-spacing="0.8" x="215.8" y="2445.7">5.0E-9</text>
<text font-size="44" text-anchor="end" letter-spacing="0.8" x="215.8" y="2246.4">7.5E-9</text>
<text font-size="44" text-anchor="end" letter-spacing="0.8" x="215.8" y="2047.1">1.0E-8</text>
<text font-size="44" text-anchor="middle" letter-spacing="1" x="291.8" y="2880.8">0.975</text>
<text font-size="44" text-anchor="middle" letter-spacing="1" x="391.5" y="2880.8">0.980</text>
<text font-size="44" text-anchor="middle" letter-spacing="1" x="491.2" y="2880.8">0.985</text>
<text font-size="44" text-anchor="middle" letter-spacing="1" x="590.9" y="2880.8">0.990</text>
<text font-size="44" text-anchor="middle" letter-spacing="1" x="690.6" y="2880.8">0.995</text>
<text font-size="44" text-anchor="middle" letter-spacing="1" x="790.3" y="2880.8">1.000</text>
<text font-size="44" text-anchor="middle" letter-spacing="1" x="890" y="2880.8">1.005</text>
<text font-size="44" text-anchor="middle" letter-spacing="1" x="989.7" y="2880.8">1.010</text>
<text font-size="44" text-anchor="middle" letter-spacing="1" x="1089.4" y="2880.8">1.015</text>
<text font-size="42" text-anchor="middle" letter-spacing="1.5" x="680.9" y="2954.4">Frequency(THz)</text>
<text font-size="53.3" text-anchor="middle" transform="translate(61.5 2432.3) rotate(-90)">Scattering power(a.u.)</text>
<text font-size="35" text-anchor="middle" x="566" y="2012.8">0.989</text>
<text transform="translate(229.7 2095.5) scale(1.15 0.95)" font-size="47.4" stroke="#000" stroke-width="1.1" text-anchor="start">（</text>
<text transform="translate(319.8 2095.5) scale(1.15 0.95)" font-size="47.4" stroke="#000" stroke-width="1.1" text-anchor="start">）</text>
<text font-size="54.5" text-anchor="start" x="289.6" y="2099.7">e</text>
<rect x="1257" y="2033.5" width="898.5" height="797.7" fill="none" stroke="#000" stroke-width="9.2"/>
<path d="M1257 2671.3h13.9M1257 2511.7h13.9M1257 2352h13.9M1257 2192.4h13.9" stroke="#000" stroke-width="8.4" fill="none"/>
<path d="M1436.7 2831.2v-13.9M1616.4 2831.2v-13.9M1796.1 2831.2v-13.9M1975.8 2831.2v-13.9" stroke="#000" stroke-width="8.4" fill="none"/>
<g clip-path="url(#c6)">
<use href="#gf" x="1257" y="2158.9"/><use href="#gf" x="1275" y="2160.8"/><use href="#gf" x="1292.9" y="2162.8"/><use href="#gf" x="1310.9" y="2164.9"/><use href="#gf" x="1328.9" y="2167"/><use href="#gf" x="1346.8" y="2169.2"/><use href="#gf" x="1364.8" y="2171.3"/><use href="#gf" x="1382.8" y="2173.7"/><use href="#gf" x="1400.8" y="2176.5"/><use href="#gf" x="1418.7" y="2179.8"/><use href="#gf" x="1436.7" y="2184"/><use href="#gf" x="1454.7" y="2189.7"/><use href="#gf" x="1472.6" y="2195.6"/><use href="#gf" x="1490.6" y="2200.3"/><use href="#gf" x="1508.6" y="2205.2"/><use href="#gf" x="1526.5" y="2211.7"/><use href="#gf" x="1544.5" y="2219.9"/><use href="#gf" x="1562.5" y="2231.2"/><use href="#gf" x="1580.5" y="2244.3"/><use href="#gf" x="1598.4" y="2261.3"/><use href="#gf" x="1616.4" y="2278.3"/><use href="#gf" x="1634.4" y="2302.8"/><use href="#gf" x="1652.3" y="2332.2"/><use href="#gf" x="1670.3" y="2372.8"/><use href="#gf" x="1688.3" y="2419.1"/><use href="#gf" x="1706.2" y="2487.7"/><use href="#gf" x="1724.2" y="2575"/><use href="#gf" x="1742.2" y="2676.9"/><use href="#gf" x="1760.2" y="2784.6"/><use href="#gf" x="1778.1" y="2828.5"/><use href="#gf" x="1796.1" y="2765.5"/><use href="#gf" x="1814.1" y="2625.2"/><use href="#gf" x="1832" y="2482.7"/><use href="#gf" x="1850" y="2372.8"/><use href="#gf" x="1868" y="2294.2"/><use href="#gf" x="1885.9" y="2241.3"/><use href="#gf" x="1903.9" y="2203.6"/><use href="#gf" x="1921.9" y="2186"/><use href="#gf" x="1939.9" y="2174.9"/><use href="#gf" x="1957.8" y="2167"/><use href="#gf" x="1975.8" y="2163.3"/><use href="#gf" x="1993.8" y="2161.3"/><use href="#gf" x="2011.7" y="2160.5"/><use href="#gf" x="2029.7" y="2161.3"/><use href="#gf" x="2047.7" y="2162.9"/><use href="#gf" x="2065.6" y="2165.3"/><use href="#gf" x="2083.6" y="2167.8"/><use href="#gf" x="2101.6" y="2170.9"/><use href="#gf" x="2119.6" y="2174.1"/><use href="#gf" x="2137.5" y="2177.6"/><use href="#gf" x="2155.5" y="2182.8"/>
<path d="M1257 2167 L1258 2167.1 L1259 2167.1 L1260 2167.2 L1261 2167.3 L1262 2167.3 L1263 2167.4 L1264 2167.5 L1265 2167.5 L1266 2167.6 L1267 2167.7 L1268 2167.7 L1269 2167.8 L1270 2167.9 L1271 2168 L1272 2168 L1273 2168.1 L1274 2168.2 L1275 2168.2 L1276 2168.3 L1277 2168.4 L1278 2168.5 L1279 2168.5 L1280 2168.6 L1281 2168.7 L1282 2168.8 L1283 2168.8 L1284 2168.9 L1285 2169 L1286 2169.1 L1287 2169.1 L1288 2169.2 L1289 2169.3 L1290 2169.4 L1291 2169.5 L1292 2169.5 L1293 2169.6 L1294 2169.7 L1295 2169.8 L1296 2169.9 L1297 2169.9 L1298 2170 L1299 2170.1 L1300 2170.2 L1301 2170.3 L1302 2170.4 L1303 2170.4 L1304 2170.5 L1305 2170.6 L1306 2170.7 L1307 2170.8 L1308 2170.9 L1309 2171 L1310 2171 L1311 2171.1 L1312 2171.2 L1313 2171.3 L1314 2171.4 L1315 2171.5 L1316 2171.6 L1317 2171.7 L1318 2171.7 L1319 2171.8 L1320 2171.9 L1321 2172 L1322 2172.1 L1323 2172.2 L1324 2172.3 L1325 2172.4 L1326 2172.5 L1327 2172.6 L1328 2172.6 L1328.6 2172.7 L1329 2172.7 L1330 2172.8 L1331 2172.9 L1332 2173 L1333 2173.1 L1334 2173.2 L1335 2173.3 L1336 2173.4 L1337 2173.5 L1338 2173.6 L1339 2173.7 L1340 2173.8 L1341 2173.9 L1342 2174 L1343 2174.1 L1344 2174.2 L1345 2174.3 L1346 2174.4 L1347.1 2174.5 L1348.1 2174.6 L1349.1 2174.7 L1350.1 2174.8 L1351.1 2174.9 L1352.1 2175 L1353.1 2175.1 L1354.1 2175.2 L1355.1 2175.3 L1356.1 2175.4 L1357.1 2175.5 L1358.1 2175.6 L1359.1 2175.7 L1360.1 2175.8 L1361.1 2175.9 L1362.1 2176 L1363.1 2176.1 L1364.1 2176.2 L1365.1 2176.3 L1366.1 2176.5 L1367.1 2176.6 L1368.1 2176.7 L1369.1 2176.8 L1370.1 2176.9 L1371.1 2177 L1372.1 2177.1 L1373.1 2177.2 L1374.1 2177.4 L1375.1 2177.5 L1376.1 2177.6 L1377.1 2177.7 L1378.1 2177.8 L1379.1 2177.9 L1380.1 2178 L1381.1 2178.2 L1382.1 2178.3 L1383.1 2178.4 L1384.1 2178.5 L1385.1 2178.6 L1386.1 2178.8 L1387.1 2178.9 L1388.1 2179 L1389.1 2179.1 L1390.1 2179.2 L1391.1 2179.4 L1392.1 2179.5 L1393.1 2179.6 L1394.1 2179.7 L1395.1 2179.9 L1396.1 2180 L1397.1 2180.1 L1398.1 2180.3 L1398.4 2180.3 L1399.1 2180.4 L1400.1 2180.5 L1401.1 2180.6 L1402.1 2180.8 L1403.1 2180.9 L1404.1 2181 L1405.1 2181.2 L1406.1 2181.3 L1407.1 2181.4 L1408.1 2181.6 L1409.1 2181.7 L1410.1 2181.9 L1411.1 2182 L1412.1 2182.1 L1413.1 2182.3 L1414.1 2182.4 L1415.1 2182.6 L1416.1 2182.7 L1417.1 2182.9 L1418.1 2183 L1419.1 2183.2 L1420.1 2183.3 L1421.1 2183.5 L1422.1 2183.6 L1423.1 2183.8 L1424.1 2183.9 L1425.1 2184.1 L1426.1 2184.3 L1427.1 2184.4 L1428.1 2184.6 L1429.1 2184.8 L1430.1 2184.9 L1431.1 2185.1 L1432.1 2185.3 L1433.1 2185.5 L1434.1 2185.6 L1435.1 2185.8 L1436 2186 L1436.1 2186 L1437.1 2186.2 L1438.1 2186.4 L1439.1 2186.6 L1440.1 2186.8 L1441.1 2187 L1442.1 2187.2 L1443.1 2187.4 L1444.1 2187.7 L1445.1 2187.9 L1446.1 2188.1 L1447.1 2188.3 L1448.1 2188.6 L1449.1 2188.8 L1450.1 2189.1 L1451.1 2189.3 L1452.1 2189.5 L1453.1 2189.8 L1454.1 2190 L1455.1 2190.3 L1456.1 2190.5 L1457.1 2190.8 L1458.1 2191.1 L1459.1 2191.3 L1460.1 2191.6 L1461.1 2191.8 L1462.1 2192.1 L1463.1 2192.4 L1464.1 2192.6 L1465.1 2192.9 L1466.1 2193.2 L1467.1 2193.4 L1468.1 2193.7 L1469.1 2194 L1470 2194.2 L1470.1 2194.2 L1471.1 2194.5 L1472.1 2194.8 L1473.1 2195 L1474.1 2195.3 L1475.1 2195.6 L1476.1 2195.9 L1477.1 2196.2 L1478.1 2196.4 L1479.1 2196.7 L1480.1 2197 L1481.1 2197.3 L1482.1 2197.6 L1483.1 2197.9 L1484.1 2198.2 L1485.1 2198.5 L1486.1 2198.8 L1487.1 2199.1 L1488.1 2199.4 L1489.1 2199.7 L1490.1 2200 L1491.1 2200.3 L1492.1 2200.6 L1493.1 2200.9 L1494.1 2201.2 L1495.1 2201.5 L1496.1 2201.8 L1497.1 2202.1 L1498.1 2202.5 L1499.1 2202.8 L1500.1 2203.1 L1501.1 2203.4 L1502.1 2203.7 L1503.1 2204 L1504.1 2204.3 L1505.1 2204.6 L1505.8 2204.8 L1506.1 2204.9 L1507.1 2205.2 L1508.1 2205.5 L1509.1 2205.8 L1510.1 2206.1 L1511.1 2206.4 L1512.1 2206.7 L1513.1 2207 L1514.1 2207.2 L1515.1 2207.5 L1516.1 2207.8 L1517.1 2208.1 L1518.1 2208.4 L1519.1 2208.7 L1520.1 2209 L1521.1 2209.3 L1522.1 2209.6 L1523.1 2209.8 L1524.1 2210.1 L1525.1 2210.4 L1526.1 2210.7 L1527.2 2211 L1528.2 2211.3 L1529.2 2211.7 L1530.2 2212 L1531.2 2212.3 L1532.2 2212.6 L1533.2 2212.9 L1534.2 2213.3 L1535.2 2213.6 L1536.2 2214 L1537.2 2214.3 L1538.2 2214.7 L1539.2 2215 L1540.2 2215.4 L1541.2 2215.8 L1541.7 2216 L1542.2 2216.2 L1543.2 2216.6 L1544.2 2217 L1545.2 2217.4 L1546.2 2217.8 L1547.2 2218.3 L1548.2 2218.7 L1549.2 2219.2 L1550.2 2219.6 L1551.2 2220.1 L1552.2 2220.6 L1553.2 2221 L1554.2 2221.5 L1555.2 2222 L1556.2 2222.5 L1557.2 2223 L1558.2 2223.6 L1559.2 2224.1 L1560.2 2224.6 L1561.2 2225.2 L1562.2 2225.7 L1563.2 2226.2 L1564.2 2226.8 L1565.2 2227.4 L1566.2 2227.9 L1567.2 2228.5 L1568.2 2229.1 L1569.2 2229.7 L1570.2 2230.2 L1571.2 2230.8 L1571.8 2231.2 L1572.2 2231.4 L1573.2 2232 L1574.2 2232.6 L1575.2 2233.2 L1576.2 2233.9 L1577.2 2234.5 L1578.2 2235.1 L1579.2 2235.8 L1580.2 2236.4 L1581.2 2237.1 L1582.2 2237.7 L1583.2 2238.4 L1584.2 2239.1 L1585.2 2239.8 L1586.2 2240.5 L1587.2 2241.2 L1588.2 2242 L1589.2 2242.7 L1590.2 2243.4 L1591.2 2244.2 L1592.2 2245 L1593.2 2245.8 L1594.2 2246.6 L1595.2 2247.4 L1596.2 2248.3 L1597.2 2249.1 L1598.2 2250 L1598.2 2250 L1599.2 2250.9 L1600.2 2251.8 L1601.2 2252.8 L1602.2 2253.8 L1603.2 2254.8 L1604.2 2255.8 L1605.2 2256.9 L1606.2 2258 L1607.2 2259.1 L1608.2 2260.3 L1609.2 2261.4 L1610.2 2262.6 L1611.2 2263.8 L1612.2 2265 L1613.2 2266.2 L1614.2 2267.4 L1615.2 2268.6 L1616.2 2269.8 L1617 2270.8 L1617.2 2271 L1618.2 2272.3 L1619.2 2273.5 L1620.2 2274.8 L1621.2 2276.1 L1622.2 2277.4 L1623.2 2278.7 L1624.2 2280.1 L1625.2 2281.4 L1626.2 2282.8 L1627.2 2284.2 L1628.2 2285.6 L1629.2 2287 L1630.2 2288.4 L1631.2 2289.9 L1632.2 2291.3 L1633.2 2292.8 L1634.2 2294.3 L1635.2 2295.8 L1636 2297 L1636.2 2297.3 L1637.2 2298.9 L1638.2 2300.4 L1639.2 2302 L1640.2 2303.6 L1641.2 2305.2 L1642.2 2306.8 L1643.2 2308.5 L1644.2 2310.2 L1645.2 2311.8 L1646.2 2313.6 L1647.2 2315.3 L1648.2 2317 L1649.2 2318.8 L1650.2 2320.6 L1651.2 2322.5 L1652.2 2324.3 L1653.2 2326.2 L1654.2 2328.1 L1654.8 2329.2 L1655.2 2330 L1656.2 2332 L1657.2 2333.9 L1658.2 2335.9 L1659.2 2338 L1660.2 2340 L1661.2 2342.1 L1662.2 2344.2 L1663.2 2346.4 L1664.2 2348.6 L1665.2 2350.8 L1666.2 2353 L1667.2 2355.3 L1668.2 2357.6 L1669.2 2360 L1670.2 2362.4 L1671.2 2364.8 L1672.2 2367.3 L1673.2 2369.8 L1673.6 2370.7 L1674.2 2372.3 L1675.2 2374.9 L1676.2 2377.6 L1677.2 2380.2 L1678.2 2383 L1679.2 2385.8 L1680.2 2388.6 L1681.2 2391.5 L1682.2 2394.4 L1683.2 2397.4 L1684.2 2400.4 L1685.2 2403.5 L1686.2 2406.6 L1687.2 2409.8 L1688.2 2413 L1689.2 2416.2 L1690.2 2419.6 L1691.2 2422.9 L1692.2 2426.3 L1692.5 2427.2 L1693.2 2429.8 L1694.2 2433.3 L1695.2 2436.8 L1696.2 2440.5 L1697.2 2444.2 L1698.2 2447.9 L1699.2 2451.8 L1700.2 2455.7 L1701.2 2459.7 L1702.2 2463.8 L1703.2 2468 L1704.2 2472.3 L1705.2 2476.8 L1706.2 2481.3 L1707.3 2485.9 L1707.6 2487.6 L1708.3 2490.8 L1709.3 2495.9 L1710.3 2501.3 L1711.3 2506.9 L1712.3 2512.6 L1713.3 2518.5 L1714.3 2524.5 L1715 2529 L1715.3 2530.5 L1716.3 2536.7 L1717.3 2543.1 L1718.3 2549.7 L1719.3 2556.4 L1720.3 2563.1 L1721.3 2569.9 L1722.3 2576.8 L1723.3 2583.6 L1724.3 2590.3 L1725.3 2597 L1726.3 2603.6 L1726.4 2604.5 L1727.3 2610.1 L1728.3 2616.5 L1729.3 2622.9 L1730.3 2629.3 L1731.3 2635.7 L1732.3 2642 L1733.3 2648.4 L1734.3 2654.6 L1735.3 2660.9 L1736.3 2667.1 L1737.3 2673.3 L1737.7 2676 L1738.3 2679.5 L1739.3 2685.8 L1740.3 2692.1 L1741.3 2698.5 L1742.3 2704.8 L1743.3 2711.1 L1744.3 2717.3 L1745.3 2723.3 L1746.3 2729.2 L1747.3 2734.9 L1748.3 2740.3 L1749 2744 L1749.3 2745.4 L1750.3 2750.4 L1751.3 2755.3 L1752.3 2760.1 L1753.3 2764.8 L1754.3 2769.4 L1755.3 2773.8 L1756.3 2778.1 L1757.3 2782.1 L1758.3 2786 L1759.3 2789.6 L1760.3 2792.9 L1760.3 2793 L1761.3 2796.1 L1762.3 2799.2 L1763.3 2802.2 L1764.3 2805.1 L1765.3 2807.8 L1766.3 2810.3 L1767.3 2812.7 L1768.3 2814.8 L1769.3 2816.6 L1769.8 2817.5 L1770.3 2818.3 L1771.3 2819.9 L1772.3 2821.5 L1773.3 2823 L1774.3 2824.4 L1775.3 2825.5 L1776.3 2826.4 L1777.3 2826.9 L1778 2827" stroke="#f81418" stroke-width="9.8" fill="none" stroke-linejoin="round" stroke-linecap="round" stroke-dasharray="13.2 30.2" stroke-dashoffset="-3"/>
<path d="M2141.9 2144.3 L2141.5 2144.3 L2140.5 2144.4 L2139.5 2144.4 L2138.5 2144.5 L2137.5 2144.6 L2136.5 2144.6 L2135.5 2144.7 L2134.5 2144.8 L2133.5 2144.8 L2132.5 2144.9 L2131.5 2145 L2130.5 2145 L2129.5 2145.1 L2128.5 2145.2 L2127.5 2145.2 L2126.5 2145.3 L2125.5 2145.4 L2124.5 2145.5 L2123.5 2145.5 L2122.5 2145.6 L2121.5 2145.7 L2120.5 2145.8 L2119.5 2145.9 L2118.5 2145.9 L2117.5 2146 L2116.5 2146.1 L2115.5 2146.2 L2114.5 2146.3 L2113.5 2146.4 L2112.5 2146.4 L2111.5 2146.5 L2110.5 2146.6 L2109.5 2146.7 L2108.5 2146.8 L2107.5 2146.9 L2106.5 2147 L2105.5 2147.1 L2104.5 2147.2 L2103.5 2147.3 L2102.5 2147.4 L2101.5 2147.5 L2100.5 2147.6 L2099.5 2147.7 L2098.5 2147.8 L2097.5 2147.9 L2096.5 2148 L2095.5 2148.1 L2094.5 2148.2 L2093.5 2148.3 L2092.5 2148.4 L2091.5 2148.5 L2090.5 2148.6 L2089.5 2148.7 L2088.5 2148.8 L2087.5 2148.9 L2086.5 2149 L2085.5 2149.1 L2084.5 2149.2 L2083.5 2149.3 L2082.5 2149.4 L2081.5 2149.5 L2080.5 2149.6 L2079.5 2149.7 L2078.5 2149.8 L2077.5 2150 L2077 2150 L2076.5 2150.1 L2075.5 2150.2 L2074.5 2150.3 L2073.5 2150.4 L2072.5 2150.5 L2071.5 2150.6 L2070.5 2150.8 L2069.5 2150.9 L2068.5 2151 L2067.5 2151.1 L2066.5 2151.3 L2065.4 2151.4 L2064.4 2151.5 L2063.4 2151.7 L2062.4 2151.8 L2061.4 2151.9 L2060.4 2152.1 L2059.4 2152.2 L2058.4 2152.4 L2057.4 2152.5 L2056.4 2152.7 L2055.4 2152.8 L2054.4 2153 L2053.4 2153.1 L2052.4 2153.3 L2051.4 2153.4 L2050.4 2153.6 L2049.4 2153.8 L2048.4 2153.9 L2047.4 2154.1 L2046.4 2154.3 L2045.4 2154.4 L2044.4 2154.6 L2043.4 2154.8 L2042.4 2154.9 L2041.4 2155.1 L2040.4 2155.3 L2039.4 2155.5 L2038.4 2155.7 L2037.4 2155.8 L2036.4 2156 L2035.4 2156.2 L2034.4 2156.4 L2033.4 2156.6 L2032.4 2156.8 L2031.4 2156.9 L2030.4 2157.1 L2029.4 2157.3 L2028.4 2157.5 L2028 2157.6 L2027.4 2157.7 L2026.4 2157.9 L2025.4 2158.1 L2024.4 2158.3 L2023.4 2158.5 L2022.4 2158.7 L2021.4 2158.9 L2020.4 2159.1 L2019.4 2159.4 L2018.4 2159.6 L2017.4 2159.8 L2016.4 2160 L2015.4 2160.3 L2014.4 2160.5 L2013.4 2160.7 L2012.4 2161 L2011.4 2161.2 L2010.4 2161.5 L2009.4 2161.7 L2008.4 2162 L2007.4 2162.2 L2006.4 2162.5 L2005.4 2162.7 L2004.4 2163 L2003.4 2163.2 L2002.4 2163.5 L2001.4 2163.8 L2000.4 2164.1 L1999.4 2164.3 L1998.4 2164.6 L1997.4 2164.9 L1996.4 2165.2 L1995.4 2165.5 L1994.4 2165.8 L1993.4 2166.1 L1992.4 2166.4 L1991.4 2166.7 L1990.4 2167 L1990.3 2167 L1989.4 2167.3 L1988.4 2167.6 L1987.4 2167.9 L1986.4 2168.2 L1985.4 2168.5 L1984.4 2168.9 L1983.4 2169.2 L1982.4 2169.5 L1981.4 2169.9 L1980.4 2170.2 L1979.4 2170.6 L1978.4 2170.9 L1977.4 2171.3 L1976.4 2171.7 L1975.4 2172 L1974.4 2172.4 L1973.4 2172.8 L1972.4 2173.2 L1971.4 2173.6 L1970.4 2174 L1969.4 2174.4 L1968.4 2174.8 L1967.4 2175.2 L1966.4 2175.7 L1965.4 2176.1 L1964.4 2176.5 L1963.4 2177 L1962.4 2177.4 L1961.4 2177.9 L1960.4 2178.4 L1959.4 2178.8 L1958.4 2179.3 L1957.4 2179.8 L1956.4 2180.3 L1956.4 2180.3 L1955.4 2180.8 L1954.4 2181.3 L1953.4 2181.9 L1952.4 2182.4 L1951.4 2183 L1950.4 2183.5 L1949.4 2184.1 L1948.4 2184.7 L1947.4 2185.3 L1946.4 2185.9 L1945.4 2186.6 L1944.4 2187.2 L1943.4 2187.8 L1942.4 2188.5 L1941.4 2189.2 L1940.4 2189.9 L1939.4 2190.6 L1938.4 2191.3 L1937.4 2192 L1936.4 2192.8 L1935.4 2193.5 L1934.4 2194.3 L1933.4 2195.1 L1932.4 2195.8 L1931.4 2196.6 L1930.4 2197.5 L1929.4 2198.3 L1928.4 2199.1 L1927.4 2200 L1926.4 2200.8 L1926.2 2201 L1925.4 2201.7 L1924.4 2202.6 L1923.4 2203.6 L1922.4 2204.6 L1921.4 2205.6 L1920.4 2206.6 L1919.4 2207.6 L1918.4 2208.7 L1917.4 2209.8 L1916.4 2210.9 L1915.4 2212.1 L1914.4 2213.3 L1913.4 2214.5 L1912.4 2215.7 L1911.4 2217 L1910.4 2218.2 L1909.4 2219.5 L1908.4 2220.8 L1907.4 2222.2 L1906.4 2223.5 L1905.4 2224.9 L1904.4 2226.3 L1903.6 2227.4 L1903.4 2227.7 L1902.4 2229.2 L1901.4 2230.7 L1900.4 2232.3 L1899.4 2233.9 L1898.4 2235.5 L1897.4 2237.2 L1896.4 2238.9 L1895.4 2240.7 L1894.4 2242.5 L1893.4 2244.3 L1892.4 2246.2 L1891.4 2248.1 L1890.4 2250 L1889.4 2252 L1888.4 2254 L1887.4 2256 L1886.4 2258.1 L1885.3 2260.1 L1884.8 2261.3 L1884.3 2262.3 L1883.3 2264.4 L1882.3 2266.7 L1881.3 2268.9 L1880.3 2271.3 L1879.3 2273.7 L1878.3 2276.1 L1877.3 2278.6 L1876.3 2281.2 L1875.3 2283.7 L1874.3 2286.4 L1873.3 2289 L1872.3 2291.7 L1871.3 2294.5 L1870.3 2297.2 L1869.7 2299 L1869.3 2300 L1868.3 2302.8 L1867.3 2305.7 L1866.3 2308.6 L1865.3 2311.6 L1864.3 2314.6 L1863.3 2317.6 L1862.3 2320.8 L1861.3 2324 L1860.3 2327.2 L1859.3 2330.6 L1858.3 2334 L1857.3 2337.5 L1856.5 2340.5 L1856.3 2341.1 L1855.3 2344.8 L1854.3 2348.7 L1853.3 2352.7 L1852.3 2356.8 L1851.3 2360.9 L1850.3 2365.2 L1849.3 2369.6 L1848.3 2374 L1847.3 2378.5 L1846.3 2383.1 L1845.3 2387.6 L1844.3 2392.3 L1843.3 2396.9 L1843.3 2397 L1842.3 2401.5 L1841.3 2406.2 L1840.3 2410.9 L1839.3 2415.6 L1838.3 2420.5 L1837.3 2425.4 L1836.3 2430.4 L1835.3 2435.5 L1834.3 2440.8 L1833.3 2446.2 L1832.3 2451.8 L1832 2453.6 L1831.3 2457.5 L1830.3 2463.5 L1829.3 2469.6 L1828.3 2476 L1827.3 2482.5 L1826.3 2489.1 L1825.3 2495.9 L1824.3 2502.9 L1823.3 2510 L1822.3 2517.2 L1821.3 2524.5 L1820.7 2529 L1820.3 2531.9 L1819.3 2539.6 L1818.3 2547.6 L1817.3 2555.9 L1816.3 2564.3 L1815.3 2572.9 L1814.3 2581.5 L1813.3 2590.2 L1812.3 2598.9 L1811.3 2607.4 L1810.3 2615.8 L1809.4 2623.3 L1809.3 2624.1 L1808.3 2632.1 L1807.3 2640.1 L1806.3 2648.1 L1805.3 2656 L1804.3 2663.9 L1803.3 2671.8 L1802.3 2679.6 L1801.3 2687.5 L1800.3 2695.5 L1799.9 2698.7 L1799.3 2703.5 L1798.3 2711.7 L1797.3 2719.9 L1796.3 2728.1 L1795.3 2736.3 L1794.3 2744.3 L1793.3 2752.2 L1792.4 2759 L1792.3 2759.8 L1791.3 2767.6 L1790.3 2775.7 L1789.3 2783.9 L1788.3 2791.7 L1787.3 2798.9 L1786.3 2805.1 L1785.3 2810 L1784.8 2811.9 L1784.3 2813.6 L1783.3 2816.8 L1782.3 2819.9 L1781.3 2822.6 L1780.3 2824.7 L1779.3 2826.2 L1778.3 2827 L1778 2827" stroke="#f81418" stroke-width="9.8" fill="none" stroke-linejoin="round" stroke-linecap="round" stroke-dasharray="13.2 30.2" stroke-dashoffset="0"/>
</g>
<use href="#gf" x="1365.2" y="2490.6"/>
<path d="M1314.3 2549H1416" stroke="#f81418" stroke-width="9.8" stroke-dasharray="13.2 30.2" stroke-linecap="round" fill="none"/>
<text font-size="44.3" text-anchor="start" letter-spacing="0.35" x="1425.9" y="2504.5">Simutation</text>
<text font-size="44.3" text-anchor="start" letter-spacing="0.35" x="1425.9" y="2563">Fano fitted</text>
<text font-size="35" text-anchor="end" letter-spacing="1.6" x="1243.9" y="2841.1">0.0</text>
<text font-size="35" text-anchor="end" letter-spacing="1.6" x="1243.9" y="2681.5">0.2</text>
<text font-size="35" text-anchor="end" letter-spacing="1.6" x="1243.9" y="2521.9">0.4</text>
<text font-size="35" text-anchor="end" letter-spacing="1.6" x="1243.9" y="2362.2">0.6</text>
<text font-size="35" text-anchor="end" letter-spacing="1.6" x="1243.9" y="2202.6">0.8</text>
<text font-size="35" text-anchor="end" letter-spacing="1.6" x="1243.9" y="2043">1.0</text>
<text font-size="43" text-anchor="middle" x="1257" y="2880.8">0.96</text>
<text font-size="43" text-anchor="middle" x="1436.7" y="2880.8">0.97</text>
<text font-size="43" text-anchor="middle" x="1616.4" y="2880.8">0.98</text>
<text font-size="43" text-anchor="middle" x="1796.1" y="2880.8">0.99</text>
<text font-size="43" text-anchor="middle" x="1975.8" y="2880.8">1.00</text>
<text font-size="43" text-anchor="middle" x="2155.5" y="2880.8">1.01</text>
<text font-size="42" text-anchor="middle" letter-spacing="1.5" x="1707" y="2955.7">Frequency(THz)</text>
<text font-size="35" text-anchor="middle" transform="translate(1199.8 2427.3) rotate(-90)">Total transmittance</text>
<text transform="translate(1273 2103.4) scale(1.15 0.95)" font-size="47.4" stroke="#000" stroke-width="1.1" text-anchor="start">（</text>
<text transform="translate(1356.9 2103.4) scale(1.15 0.95)" font-size="47.4" stroke="#000" stroke-width="1.1" text-anchor="start">）</text>
<text font-size="54.5" text-anchor="start" x="1333.7" y="2107.6">f</text>
</svg>
</body></html>
